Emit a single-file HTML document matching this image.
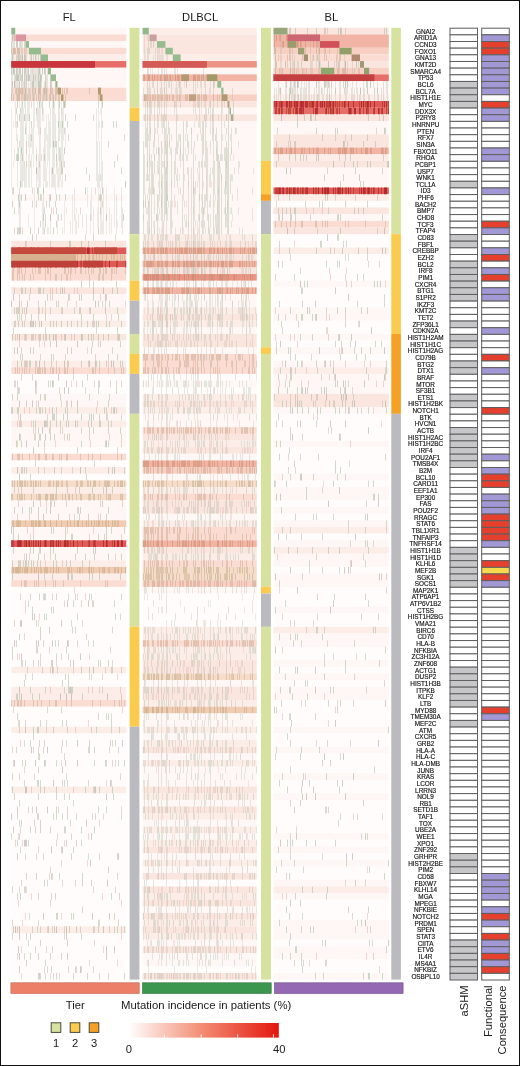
<!DOCTYPE html>
<html><head><meta charset="utf-8"><title>Mutation heatmap</title>
<style>
html,body{margin:0;padding:0;background:#fff;}
body{width:520px;height:1066px;position:relative;overflow:hidden;font-family:"Liberation Sans",sans-serif;}
.frame{position:absolute;left:0;top:0;width:520px;height:1066px;box-sizing:border-box;border:1px solid #111;pointer-events:none;}
</style></head><body>
<svg width="520" height="1066" viewBox="0 0 520 1066" style="position:absolute;left:0;top:0"><defs><linearGradient id="lg" x1="0" x2="1" y1="0" y2="0"><stop offset="0" stop-color="#ffffff"/><stop offset="0.5" stop-color="#f28a70"/><stop offset="1" stop-color="#e3170f"/></linearGradient><filter id="bl" x="0" y="0" width="1" height="1"><feGaussianBlur stdDeviation="0.25"/></filter><filter id="gb" x="0" y="0" width="520" height="1066" filterUnits="userSpaceOnUse"><feGaussianBlur stdDeviation="0.45"/></filter></defs><rect x="0" y="0" width="520" height="1066" fill="#fff"/><g filter="url(#gb)"><g filter="url(#bl)"><rect x="11.3" y="27.8" width="115" height="6.68" fill="#fef7f5"/><rect x="11.3" y="34.46" width="115" height="6.68" fill="#fadcd3"/><rect x="11.3" y="41.11" width="115" height="6.68" fill="#fef7f5"/><rect x="11.3" y="47.77" width="115" height="6.68" fill="#fadcd3"/><rect x="11.3" y="54.42" width="115" height="6.68" fill="#fcede8"/><rect x="11.3" y="61.08" width="115" height="6.68" fill="#e66e68"/><rect x="11.3" y="67.74" width="115" height="19.99" fill="#fef7f5"/><rect x="11.3" y="87.7" width="115" height="13.33" fill="#fadcd3"/><rect x="11.3" y="101.02" width="115" height="93.2" fill="#fffcfb"/><rect x="11.3" y="194.2" width="115" height="6.68" fill="#fef7f5"/><rect x="11.3" y="200.86" width="115" height="39.96" fill="#fffcfb"/><rect x="11.3" y="240.79" width="115" height="6.68" fill="#fbe5df"/><rect x="11.3" y="247.45" width="115" height="6.68" fill="#e05a58"/><rect x="11.3" y="254.1" width="115" height="6.68" fill="#f2cbb3"/><rect x="11.3" y="260.76" width="115" height="6.68" fill="#e05a58"/><rect x="11.3" y="267.42" width="115" height="13.33" fill="#fadcd3"/><rect x="11.3" y="280.73" width="115" height="6.68" fill="#fffcfb"/><rect x="11.3" y="287.38" width="115" height="6.68" fill="#fbe5df"/><rect x="11.3" y="294.04" width="115" height="13.33" fill="#fef7f5"/><rect x="11.3" y="307.35" width="115" height="6.68" fill="#fcede8"/><rect x="11.3" y="314.01" width="115" height="6.68" fill="#fef7f5"/><rect x="11.3" y="320.66" width="115" height="6.68" fill="#fcede8"/><rect x="11.3" y="327.32" width="115" height="6.68" fill="#fffcfb"/><rect x="11.3" y="333.98" width="115" height="6.68" fill="#fbe5df"/><rect x="11.3" y="340.63" width="115" height="19.99" fill="#fef7f5"/><rect x="11.3" y="360.6" width="115" height="6.68" fill="#fcede8"/><rect x="11.3" y="367.26" width="115" height="6.68" fill="#fadcd3"/><rect x="11.3" y="373.91" width="115" height="19.99" fill="#fffcfb"/><rect x="11.3" y="393.88" width="115" height="13.33" fill="#fef7f5"/><rect x="11.3" y="407.19" width="115" height="6.68" fill="#fcede8"/><rect x="11.3" y="413.85" width="115" height="6.68" fill="#fef7f5"/><rect x="11.3" y="420.5" width="115" height="6.68" fill="#fcede8"/><rect x="11.3" y="427.16" width="115" height="19.99" fill="#fef7f5"/><rect x="11.3" y="447.13" width="115" height="6.68" fill="#fffcfb"/><rect x="11.3" y="453.78" width="115" height="6.68" fill="#fadcd3"/><rect x="11.3" y="460.44" width="115" height="6.68" fill="#fffcfb"/><rect x="11.3" y="467.1" width="115" height="6.68" fill="#fcede8"/><rect x="11.3" y="473.75" width="115" height="6.68" fill="#fffcfb"/><rect x="11.3" y="480.41" width="115" height="6.68" fill="#f6dccb"/><rect x="11.3" y="487.06" width="115" height="6.68" fill="#fcede8"/><rect x="11.3" y="493.72" width="115" height="6.68" fill="#f6dccb"/><rect x="11.3" y="500.38" width="115" height="19.99" fill="#fef7f5"/><rect x="11.3" y="520.34" width="115" height="6.68" fill="#f2cbb3"/><rect x="11.3" y="527" width="115" height="13.33" fill="#fef7f5"/><rect x="11.3" y="540.31" width="115" height="6.68" fill="#e05a58"/><rect x="11.3" y="546.97" width="115" height="13.33" fill="#fef7f5"/><rect x="11.3" y="560.28" width="115" height="6.68" fill="#fcede8"/><rect x="11.3" y="566.94" width="115" height="6.68" fill="#f2cbb3"/><rect x="11.3" y="573.59" width="115" height="6.68" fill="#fcede8"/><rect x="11.3" y="580.25" width="115" height="6.68" fill="#fadcd3"/><rect x="11.3" y="586.9" width="115" height="79.89" fill="#fffcfb"/><rect x="11.3" y="666.78" width="115" height="6.68" fill="#fcede8"/><rect x="11.3" y="673.43" width="115" height="13.33" fill="#fffcfb"/><rect x="11.3" y="686.74" width="115" height="13.33" fill="#fcede8"/><rect x="11.3" y="700.06" width="115" height="6.68" fill="#fadcd3"/><rect x="11.3" y="706.71" width="115" height="19.99" fill="#fffcfb"/><rect x="11.3" y="726.68" width="115" height="6.68" fill="#fcede8"/><rect x="11.3" y="733.34" width="115" height="53.27" fill="#fffcfb"/><rect x="11.3" y="786.58" width="115" height="6.68" fill="#fcede8"/><rect x="11.3" y="793.24" width="115" height="133.14" fill="#fffcfb"/><rect x="11.3" y="926.36" width="115" height="6.68" fill="#fcede8"/><rect x="11.3" y="933.02" width="115" height="46.61" fill="#fffcfb"/><path fill="#8fae88" fill-opacity="0.42" d="M11 41.11h1v6.66h-1zM11 407.19h1v6.66h-1zM11 833.18h1v6.66h-1zM12 54.42h1v6.66h-1zM12 81.05h1v6.66h-1zM12 333.98h1v6.66h-1zM12 393.88h1v6.66h-1zM12 407.19h1v6.66h-1zM12 560.28h1v6.66h-1zM12 573.59h1v6.66h-1zM12 646.81h1v13.31h-1zM12 773.27h1v6.66h-1zM12 786.58h1v6.66h-1zM12 886.42h1v6.66h-1zM12 919.7h1v6.66h-1zM13 67.74h1v6.66h-1zM13 187.54h1v6.66h-1zM13 327.32h1v6.66h-1zM13 527h1v13.31h-1zM13 546.97h1v6.66h-1zM13 926.36h1v6.66h-1zM14 67.74h1v6.66h-1zM14 207.51h1v6.66h-1zM14 307.35h1v6.66h-1zM14 320.66h1v6.66h-1zM14 347.29h1v6.66h-1zM14 507.03h1v6.66h-1zM14 620.18h1v6.66h-1zM14 793.24h1v6.66h-1zM15 74.39h1v6.66h-1zM16 54.42h1v6.66h-1zM16 67.74h1v13.31h-1zM16 107.67h1v6.66h-1zM16 154.26h1v6.66h-1zM16 307.35h1v6.66h-1zM16 440.47h1v6.66h-1zM16 640.15h1v6.66h-1zM17 67.74h1v6.66h-1zM17 101.02h1v6.66h-1zM17 154.26h1v6.66h-1zM17 227.48h1v6.66h-1zM17 314.01h1v6.66h-1zM17 360.6h1v6.66h-1zM17 393.88h1v6.66h-1zM17 407.19h1v6.66h-1zM17 693.4h1v6.66h-1zM17 713.37h1v6.66h-1zM17 813.21h1v6.66h-1zM17 839.83h1v6.66h-1zM17 893.08h1v6.66h-1zM18 54.42h1v6.66h-1zM18 74.39h1v6.66h-1zM18 147.61h1v6.66h-1zM18 307.35h1v6.66h-1zM18 320.66h1v6.66h-1zM18 387.22h1v6.66h-1zM18 407.19h1v6.66h-1zM18 533.66h1v6.66h-1zM18 560.28h1v6.66h-1zM19 200.86h1v6.66h-1zM19 307.35h1v6.66h-1zM19 633.5h1v6.66h-1zM19 726.68h1v6.66h-1zM19 773.27h1v6.66h-1zM19 799.9h1v6.66h-1zM19 819.86h1v6.66h-1zM19 833.18h1v6.66h-1zM20 41.11h1v6.66h-1zM20 74.39h1v6.66h-1zM20 107.67h1v6.66h-1zM20 180.89h1v6.66h-1zM20 560.28h1v6.66h-1zM21 74.39h1v6.66h-1zM21 147.61h1v6.66h-1zM21 194.2h1v6.66h-1zM21 287.38h1v6.66h-1zM21 314.01h1v6.66h-1zM21 360.6h1v6.66h-1zM21 373.91h1v6.66h-1zM21 440.47h1v6.66h-1zM21 660.12h1v6.66h-1zM21 819.86h1v6.66h-1zM22 67.74h1v6.66h-1zM22 101.02h1v6.66h-1zM22 307.35h1v6.66h-1zM22 320.66h1v6.66h-1zM22 353.94h1v6.66h-1zM22 507.03h1v6.66h-1zM24 467.1h1v6.66h-1zM24 680.09h1v6.66h-1zM25 287.38h1v6.66h-1zM25 673.43h1v6.66h-1zM25 759.96h1v6.66h-1zM25 886.42h1v6.66h-1zM26 74.39h1v6.66h-1zM26 400.54h1v6.66h-1zM26 873.11h1v6.66h-1zM26 933.02h1v6.66h-1zM26 959.64h1v6.66h-1zM28 67.74h1v6.66h-1zM28 560.28h1v6.66h-1zM29 114.33h1v6.66h-1zM29 360.6h1v6.66h-1zM29 507.03h1v6.66h-1zM30 287.38h1v6.66h-1zM30 347.29h1v6.66h-1zM30 360.6h1v6.66h-1zM30 473.75h1v6.66h-1zM30 546.97h1v6.66h-1zM30 593.56h1v6.66h-1zM30 686.74h1v6.66h-1zM30 739.99h1v6.66h-1zM30 826.52h1v6.66h-1zM30 933.02h1v6.66h-1zM30 952.98h1v6.66h-1zM31 120.98h1v6.66h-1zM31 134.3h1v6.66h-1zM31 314.01h1v6.66h-1zM31 507.03h1v6.66h-1zM31 560.28h1v6.66h-1zM32 81.05h1v6.66h-1zM32 606.87h1v6.66h-1zM32 693.4h1v6.66h-1zM33 54.42h1v6.66h-1zM33 74.39h1v6.66h-1zM33 347.29h1v6.66h-1zM33 420.5h1v6.66h-1zM33 546.97h1v6.66h-1zM33 660.12h1v6.66h-1zM33 726.68h1v13.31h-1zM34 819.86h1v6.66h-1zM35 387.22h1v6.66h-1zM35 420.5h1v6.66h-1zM35 826.52h1v6.66h-1zM36 154.26h1v6.66h-1zM36 200.86h1v6.66h-1zM36 407.19h1v6.66h-1zM36 620.18h1v6.66h-1zM36 873.11h1v6.66h-1zM37 560.28h1v6.66h-1zM37 646.81h1v6.66h-1zM37 726.68h1v6.66h-1zM37 779.93h1v6.66h-1zM37 813.21h1v6.66h-1zM38 54.42h1v6.66h-1zM38 67.74h1v19.97h-1zM38 187.54h1v13.31h-1zM38 227.48h1v6.66h-1zM38 307.35h1v13.31h-1zM38 400.54h1v6.66h-1zM38 427.16h1v6.66h-1zM38 440.47h1v6.66h-1zM38 467.1h1v6.66h-1zM38 507.03h1v13.31h-1zM38 553.62h1v6.66h-1zM38 660.12h1v6.66h-1zM38 726.68h1v6.66h-1zM38 746.65h1v6.66h-1zM38 766.62h1v6.66h-1zM38 779.93h1v6.66h-1zM38 793.24h1v6.66h-1zM38 893.08h1v6.66h-1zM38 952.98h1v6.66h-1zM38 972.95h1v6.66h-1zM39 67.74h1v6.66h-1zM39 81.05h1v6.66h-1zM39 101.02h1v6.66h-1zM39 287.38h1v6.66h-1zM39 320.66h1v6.66h-1zM39 407.19h1v6.66h-1zM39 433.82h1v6.66h-1zM39 593.56h1v6.66h-1zM39 693.4h1v6.66h-1zM39 739.99h1v6.66h-1zM39 753.3h1v6.66h-1zM40 194.2h1v6.66h-1zM40 287.38h1v6.66h-1zM40 333.98h1v6.66h-1zM40 393.88h1v6.66h-1zM40 407.19h1v6.66h-1zM40 433.82h1v6.66h-1zM40 546.97h1v6.66h-1zM40 626.84h1v13.31h-1zM40 720.02h1v6.66h-1zM40 786.58h1v6.66h-1zM40 819.86h1v13.31h-1zM40 939.67h1v6.66h-1zM40 972.95h1v6.66h-1zM42 101.02h1v6.66h-1zM43 187.54h1v6.66h-1zM43 214.17h1v6.66h-1zM43 287.38h1v6.66h-1zM43 640.15h1v6.66h-1zM43 746.65h1v6.66h-1zM43 853.14h1v6.66h-1zM44 154.26h1v6.66h-1zM44 440.47h1v6.66h-1zM44 593.56h1v6.66h-1zM44 613.53h1v6.66h-1zM44 739.99h1v6.66h-1zM44 786.58h1v6.66h-1zM44 879.77h1v6.66h-1zM45 67.74h1v19.97h-1zM45 220.82h1v6.66h-1zM45 300.7h1v6.66h-1zM45 314.01h1v6.66h-1zM45 327.32h1v13.31h-1zM45 393.88h1v6.66h-1zM45 407.19h1v6.66h-1zM45 420.5h1v6.66h-1zM45 593.56h1v6.66h-1zM45 759.96h1v6.66h-1zM45 959.64h1v6.66h-1zM46 613.53h1v6.66h-1zM47 294.04h1v6.66h-1zM48 380.57h1v6.66h-1zM48 926.36h1v6.66h-1zM49 101.02h1v6.66h-1zM49 200.86h1v6.66h-1zM49 333.98h1v6.66h-1zM49 427.16h1v6.66h-1zM49 626.84h1v6.66h-1zM50 74.39h1v13.31h-1zM50 320.66h1v6.66h-1zM50 340.63h1v6.66h-1zM50 420.5h1v6.66h-1zM50 433.82h1v6.66h-1zM50 500.38h1v6.66h-1zM50 546.97h1v6.66h-1zM50 826.52h1v6.66h-1zM50 952.98h1v6.66h-1zM51 81.05h1v6.66h-1zM51 353.94h1v13.31h-1zM51 527h1v6.66h-1zM51 606.87h1v6.66h-1zM51 660.12h1v6.66h-1zM51 873.11h1v6.66h-1zM51 893.08h1v6.66h-1zM51 966.3h1v6.66h-1zM52 413.85h1v6.66h-1zM53 101.02h1v6.66h-1zM53 227.48h1v6.66h-1zM53 320.66h1v6.66h-1zM53 380.57h1v6.66h-1zM53 413.85h1v6.66h-1zM53 546.97h1v6.66h-1zM53 560.28h1v6.66h-1zM53 606.87h1v6.66h-1zM53 726.68h1v6.66h-1zM53 813.21h1v6.66h-1zM54 413.85h1v6.66h-1zM54 433.82h1v6.66h-1zM54 467.1h1v6.66h-1zM54 500.38h1v6.66h-1zM54 926.36h1v6.66h-1zM55 140.95h1v6.66h-1zM55 200.86h1v6.66h-1zM55 333.98h1v6.66h-1zM55 553.62h1v6.66h-1zM55 640.15h1v6.66h-1zM55 893.08h1v6.66h-1zM56 140.95h1v6.66h-1zM56 154.26h1v6.66h-1zM56 194.2h1v6.66h-1zM56 207.51h1v6.66h-1zM56 220.82h1v6.66h-1zM56 300.7h1v6.66h-1zM56 320.66h1v6.66h-1zM56 420.5h1v6.66h-1zM56 487.06h1v6.66h-1zM56 560.28h1v6.66h-1zM56 593.56h1v6.66h-1zM56 653.46h1v6.66h-1zM56 759.96h1v6.66h-1zM56 786.58h1v13.31h-1zM56 806.55h1v13.31h-1zM56 913.05h1v6.66h-1zM56 972.95h1v6.66h-1zM57 913.05h1v6.66h-1zM58 120.98h1v6.66h-1zM58 300.7h1v6.66h-1zM58 513.69h1v6.66h-1zM58 640.15h1v6.66h-1zM59 147.61h1v6.66h-1zM60 393.88h1v6.66h-1zM60 420.5h1v6.66h-1zM61 160.92h1v6.66h-1zM61 320.66h1v6.66h-1zM61 706.71h1v6.66h-1zM61 846.49h1v6.66h-1zM61 952.98h1v6.66h-1zM62 120.98h1v6.66h-1zM62 167.58h1v6.66h-1zM62 680.09h1v6.66h-1zM62 720.02h1v6.66h-1zM62 739.99h1v6.66h-1zM62 779.93h1v6.66h-1zM63 413.85h1v6.66h-1zM64 101.02h1v6.66h-1zM64 333.98h1v6.66h-1zM64 779.93h1v6.66h-1zM64 793.24h1v6.66h-1zM64 826.52h1v6.66h-1zM65 114.33h1v6.66h-1zM65 174.23h1v6.66h-1zM65 194.2h1v6.66h-1zM65 407.19h1v6.66h-1zM65 527h1v13.31h-1zM65 673.43h1v6.66h-1zM65 826.52h1v6.66h-1zM66 420.5h1v6.66h-1zM66 560.28h1v6.66h-1zM66 646.81h1v6.66h-1zM66 720.02h1v6.66h-1zM66 839.83h1v6.66h-1zM67 120.98h1v6.66h-1zM67 320.66h1v6.66h-1zM67 347.29h1v6.66h-1zM67 407.19h1v13.31h-1zM67 433.82h1v6.66h-1zM67 487.06h1v6.66h-1zM67 779.93h1v6.66h-1zM67 806.55h1v13.31h-1zM67 939.67h1v6.66h-1zM68 294.04h1v6.66h-1zM68 360.6h1v6.66h-1zM68 420.5h1v6.66h-1zM68 640.15h1v6.66h-1zM68 653.46h1v6.66h-1zM68 680.09h1v6.66h-1zM69 240.79h1v6.66h-1zM69 433.82h1v6.66h-1zM69 686.74h1v6.66h-1zM69 793.24h1v6.66h-1zM69 926.36h1v6.66h-1zM70 240.79h1v6.66h-1zM70 660.12h1v6.66h-1zM71 320.66h1v6.66h-1zM71 347.29h1v6.66h-1zM71 400.54h1v6.66h-1zM71 533.66h1v6.66h-1zM71 573.59h1v6.66h-1zM71 686.74h1v6.66h-1zM71 833.18h1v6.66h-1zM71 853.14h1v6.66h-1zM72 533.66h1v6.66h-1zM72 626.84h1v6.66h-1zM72 686.74h1v6.66h-1zM73 600.22h1v6.66h-1zM73 913.05h1v6.66h-1zM75 553.62h1v6.66h-1zM75 593.56h1v6.66h-1zM75 626.84h1v6.66h-1zM75 966.3h1v6.66h-1zM76 813.21h1v6.66h-1zM76 839.83h1v6.66h-1zM76 926.36h1v6.66h-1zM77 320.66h1v6.66h-1zM77 407.19h1v6.66h-1zM77 447.13h1v6.66h-1zM77 546.97h1v6.66h-1zM77 613.53h1v6.66h-1zM79 294.04h1v6.66h-1zM79 307.35h1v6.66h-1zM79 487.06h1v6.66h-1zM79 513.69h1v6.66h-1zM80 307.35h1v6.66h-1zM80 507.03h1v6.66h-1zM81 240.79h1v6.66h-1zM81 294.04h1v6.66h-1zM81 314.01h1v13.31h-1zM81 413.85h1v6.66h-1zM81 440.47h1v6.66h-1zM81 600.22h1v6.66h-1zM81 666.78h1v6.66h-1zM81 826.52h1v6.66h-1zM81 839.83h1v6.66h-1zM81 933.02h1v6.66h-1zM82 333.98h1v6.66h-1zM82 380.57h1v6.66h-1zM82 560.28h1v6.66h-1zM82 693.4h1v6.66h-1zM82 873.11h1v13.31h-1zM82 906.39h1v6.66h-1zM85 553.62h1v6.66h-1zM85 786.58h1v6.66h-1zM86 473.75h1v6.66h-1zM86 633.5h1v6.66h-1zM87 320.66h1v6.66h-1zM87 373.91h1v6.66h-1zM87 972.95h1v6.66h-1zM88 333.98h1v6.66h-1zM88 513.69h1v6.66h-1zM89 280.73h1v6.66h-1zM89 413.85h1v6.66h-1zM89 427.16h1v6.66h-1zM89 573.59h1v6.66h-1zM89 593.56h1v6.66h-1zM89 666.78h1v6.66h-1zM89 739.99h1v13.31h-1zM90 307.35h1v6.66h-1zM91 333.98h1v6.66h-1zM91 347.29h1v6.66h-1zM91 420.5h1v6.66h-1zM91 879.77h1v6.66h-1zM92 487.06h1v6.66h-1zM92 573.59h1v6.66h-1zM92 600.22h1v6.66h-1zM93 234.14h1v6.66h-1zM93 280.73h1v6.66h-1zM93 294.04h1v6.66h-1zM93 314.01h1v6.66h-1zM93 413.85h1v6.66h-1zM93 427.16h1v6.66h-1zM93 546.97h1v6.66h-1zM93 640.15h1v6.66h-1zM93 926.36h1v6.66h-1zM94 460.44h1v6.66h-1zM94 553.62h1v6.66h-1zM94 746.65h1v6.66h-1zM94 759.96h1v6.66h-1zM94 786.58h1v6.66h-1zM94 826.52h1v6.66h-1zM95 813.21h1v6.66h-1zM96 320.66h1v6.66h-1zM96 360.6h1v6.66h-1zM96 726.68h1v6.66h-1zM98 101.02h1v6.66h-1zM98 300.7h1v6.66h-1zM98 320.66h1v6.66h-1zM98 333.98h1v6.66h-1zM98 387.22h1v6.66h-1zM98 533.66h1v6.66h-1zM98 660.12h1v6.66h-1zM98 713.37h1v6.66h-1zM98 806.55h1v6.66h-1zM98 919.7h1v13.31h-1zM99 360.6h1v6.66h-1zM99 380.57h1v6.66h-1zM99 413.85h1v13.31h-1zM99 573.59h1v6.66h-1zM99 786.58h1v6.66h-1zM99 853.14h1v6.66h-1zM99 972.95h1v6.66h-1zM100 194.2h1v6.66h-1zM100 340.63h1v6.66h-1zM100 420.5h1v6.66h-1zM100 660.12h1v6.66h-1zM102 101.02h1v6.66h-1zM102 120.98h1v6.66h-1zM102 500.38h1v6.66h-1zM103 333.98h1v6.66h-1zM103 487.06h1v6.66h-1zM104 407.19h1v6.66h-1zM104 533.66h1v6.66h-1zM105 240.79h1v6.66h-1zM105 440.47h1v6.66h-1zM105 759.96h1v6.66h-1zM106 320.66h1v6.66h-1zM106 360.6h1v6.66h-1zM106 407.19h1v13.31h-1zM106 513.69h1v6.66h-1zM106 527h1v13.31h-1zM106 713.37h1v6.66h-1zM106 759.96h1v6.66h-1zM108 140.95h1v6.66h-1zM108 333.98h1v6.66h-1zM108 353.94h1v6.66h-1zM108 400.54h1v6.66h-1zM108 420.5h1v13.31h-1zM108 467.1h1v6.66h-1zM108 507.03h1v6.66h-1zM108 553.62h1v6.66h-1zM108 660.12h1v6.66h-1zM108 713.37h1v6.66h-1zM108 866.46h1v6.66h-1zM108 972.95h1v6.66h-1zM109 300.7h1v6.66h-1zM109 320.66h1v6.66h-1zM110 739.99h1v6.66h-1zM111 527h1v6.66h-1zM111 720.02h1v6.66h-1zM111 893.08h1v6.66h-1zM112 287.38h1v6.66h-1zM112 467.1h1v6.66h-1zM112 487.06h1v6.66h-1zM112 786.58h1v6.66h-1zM113 120.98h1v6.66h-1zM113 407.19h1v6.66h-1zM113 793.24h1v6.66h-1zM114 160.92h1v6.66h-1zM114 600.22h1v6.66h-1zM114 913.05h1v6.66h-1zM114 926.36h1v6.66h-1zM115 613.53h1v6.66h-1zM115 739.99h1v6.66h-1zM116 120.98h1v6.66h-1zM116 280.73h1v6.66h-1zM116 387.22h1v6.66h-1zM117 287.38h1v6.66h-1zM117 307.35h1v6.66h-1zM117 327.32h1v6.66h-1zM117 353.94h1v6.66h-1zM117 853.14h1v6.66h-1zM117 926.36h1v6.66h-1zM118 314.01h1v6.66h-1zM118 333.98h1v6.66h-1zM118 759.96h1v6.66h-1zM118 919.7h1v6.66h-1zM119 333.98h1v6.66h-1zM119 726.68h1v6.66h-1zM119 893.08h1v6.66h-1zM120 340.63h1v6.66h-1zM120 360.6h1v6.66h-1zM120 427.16h1v6.66h-1zM120 573.59h1v6.66h-1zM121 167.58h1v6.66h-1zM121 553.62h1v6.66h-1zM121 593.56h1v6.66h-1zM124 467.1h1v6.66h-1zM124 527h1v6.66h-1zM124 759.96h1v6.66h-1zM124 926.36h1v6.66h-1zM124 972.95h1v6.66h-1z"/><path fill="#a8a080" fill-opacity="0.38" d="M11 47.77h1v6.66h-1zM12 453.78h1v6.66h-1zM14 700.06h1v6.66h-1zM17 274.07h1v6.66h-1zM18 700.06h1v6.66h-1zM19 47.77h1v6.66h-1zM22 87.7h1v6.66h-1zM22 274.07h1v6.66h-1zM27 94.36h1v6.66h-1zM30 94.36h1v6.66h-1zM35 87.7h1v6.66h-1zM35 367.26h1v6.66h-1zM37 700.06h1v6.66h-1zM39 87.7h1v6.66h-1zM39 367.26h1v6.66h-1zM42 367.26h1v6.66h-1zM44 87.7h1v6.66h-1zM44 367.26h1v6.66h-1zM45 580.25h1v6.66h-1zM49 94.36h1v6.66h-1zM52 87.7h1v6.66h-1zM52 367.26h1v6.66h-1zM55 87.7h1v6.66h-1zM55 274.07h1v6.66h-1zM55 580.25h1v6.66h-1zM56 274.07h1v6.66h-1zM56 367.26h1v6.66h-1zM59 94.36h1v6.66h-1zM59 453.78h1v6.66h-1zM61 453.78h1v6.66h-1zM63 580.25h1v6.66h-1zM64 87.7h1v6.66h-1zM71 700.06h1v6.66h-1zM89 87.7h1v6.66h-1zM89 274.07h1v6.66h-1zM91 267.42h1v6.66h-1zM92 367.26h1v6.66h-1zM95 367.26h1v6.66h-1zM98 87.7h1v6.66h-1zM98 274.07h1v6.66h-1zM99 274.07h1v6.66h-1zM100 267.42h1v6.66h-1zM103 267.42h1v6.66h-1zM105 267.42h1v6.66h-1zM105 580.25h1v6.66h-1zM114 367.26h1v6.66h-1zM114 700.06h1v6.66h-1zM121 367.26h1v6.66h-1zM121 453.78h1v6.66h-1zM121 700.06h1v6.66h-1zM123 367.26h1v6.66h-1z"/><path fill="#a4ae9e" fill-opacity="0.42" d="M11 67.74h1v6.66h-1zM12 933.02h1v6.66h-1zM14 287.38h1v6.66h-1zM14 380.57h1v6.66h-1zM14 487.06h1v6.66h-1zM15 320.66h1v6.66h-1zM15 380.57h1v6.66h-1zM16 693.4h1v6.66h-1zM16 746.65h1v6.66h-1zM17 380.57h1v13.31h-1zM17 926.36h1v6.66h-1zM18 194.2h1v6.66h-1zM18 227.48h1v6.66h-1zM18 500.38h1v6.66h-1zM19 81.05h1v6.66h-1zM19 294.04h1v6.66h-1zM19 314.01h1v6.66h-1zM19 420.5h1v6.66h-1zM19 693.4h1v6.66h-1zM19 720.02h1v6.66h-1zM20 54.42h1v6.66h-1zM20 353.94h1v6.66h-1zM20 420.5h1v6.66h-1zM20 433.82h1v6.66h-1zM20 593.56h1v6.66h-1zM20 846.49h1v6.66h-1zM21 81.05h1v6.66h-1zM21 347.29h1v6.66h-1zM21 467.1h1v6.66h-1zM21 487.06h1v6.66h-1zM22 74.39h1v6.66h-1zM22 287.38h1v6.66h-1zM22 467.1h1v6.66h-1zM22 759.96h1v6.66h-1zM23 560.28h1v6.66h-1zM24 41.11h1v6.66h-1zM24 54.42h1v6.66h-1zM24 67.74h1v19.97h-1zM24 320.66h1v6.66h-1zM24 739.99h1v6.66h-1zM24 779.93h1v6.66h-1zM24 886.42h1v6.66h-1zM25 41.11h1v6.66h-1zM25 67.74h1v6.66h-1zM25 127.64h1v6.66h-1zM25 240.79h1v6.66h-1zM25 333.98h1v6.66h-1zM25 660.12h1v6.66h-1zM25 720.02h1v6.66h-1zM25 853.14h1v6.66h-1zM26 160.92h1v6.66h-1zM26 360.6h1v6.66h-1zM26 467.1h1v6.66h-1zM26 560.28h1v6.66h-1zM28 600.22h1v6.66h-1zM28 806.55h1v6.66h-1zM28 839.83h1v6.66h-1zM28 939.67h1v6.66h-1zM29 294.04h1v6.66h-1zM29 553.62h1v6.66h-1zM29 913.05h1v6.66h-1zM30 227.48h1v6.66h-1zM31 54.42h1v6.66h-1zM31 320.66h1v6.66h-1zM31 333.98h1v6.66h-1zM32 200.86h1v6.66h-1zM32 320.66h1v6.66h-1zM32 333.98h1v6.66h-1zM32 373.91h1v6.66h-1zM32 673.43h1v6.66h-1zM32 806.55h1v6.66h-1zM32 926.36h1v6.66h-1zM33 81.05h1v6.66h-1zM33 487.06h1v6.66h-1zM33 533.66h1v6.66h-1zM33 560.28h1v6.66h-1zM33 746.65h1v6.66h-1zM35 320.66h1v6.66h-1zM35 360.6h1v6.66h-1zM35 427.16h1v6.66h-1zM35 460.44h1v6.66h-1zM35 946.33h1v6.66h-1zM36 380.57h1v6.66h-1zM36 853.14h1v6.66h-1zM37 926.36h1v6.66h-1zM38 287.38h1v6.66h-1zM38 300.7h1v6.66h-1zM38 813.21h1v6.66h-1zM38 846.49h1v6.66h-1zM38 919.7h1v6.66h-1zM39 333.98h1v6.66h-1zM39 546.97h1v6.66h-1zM40 54.42h1v6.66h-1zM40 560.28h1v6.66h-1zM40 653.46h1v13.31h-1zM40 779.93h1v6.66h-1zM40 926.36h1v6.66h-1zM42 407.19h1v6.66h-1zM42 666.78h1v6.66h-1zM43 333.98h1v6.66h-1zM43 593.56h1v6.66h-1zM44 207.51h1v6.66h-1zM44 227.48h1v6.66h-1zM44 360.6h1v6.66h-1zM44 573.59h1v6.66h-1zM44 966.3h1v6.66h-1zM45 214.17h1v6.66h-1zM45 686.74h1v6.66h-1zM45 972.95h1v6.66h-1zM46 200.86h1v6.66h-1zM46 333.98h1v6.66h-1zM46 420.5h1v6.66h-1zM46 507.03h1v6.66h-1zM46 720.02h1v6.66h-1zM46 946.33h1v6.66h-1zM47 420.5h1v6.66h-1zM47 706.71h1v6.66h-1zM47 879.77h1v6.66h-1zM47 966.3h1v6.66h-1zM50 240.79h1v6.66h-1zM50 307.35h1v6.66h-1zM50 380.57h1v6.66h-1zM50 899.74h1v6.66h-1zM52 573.59h1v6.66h-1zM52 593.56h1v6.66h-1zM52 946.33h1v6.66h-1zM53 353.94h1v6.66h-1zM53 527h1v6.66h-1zM53 972.95h1v6.66h-1zM56 160.92h1v6.66h-1zM56 407.19h1v6.66h-1zM56 839.83h1v6.66h-1zM57 666.78h1v6.66h-1zM58 214.17h1v6.66h-1zM59 101.02h1v6.66h-1zM59 154.26h1v6.66h-1zM59 194.2h1v6.66h-1zM59 873.11h1v6.66h-1zM60 154.26h1v6.66h-1zM60 287.38h1v6.66h-1zM61 214.17h1v6.66h-1zM61 467.1h1v6.66h-1zM61 653.46h1v6.66h-1zM62 307.35h1v6.66h-1zM62 427.16h1v6.66h-1zM62 813.21h1v6.66h-1zM64 127.64h1v6.66h-1zM64 287.38h1v6.66h-1zM64 686.74h1v6.66h-1zM64 753.3h1v6.66h-1zM66 400.54h1v6.66h-1zM66 500.38h1v6.66h-1zM66 773.27h1v6.66h-1zM67 726.68h1v6.66h-1zM68 134.3h1v6.66h-1zM68 593.56h1v6.66h-1zM68 673.43h1v6.66h-1zM68 686.74h1v6.66h-1zM68 966.3h1v6.66h-1zM69 294.04h1v6.66h-1zM70 560.28h1v6.66h-1zM70 819.86h1v6.66h-1zM71 620.18h1v6.66h-1zM71 913.05h1v6.66h-1zM72 573.59h1v6.66h-1zM73 373.91h1v6.66h-1zM73 799.9h1v6.66h-1zM73 846.49h1v6.66h-1zM73 972.95h1v6.66h-1zM74 307.35h1v6.66h-1zM74 333.98h1v6.66h-1zM75 114.33h1v6.66h-1zM75 487.06h1v6.66h-1zM75 879.77h1v6.66h-1zM76 966.3h1v6.66h-1zM77 420.5h1v6.66h-1zM77 507.03h1v6.66h-1zM77 640.15h1v6.66h-1zM78 507.03h1v6.66h-1zM80 926.36h1v6.66h-1zM81 360.6h1v6.66h-1zM81 427.16h1v6.66h-1zM81 966.3h1v6.66h-1zM85 387.22h1v6.66h-1zM85 467.1h1v6.66h-1zM88 240.79h1v6.66h-1zM88 360.6h1v6.66h-1zM88 420.5h1v6.66h-1zM88 640.15h1v6.66h-1zM88 746.65h1v6.66h-1zM88 779.93h1v6.66h-1zM88 853.14h1v6.66h-1zM89 174.23h1v6.66h-1zM89 307.35h1v6.66h-1zM89 393.88h1v6.66h-1zM89 433.82h1v6.66h-1zM89 673.43h1v6.66h-1zM91 593.56h1v6.66h-1zM91 673.43h1v6.66h-1zM91 726.68h1v6.66h-1zM92 320.66h1v6.66h-1zM92 340.63h1v6.66h-1zM92 813.21h1v6.66h-1zM93 320.66h1v6.66h-1zM93 333.98h1v6.66h-1zM93 600.22h1v6.66h-1zM93 966.3h1v6.66h-1zM95 353.94h1v6.66h-1zM96 327.32h1v6.66h-1zM98 227.48h1v6.66h-1zM98 380.57h1v6.66h-1zM99 194.2h1v6.66h-1zM99 919.7h1v6.66h-1zM100 207.51h1v6.66h-1zM100 513.69h1v6.66h-1zM101 194.2h1v6.66h-1zM102 300.7h1v6.66h-1zM102 686.74h1v6.66h-1zM105 300.7h1v6.66h-1zM106 294.04h1v6.66h-1zM106 806.55h1v6.66h-1zM108 440.47h1v6.66h-1zM109 393.88h1v6.66h-1zM109 746.65h1v6.66h-1zM109 926.36h1v6.66h-1zM110 380.57h1v6.66h-1zM110 646.81h1v6.66h-1zM111 420.5h1v6.66h-1zM111 666.78h1v6.66h-1zM111 713.37h1v6.66h-1zM111 726.68h1v6.66h-1zM111 779.93h1v6.66h-1zM112 347.29h1v6.66h-1zM112 626.84h1v6.66h-1zM112 666.78h1v6.66h-1zM112 739.99h1v6.66h-1zM112 759.96h1v6.66h-1zM115 759.96h1v6.66h-1zM115 886.42h1v6.66h-1zM116 407.19h1v6.66h-1zM117 447.13h1v6.66h-1zM117 873.11h1v6.66h-1zM118 746.65h1v6.66h-1zM120 613.53h1v6.66h-1zM121 320.66h1v6.66h-1zM121 413.85h1v6.66h-1zM121 666.78h1v6.66h-1zM121 693.4h1v6.66h-1zM121 806.55h1v6.66h-1zM121 926.36h1v6.66h-1zM122 360.6h1v6.66h-1z"/><path fill="#c8906e" fill-opacity="0.38" d="M11 94.36h1v6.66h-1zM12 274.07h1v6.66h-1zM13 47.77h1v6.66h-1zM15 47.77h1v6.66h-1zM17 47.77h1v6.66h-1zM17 94.36h1v6.66h-1zM19 267.42h1v6.66h-1zM20 87.7h1v6.66h-1zM21 87.7h1v6.66h-1zM21 267.42h1v6.66h-1zM24 274.07h1v6.66h-1zM24 367.26h1v6.66h-1zM25 87.7h1v6.66h-1zM25 267.42h1v6.66h-1zM29 453.78h1v6.66h-1zM33 700.06h1v6.66h-1zM36 94.36h1v6.66h-1zM37 367.26h1v6.66h-1zM38 87.7h1v6.66h-1zM38 267.42h1v6.66h-1zM38 367.26h1v6.66h-1zM38 453.78h1v6.66h-1zM38 580.25h1v6.66h-1zM39 453.78h1v6.66h-1zM45 267.42h1v6.66h-1zM47 267.42h1v6.66h-1zM48 267.42h1v6.66h-1zM50 87.7h1v6.66h-1zM53 367.26h1v6.66h-1zM55 94.36h1v6.66h-1zM56 700.06h1v6.66h-1zM58 87.7h1v13.31h-1zM59 367.26h1v6.66h-1zM62 87.7h1v6.66h-1zM64 367.26h1v6.66h-1zM66 453.78h1v6.66h-1zM66 700.06h1v6.66h-1zM67 87.7h1v6.66h-1zM67 367.26h1v6.66h-1zM68 267.42h1v6.66h-1zM70 267.42h1v6.66h-1zM73 367.26h1v6.66h-1zM75 267.42h1v6.66h-1zM80 267.42h1v6.66h-1zM80 453.78h1v6.66h-1zM88 267.42h1v6.66h-1zM88 453.78h1v6.66h-1zM98 94.36h1v6.66h-1zM99 87.7h1v13.31h-1zM99 267.42h1v6.66h-1zM106 267.42h1v6.66h-1zM107 580.25h1v6.66h-1zM117 453.78h1v6.66h-1z"/><path fill="#a89a70" fill-opacity="0.42" d="M11 254.1h1v6.66h-1zM11 493.72h1v6.66h-1zM12 480.41h1v6.66h-1zM13 566.94h1v6.66h-1zM14 480.41h1v6.66h-1zM15 566.94h1v6.66h-1zM16 566.94h1v6.66h-1zM17 254.1h1v6.66h-1zM17 480.41h1v6.66h-1zM17 493.72h1v6.66h-1zM17 566.94h1v6.66h-1zM18 520.34h1v6.66h-1zM18 566.94h1v6.66h-1zM19 254.1h1v6.66h-1zM20 480.41h1v6.66h-1zM21 480.41h1v6.66h-1zM22 480.41h1v6.66h-1zM24 254.1h1v6.66h-1zM27 566.94h1v6.66h-1zM31 520.34h1v6.66h-1zM33 480.41h1v6.66h-1zM34 566.94h1v6.66h-1zM35 480.41h1v6.66h-1zM35 520.34h1v6.66h-1zM38 520.34h1v6.66h-1zM39 254.1h1v6.66h-1zM39 493.72h1v6.66h-1zM39 520.34h1v6.66h-1zM40 480.41h1v6.66h-1zM44 520.34h1v6.66h-1zM45 493.72h1v6.66h-1zM45 520.34h1v6.66h-1zM46 493.72h1v6.66h-1zM46 566.94h1v6.66h-1zM47 254.1h1v6.66h-1zM47 493.72h1v6.66h-1zM49 254.1h1v6.66h-1zM50 493.72h1v6.66h-1zM50 520.34h1v6.66h-1zM52 254.1h1v6.66h-1zM52 493.72h1v6.66h-1zM53 480.41h1v6.66h-1zM53 493.72h1v6.66h-1zM53 566.94h1v6.66h-1zM54 254.1h1v6.66h-1zM56 480.41h1v6.66h-1zM56 520.34h1v6.66h-1zM58 566.94h1v6.66h-1zM65 493.72h1v6.66h-1zM67 254.1h1v6.66h-1zM67 520.34h1v6.66h-1zM69 493.72h1v6.66h-1zM77 520.34h1v6.66h-1zM78 520.34h1v6.66h-1zM79 566.94h1v6.66h-1zM81 254.1h1v6.66h-1zM81 493.72h1v6.66h-1zM85 254.1h1v6.66h-1zM86 520.34h1v6.66h-1zM89 254.1h1v6.66h-1zM89 566.94h1v6.66h-1zM90 480.41h1v6.66h-1zM91 520.34h1v6.66h-1zM91 566.94h1v6.66h-1zM93 254.1h1v6.66h-1zM94 480.41h1v6.66h-1zM94 520.34h1v6.66h-1zM95 480.41h1v6.66h-1zM98 520.34h1v6.66h-1zM104 566.94h1v6.66h-1zM105 480.41h1v6.66h-1zM107 480.41h1v6.66h-1zM108 480.41h1v6.66h-1zM110 493.72h1v6.66h-1zM112 520.34h1v6.66h-1zM120 254.1h1v6.66h-1zM120 480.41h1v6.66h-1zM121 480.41h1v6.66h-1zM122 480.41h1v6.66h-1zM122 493.72h1v6.66h-1zM125 566.94h1v6.66h-1z"/><path fill="#8c8c84" fill-opacity="0.42" d="M11 300.7h1v6.66h-1zM11 527h1v6.66h-1zM11 813.21h1v6.66h-1zM13 294.04h1v6.66h-1zM13 826.52h1v6.66h-1zM14 81.05h1v6.66h-1zM14 640.15h1v6.66h-1zM14 759.96h1v6.66h-1zM15 926.36h1v6.66h-1zM16 41.11h1v6.66h-1zM17 74.39h1v6.66h-1zM17 347.29h1v6.66h-1zM17 467.1h1v6.66h-1zM17 806.55h1v6.66h-1zM17 853.14h1v6.66h-1zM18 154.26h1v6.66h-1zM18 946.33h1v6.66h-1zM19 114.33h1v6.66h-1zM19 300.7h1v6.66h-1zM19 333.98h1v6.66h-1zM19 400.54h1v6.66h-1zM19 433.82h1v6.66h-1zM19 473.75h1v6.66h-1zM19 686.74h1v6.66h-1zM19 926.36h1v13.31h-1zM19 952.98h1v6.66h-1zM19 966.3h1v6.66h-1zM20 67.74h1v6.66h-1zM20 413.85h1v6.66h-1zM20 620.18h1v6.66h-1zM20 893.08h1v6.66h-1zM21 620.18h1v6.66h-1zM21 653.46h1v6.66h-1zM21 693.4h1v6.66h-1zM22 54.42h1v6.66h-1zM24 114.33h1v6.66h-1zM24 839.83h1v6.66h-1zM25 194.2h1v6.66h-1zM25 360.6h1v6.66h-1zM25 560.28h1v6.66h-1zM25 726.68h1v6.66h-1zM25 786.58h1v6.66h-1zM25 839.83h1v6.66h-1zM26 307.35h1v6.66h-1zM26 440.47h1v6.66h-1zM26 553.62h1v6.66h-1zM26 786.58h1v6.66h-1zM26 839.83h1v6.66h-1zM27 300.7h1v6.66h-1zM28 74.39h1v6.66h-1zM29 74.39h1v6.66h-1zM30 320.66h1v6.66h-1zM31 746.65h1v6.66h-1zM32 234.14h1v6.66h-1zM32 400.54h1v6.66h-1zM32 613.53h1v6.66h-1zM33 320.66h1v6.66h-1zM33 447.13h1v6.66h-1zM33 500.38h1v6.66h-1zM34 613.53h1v6.66h-1zM35 54.42h1v6.66h-1zM35 380.57h1v6.66h-1zM35 759.96h1v6.66h-1zM36 167.58h1v6.66h-1zM36 640.15h1v6.66h-1zM36 806.55h1v6.66h-1zM37 187.54h1v6.66h-1zM38 573.59h1v6.66h-1zM38 640.15h1v6.66h-1zM39 360.6h1v6.66h-1zM39 972.95h1v6.66h-1zM40 74.39h1v13.31h-1zM41 74.39h1v6.66h-1zM41 320.66h1v6.66h-1zM42 67.74h1v6.66h-1zM42 427.16h1v6.66h-1zM43 513.69h1v6.66h-1zM43 913.05h1v6.66h-1zM44 67.74h1v6.66h-1zM44 420.5h1v6.66h-1zM44 759.96h1v6.66h-1zM45 433.82h1v6.66h-1zM47 746.65h1v6.66h-1zM47 806.55h1v6.66h-1zM50 194.2h1v6.66h-1zM50 214.17h1v6.66h-1zM50 507.03h1v6.66h-1zM51 846.49h1v6.66h-1zM52 167.58h1v6.66h-1zM52 380.57h1v6.66h-1zM52 407.19h1v6.66h-1zM52 640.15h1v6.66h-1zM52 660.12h1v13.31h-1zM53 140.95h1v6.66h-1zM53 333.98h1v6.66h-1zM53 779.93h1v6.66h-1zM56 340.63h1v6.66h-1zM56 926.36h1v6.66h-1zM58 373.91h1v6.66h-1zM60 693.4h1v6.66h-1zM61 620.18h1v6.66h-1zM62 287.38h1v6.66h-1zM62 766.62h1v6.66h-1zM62 846.49h1v6.66h-1zM64 147.61h1v6.66h-1zM64 360.6h1v6.66h-1zM64 387.22h1v6.66h-1zM65 333.98h1v6.66h-1zM65 759.96h1v6.66h-1zM66 380.57h1v6.66h-1zM66 693.4h1v6.66h-1zM66 926.36h1v13.31h-1zM67 600.22h1v6.66h-1zM67 640.15h1v6.66h-1zM67 952.98h1v6.66h-1zM68 387.22h1v6.66h-1zM68 573.59h1v6.66h-1zM70 686.74h1v6.66h-1zM71 693.4h1v6.66h-1zM73 660.12h1v6.66h-1zM75 420.5h1v6.66h-1zM77 340.63h1v6.66h-1zM77 400.54h1v6.66h-1zM77 739.99h1v6.66h-1zM77 759.96h1v6.66h-1zM80 467.1h1v6.66h-1zM80 653.46h1v6.66h-1zM80 966.3h1v6.66h-1zM81 280.73h1v6.66h-1zM81 333.98h1v6.66h-1zM85 187.54h1v6.66h-1zM86 819.86h1v6.66h-1zM88 600.22h1v6.66h-1zM89 360.6h1v6.66h-1zM90 859.8h1v6.66h-1zM91 413.85h1v6.66h-1zM91 833.18h1v6.66h-1zM92 913.05h1v6.66h-1zM93 287.38h1v6.66h-1zM93 666.78h1v6.66h-1zM95 300.7h1v6.66h-1zM95 360.6h1v6.66h-1zM95 546.97h1v6.66h-1zM95 786.58h1v6.66h-1zM102 187.54h1v6.66h-1zM103 287.38h1v6.66h-1zM103 926.36h1v6.66h-1zM105 294.04h1v6.66h-1zM105 307.35h1v6.66h-1zM106 214.17h1v6.66h-1zM106 440.47h1v6.66h-1zM106 487.06h1v6.66h-1zM106 793.24h1v6.66h-1zM106 946.33h1v13.31h-1zM107 693.4h1v6.66h-1zM107 879.77h1v6.66h-1zM109 913.05h1v6.66h-1zM110 779.93h1v6.66h-1zM111 360.6h1v6.66h-1zM113 360.6h1v6.66h-1zM114 407.19h1v6.66h-1zM114 467.1h1v6.66h-1zM114 946.33h1v6.66h-1zM118 853.14h1v6.66h-1zM122 739.99h1v6.66h-1zM123 214.17h1v6.66h-1zM125 180.89h1v6.66h-1z"/><path fill="#c23a3a" fill-opacity="0.85" d="M11 540.31h1v6.66h-1zM12 540.31h1v6.66h-1zM13 540.31h1v6.66h-1zM19 260.76h1v6.66h-1zM20 247.45h1v6.66h-1zM20 260.76h1v6.66h-1zM21 540.31h1v6.66h-1zM25 260.76h1v6.66h-1zM35 260.76h1v6.66h-1zM38 260.76h1v6.66h-1zM44 260.76h1v6.66h-1zM44 540.31h1v6.66h-1zM51 260.76h1v6.66h-1zM52 540.31h1v6.66h-1zM56 260.76h1v6.66h-1zM62 260.76h1v6.66h-1zM68 540.31h1v6.66h-1zM81 260.76h1v6.66h-1zM82 540.31h1v6.66h-1zM89 247.45h1v6.66h-1zM93 540.31h1v6.66h-1zM95 260.76h1v6.66h-1zM95 540.31h1v6.66h-1zM96 247.45h1v6.66h-1zM98 260.76h1v6.66h-1zM105 260.76h1v6.66h-1zM107 540.31h1v6.66h-1zM108 247.45h1v6.66h-1zM125 260.76h1v6.66h-1z"/><path fill="#d0a088" fill-opacity="0.38" d="M11 700.06h1v6.66h-1zM12 267.42h1v6.66h-1zM13 274.07h1v6.66h-1zM14 34.46h1v6.66h-1zM14 47.77h1v6.66h-1zM15 87.7h1v6.66h-1zM16 87.7h1v6.66h-1zM17 267.42h1v6.66h-1zM17 453.78h1v6.66h-1zM18 267.42h1v6.66h-1zM19 87.7h1v6.66h-1zM19 274.07h1v6.66h-1zM19 367.26h1v6.66h-1zM21 94.36h1v6.66h-1zM21 580.25h1v6.66h-1zM21 700.06h1v6.66h-1zM22 367.26h1v6.66h-1zM24 47.77h1v6.66h-1zM26 367.26h1v6.66h-1zM26 580.25h1v6.66h-1zM29 367.26h1v6.66h-1zM32 87.7h1v6.66h-1zM33 274.07h1v6.66h-1zM35 267.42h1v6.66h-1zM35 453.78h1v6.66h-1zM36 580.25h1v6.66h-1zM38 94.36h1v6.66h-1zM40 94.36h1v6.66h-1zM45 87.7h1v6.66h-1zM46 87.7h1v6.66h-1zM50 267.42h1v13.31h-1zM53 453.78h1v6.66h-1zM53 580.25h1v6.66h-1zM66 87.7h1v6.66h-1zM66 274.07h1v6.66h-1zM70 274.07h1v6.66h-1zM71 267.42h1v6.66h-1zM80 580.25h1v6.66h-1zM85 267.42h1v6.66h-1zM100 700.06h1v6.66h-1zM102 274.07h1v6.66h-1zM108 367.26h1v6.66h-1zM112 267.42h1v6.66h-1zM114 267.42h1v6.66h-1zM124 700.06h1v6.66h-1z"/><path fill="#b89a7a" fill-opacity="0.38" d="M12 34.46h1v6.66h-1zM13 94.36h1v6.66h-1zM13 267.42h1v6.66h-1zM15 367.26h1v6.66h-1zM17 367.26h1v6.66h-1zM17 700.06h1v6.66h-1zM18 47.77h1v6.66h-1zM18 87.7h1v13.31h-1zM18 453.78h1v6.66h-1zM19 94.36h1v6.66h-1zM19 453.78h1v6.66h-1zM20 700.06h1v6.66h-1zM22 453.78h1v6.66h-1zM24 94.36h1v6.66h-1zM24 580.25h1v6.66h-1zM24 700.06h1v6.66h-1zM25 94.36h1v6.66h-1zM25 580.25h1v6.66h-1zM30 274.07h1v6.66h-1zM32 267.42h1v6.66h-1zM33 94.36h1v6.66h-1zM34 580.25h1v6.66h-1zM39 267.42h1v6.66h-1zM40 87.7h1v6.66h-1zM40 267.42h1v6.66h-1zM40 367.26h1v6.66h-1zM41 700.06h1v6.66h-1zM43 87.7h1v13.31h-1zM45 274.07h1v6.66h-1zM45 367.26h1v6.66h-1zM45 453.78h1v6.66h-1zM46 94.36h1v6.66h-1zM46 453.78h1v6.66h-1zM49 700.06h1v6.66h-1zM50 94.36h1v6.66h-1zM50 367.26h1v6.66h-1zM51 87.7h1v6.66h-1zM52 453.78h1v6.66h-1zM53 94.36h1v6.66h-1zM55 700.06h1v6.66h-1zM56 87.7h1v6.66h-1zM61 274.07h1v6.66h-1zM64 267.42h1v6.66h-1zM65 94.36h1v6.66h-1zM65 267.42h1v6.66h-1zM65 367.26h1v6.66h-1zM67 274.07h1v6.66h-1zM67 453.78h1v6.66h-1zM81 267.42h1v6.66h-1zM92 453.78h1v6.66h-1zM92 700.06h1v6.66h-1zM93 267.42h1v6.66h-1zM93 367.26h1v6.66h-1zM99 367.26h1v6.66h-1zM100 87.7h1v6.66h-1zM100 453.78h1v6.66h-1zM103 274.07h1v6.66h-1zM111 267.42h1v13.31h-1zM116 267.42h1v6.66h-1zM119 700.06h1v6.66h-1zM125 267.42h1v6.66h-1z"/><path fill="#caa892" fill-opacity="0.42" d="M12 187.54h1v6.66h-1zM12 746.65h1v6.66h-1zM13 706.71h1v6.66h-1zM13 759.96h1v6.66h-1zM14 227.48h1v6.66h-1zM15 333.98h1v6.66h-1zM15 839.83h1v6.66h-1zM17 41.11h1v6.66h-1zM17 333.98h1v6.66h-1zM17 440.47h1v6.66h-1zM17 513.69h1v6.66h-1zM17 653.46h1v6.66h-1zM17 952.98h1v6.66h-1zM18 487.06h1v6.66h-1zM18 720.02h1v6.66h-1zM19 67.74h1v6.66h-1zM19 187.54h1v6.66h-1zM19 227.48h1v6.66h-1zM19 340.63h1v6.66h-1zM19 387.22h1v6.66h-1zM19 560.28h1v6.66h-1zM20 826.52h1v6.66h-1zM21 300.7h1v6.66h-1zM21 879.77h1v6.66h-1zM22 154.26h1v6.66h-1zM22 227.48h1v6.66h-1zM22 660.12h1v6.66h-1zM22 839.83h1v6.66h-1zM24 160.92h1v6.66h-1zM24 307.35h1v6.66h-1zM24 360.6h1v6.66h-1zM24 553.62h1v6.66h-1zM24 633.5h1v6.66h-1zM24 766.62h1v6.66h-1zM24 952.98h1v6.66h-1zM25 54.42h1v6.66h-1zM25 314.01h1v6.66h-1zM25 600.22h1v6.66h-1zM26 147.61h1v6.66h-1zM26 333.98h1v6.66h-1zM27 666.78h1v6.66h-1zM29 407.19h1v6.66h-1zM29 513.69h1v6.66h-1zM30 160.92h1v6.66h-1zM30 533.66h1v6.66h-1zM32 187.54h1v6.66h-1zM33 333.98h1v6.66h-1zM33 427.16h1v6.66h-1zM34 433.82h1v6.66h-1zM34 773.27h1v6.66h-1zM35 333.98h1v6.66h-1zM35 433.82h1v6.66h-1zM36 107.67h1v6.66h-1zM36 234.14h1v6.66h-1zM36 360.6h1v6.66h-1zM36 646.81h1v6.66h-1zM38 620.18h1v6.66h-1zM38 753.3h1v6.66h-1zM39 160.92h1v6.66h-1zM39 340.63h1v6.66h-1zM40 220.82h1v6.66h-1zM40 353.94h1v6.66h-1zM40 500.38h1v6.66h-1zM41 194.2h1v6.66h-1zM42 307.35h1v6.66h-1zM44 340.63h1v6.66h-1zM44 393.88h1v6.66h-1zM44 467.1h1v6.66h-1zM44 553.62h1v6.66h-1zM45 307.35h1v6.66h-1zM46 726.68h1v6.66h-1zM47 413.85h1v6.66h-1zM49 194.2h1v6.66h-1zM50 287.38h1v13.31h-1zM50 427.16h1v6.66h-1zM50 553.62h1v6.66h-1zM50 686.74h1v6.66h-1zM50 866.46h1v6.66h-1zM51 207.51h1v6.66h-1zM51 500.38h1v6.66h-1zM52 287.38h1v6.66h-1zM52 873.11h1v6.66h-1zM52 926.36h1v6.66h-1zM53 666.78h1v6.66h-1zM56 287.38h1v6.66h-1zM56 333.98h1v6.66h-1zM56 360.6h1v6.66h-1zM56 413.85h1v6.66h-1zM56 660.12h1v6.66h-1zM57 833.18h1v6.66h-1zM58 806.55h1v6.66h-1zM59 387.22h1v6.66h-1zM59 972.95h1v6.66h-1zM60 427.16h1v6.66h-1zM61 107.67h1v6.66h-1zM61 167.58h1v6.66h-1zM61 307.35h1v6.66h-1zM61 400.54h1v6.66h-1zM61 746.65h1v6.66h-1zM61 759.96h1v6.66h-1zM61 859.8h1v6.66h-1zM62 560.28h1v6.66h-1zM62 879.77h1v6.66h-1zM64 160.92h1v6.66h-1zM64 433.82h1v6.66h-1zM64 600.22h1v6.66h-1zM64 926.36h1v13.31h-1zM65 101.02h1v6.66h-1zM65 353.94h1v6.66h-1zM66 739.99h1v6.66h-1zM67 300.7h1v6.66h-1zM67 360.6h1v6.66h-1zM67 573.59h1v6.66h-1zM69 513.69h1v6.66h-1zM71 333.98h1v6.66h-1zM73 666.78h1v6.66h-1zM74 513.69h1v6.66h-1zM76 380.57h1v6.66h-1zM77 287.38h1v6.66h-1zM82 620.18h1v6.66h-1zM85 234.14h1v6.66h-1zM86 167.58h1v6.66h-1zM88 833.18h1v6.66h-1zM89 560.28h1v6.66h-1zM89 959.64h1v6.66h-1zM90 440.47h1v6.66h-1zM92 686.74h1v6.66h-1zM93 114.33h1v6.66h-1zM93 527h1v6.66h-1zM93 886.42h1v6.66h-1zM94 320.66h1v6.66h-1zM94 380.57h1v6.66h-1zM94 926.36h1v6.66h-1zM94 939.67h1v6.66h-1zM96 407.19h1v6.66h-1zM98 340.63h1v6.66h-1zM99 686.74h1v6.66h-1zM99 819.86h1v6.66h-1zM100 174.23h1v6.66h-1zM100 294.04h1v6.66h-1zM100 500.38h1v6.66h-1zM102 200.86h1v6.66h-1zM102 673.43h1v6.66h-1zM103 813.21h1v6.66h-1zM105 666.78h1v6.66h-1zM107 413.85h1v6.66h-1zM111 407.19h1v6.66h-1zM112 660.12h1v6.66h-1zM115 234.14h1v6.66h-1zM115 553.62h1v6.66h-1zM116 380.57h1v6.66h-1zM117 154.26h1v6.66h-1zM117 333.98h1v6.66h-1zM117 673.43h1v6.66h-1zM120 686.74h1v6.66h-1zM120 773.27h1v6.66h-1zM121 380.57h1v6.66h-1zM121 433.82h1v6.66h-1zM121 533.66h1v6.66h-1zM121 813.21h1v6.66h-1zM122 500.38h1v6.66h-1zM124 134.3h1v6.66h-1z"/><path fill="#e2a2a0" fill-opacity="0.42" d="M12 200.86h1v6.66h-1zM15 81.05h1v6.66h-1zM17 54.42h1v6.66h-1zM17 120.98h1v6.66h-1zM17 307.35h1v6.66h-1zM17 420.5h1v6.66h-1zM18 413.85h1v6.66h-1zM18 833.18h1v6.66h-1zM18 899.74h1v6.66h-1zM19 54.42h1v6.66h-1zM19 140.95h1v6.66h-1zM19 653.46h1v6.66h-1zM19 886.42h1v6.66h-1zM20 227.48h1v6.66h-1zM20 739.99h1v6.66h-1zM21 420.5h1v6.66h-1zM21 946.33h1v6.66h-1zM21 972.95h1v6.66h-1zM22 919.7h1v6.66h-1zM24 333.98h1v6.66h-1zM24 407.19h1v6.66h-1zM25 606.87h1v6.66h-1zM25 913.05h1v6.66h-1zM26 81.05h1v6.66h-1zM26 140.95h1v6.66h-1zM26 240.79h1v6.66h-1zM26 886.42h1v6.66h-1zM27 360.6h1v6.66h-1zM27 527h1v6.66h-1zM31 101.02h1v6.66h-1zM31 420.5h1v6.66h-1zM31 786.58h1v6.66h-1zM31 893.08h1v6.66h-1zM32 67.74h1v6.66h-1zM33 527h1v6.66h-1zM35 74.39h1v6.66h-1zM36 387.22h1v6.66h-1zM36 400.54h1v6.66h-1zM38 333.98h1v6.66h-1zM39 307.35h1v6.66h-1zM39 613.53h1v6.66h-1zM40 127.64h1v6.66h-1zM41 154.26h1v6.66h-1zM42 107.67h1v6.66h-1zM44 447.13h1v6.66h-1zM45 560.28h1v6.66h-1zM46 500.38h1v6.66h-1zM47 926.36h1v6.66h-1zM49 407.19h1v6.66h-1zM49 646.81h1v6.66h-1zM49 873.11h1v6.66h-1zM50 666.78h1v6.66h-1zM50 972.95h1v6.66h-1zM52 294.04h1v6.66h-1zM53 207.51h1v6.66h-1zM55 81.05h1v6.66h-1zM55 440.47h1v6.66h-1zM61 333.98h1v6.66h-1zM61 913.05h1v6.66h-1zM64 839.83h1v6.66h-1zM67 400.54h1v6.66h-1zM67 527h1v6.66h-1zM71 380.57h1v6.66h-1zM72 467.1h1v6.66h-1zM73 786.58h1v6.66h-1zM74 287.38h1v6.66h-1zM74 586.9h1v6.66h-1zM75 726.68h1v6.66h-1zM76 300.7h1v6.66h-1zM77 593.56h1v6.66h-1zM80 207.51h1v6.66h-1zM85 593.56h1v6.66h-1zM87 347.29h1v6.66h-1zM87 859.8h1v6.66h-1zM88 686.74h1v6.66h-1zM88 720.02h1v6.66h-1zM89 533.66h1v6.66h-1zM89 653.46h1v6.66h-1zM90 214.17h1v6.66h-1zM93 786.58h1v6.66h-1zM95 187.54h1v6.66h-1zM97 400.54h1v6.66h-1zM98 513.69h1v6.66h-1zM102 893.08h1v6.66h-1zM103 946.33h1v6.66h-1zM106 314.01h1v6.66h-1zM106 779.93h1v6.66h-1zM108 360.6h1v6.66h-1zM109 433.82h1v6.66h-1zM111 314.01h1v6.66h-1zM117 959.64h1v6.66h-1zM121 440.47h1v6.66h-1zM121 899.74h1v6.66h-1zM121 933.02h1v6.66h-1zM122 706.71h1v6.66h-1zM125 300.7h1v6.66h-1z"/><path fill="#b42a2e" fill-opacity="0.85" d="M12 260.76h1v6.66h-1zM14 260.76h1v6.66h-1zM17 540.31h1v6.66h-1zM18 247.45h1v6.66h-1zM18 540.31h1v6.66h-1zM24 247.45h1v6.66h-1zM33 247.45h1v6.66h-1zM33 540.31h1v6.66h-1zM38 540.31h1v6.66h-1zM40 260.76h1v6.66h-1zM40 540.31h1v6.66h-1zM47 260.76h1v6.66h-1zM50 540.31h1v6.66h-1zM53 540.31h1v6.66h-1zM56 540.31h1v6.66h-1zM67 260.76h1v6.66h-1zM67 540.31h1v6.66h-1zM74 260.76h1v6.66h-1zM77 260.76h1v6.66h-1zM88 260.76h1v6.66h-1zM89 540.31h1v6.66h-1zM94 260.76h1v6.66h-1zM94 540.31h1v6.66h-1zM103 540.31h1v6.66h-1zM116 247.45h1v6.66h-1zM117 540.31h1v6.66h-1zM118 540.31h1v6.66h-1zM122 540.31h1v6.66h-1z"/><path fill="#b9a276" fill-opacity="0.42" d="M12 493.72h1v6.66h-1zM12 566.94h1v6.66h-1zM13 254.1h1v6.66h-1zM13 520.34h1v6.66h-1zM17 520.34h1v6.66h-1zM19 480.41h1v6.66h-1zM19 493.72h1v6.66h-1zM19 566.94h1v6.66h-1zM21 493.72h1v6.66h-1zM22 566.94h1v6.66h-1zM24 480.41h1v6.66h-1zM24 493.72h1v6.66h-1zM24 566.94h1v6.66h-1zM25 254.1h1v6.66h-1zM25 480.41h1v6.66h-1zM26 566.94h1v6.66h-1zM31 254.1h1v6.66h-1zM31 480.41h1v6.66h-1zM31 493.72h1v6.66h-1zM31 566.94h1v6.66h-1zM33 520.34h1v6.66h-1zM38 493.72h1v6.66h-1zM40 254.1h1v6.66h-1zM40 493.72h1v6.66h-1zM44 566.94h1v6.66h-1zM49 480.41h1v6.66h-1zM50 254.1h1v6.66h-1zM51 254.1h1v6.66h-1zM55 254.1h1v6.66h-1zM56 493.72h1v6.66h-1zM56 566.94h1v6.66h-1zM58 480.41h1v6.66h-1zM61 520.34h1v6.66h-1zM62 493.72h1v6.66h-1zM66 480.41h1v6.66h-1zM69 566.94h1v6.66h-1zM70 520.34h1v6.66h-1zM72 254.1h1v6.66h-1zM72 493.72h1v6.66h-1zM74 520.34h1v6.66h-1zM76 480.41h1v6.66h-1zM77 254.1h1v6.66h-1zM77 480.41h1v6.66h-1zM80 480.41h1v6.66h-1zM80 493.72h1v6.66h-1zM81 480.41h1v6.66h-1zM82 480.41h1v6.66h-1zM87 480.41h1v6.66h-1zM88 254.1h1v6.66h-1zM88 520.34h1v6.66h-1zM89 493.72h1v6.66h-1zM90 493.72h1v6.66h-1zM93 480.41h1v6.66h-1zM93 493.72h1v6.66h-1zM94 493.72h1v6.66h-1zM96 254.1h1v6.66h-1zM98 493.72h1v6.66h-1zM99 254.1h1v6.66h-1zM99 520.34h1v6.66h-1zM99 566.94h1v6.66h-1zM102 254.1h1v6.66h-1zM102 520.34h1v6.66h-1zM105 520.34h1v6.66h-1zM106 254.1h1v6.66h-1zM106 493.72h1v6.66h-1zM106 520.34h1v6.66h-1zM108 493.72h1v6.66h-1zM108 520.34h1v6.66h-1zM111 254.1h1v6.66h-1zM114 480.41h1v6.66h-1zM114 566.94h1v6.66h-1zM115 520.34h1v6.66h-1zM115 566.94h1v6.66h-1zM118 566.94h1v6.66h-1zM120 493.72h1v6.66h-1zM121 566.94h1v6.66h-1zM124 254.1h1v6.66h-1z"/><path fill="#c8a884" fill-opacity="0.42" d="M12 520.34h1v6.66h-1zM16 520.34h1v6.66h-1zM18 254.1h1v6.66h-1zM19 520.34h1v6.66h-1zM20 493.72h1v6.66h-1zM20 520.34h1v6.66h-1zM20 566.94h1v6.66h-1zM21 254.1h1v6.66h-1zM22 493.72h1v6.66h-1zM25 520.34h1v6.66h-1zM25 566.94h1v6.66h-1zM27 480.41h1v6.66h-1zM30 480.41h1v6.66h-1zM32 520.34h1v6.66h-1zM33 254.1h1v6.66h-1zM34 254.1h1v6.66h-1zM36 254.1h1v6.66h-1zM36 480.41h1v6.66h-1zM36 493.72h1v6.66h-1zM36 520.34h1v6.66h-1zM36 566.94h1v6.66h-1zM38 480.41h1v6.66h-1zM38 566.94h1v6.66h-1zM40 520.34h1v6.66h-1zM40 566.94h1v6.66h-1zM41 566.94h1v6.66h-1zM44 254.1h1v6.66h-1zM45 566.94h1v6.66h-1zM47 566.94h1v6.66h-1zM48 480.41h1v6.66h-1zM50 480.41h1v6.66h-1zM50 566.94h1v6.66h-1zM51 493.72h1v6.66h-1zM53 254.1h1v6.66h-1zM55 493.72h1v6.66h-1zM56 254.1h1v6.66h-1zM57 480.41h1v6.66h-1zM61 480.41h1v6.66h-1zM62 254.1h1v6.66h-1zM62 480.41h1v6.66h-1zM64 254.1h1v6.66h-1zM65 254.1h1v6.66h-1zM66 254.1h1v6.66h-1zM67 480.41h1v6.66h-1zM67 566.94h1v6.66h-1zM68 493.72h1v6.66h-1zM68 566.94h1v6.66h-1zM71 566.94h1v6.66h-1zM76 493.72h1v6.66h-1zM77 566.94h1v6.66h-1zM80 566.94h1v6.66h-1zM82 520.34h1v6.66h-1zM82 566.94h1v6.66h-1zM88 480.41h1v6.66h-1zM88 493.72h1v6.66h-1zM88 566.94h1v6.66h-1zM92 254.1h1v6.66h-1zM93 566.94h1v6.66h-1zM96 520.34h1v6.66h-1zM99 480.41h1v6.66h-1zM100 493.72h1v6.66h-1zM102 566.94h1v6.66h-1zM103 566.94h1v6.66h-1zM104 480.41h1v6.66h-1zM106 480.41h1v6.66h-1zM108 566.94h1v6.66h-1zM109 480.41h1v6.66h-1zM109 493.72h1v6.66h-1zM109 566.94h1v6.66h-1zM113 254.1h1v6.66h-1zM114 254.1h1v6.66h-1zM114 520.34h1v6.66h-1zM117 254.1h1v6.66h-1zM117 480.41h1v6.66h-1zM117 520.34h1v6.66h-1zM117 566.94h1v6.66h-1zM118 480.41h1v6.66h-1zM118 520.34h1v6.66h-1zM121 493.72h1v6.66h-1zM122 254.1h1v6.66h-1zM124 480.41h1v6.66h-1z"/><path fill="#b84a30" fill-opacity="0.85" d="M17 260.76h1v6.66h-1zM19 247.45h1v6.66h-1zM24 540.31h1v6.66h-1zM25 540.31h1v6.66h-1zM28 540.31h1v6.66h-1zM30 247.45h1v6.66h-1zM31 540.31h1v6.66h-1zM35 540.31h1v6.66h-1zM36 540.31h1v6.66h-1zM38 247.45h1v6.66h-1zM39 260.76h1v6.66h-1zM46 540.31h1v6.66h-1zM50 260.76h1v6.66h-1zM51 540.31h1v6.66h-1zM55 260.76h1v6.66h-1zM60 540.31h1v6.66h-1zM65 260.76h1v6.66h-1zM66 540.31h1v6.66h-1zM67 247.45h1v6.66h-1zM69 247.45h1v6.66h-1zM70 540.31h1v6.66h-1zM77 540.31h1v6.66h-1zM80 260.76h1v6.66h-1zM81 247.45h1v6.66h-1zM88 540.31h1v6.66h-1zM92 247.45h1v6.66h-1zM112 540.31h1v6.66h-1zM116 260.76h1v6.66h-1zM117 260.76h1v6.66h-1z"/><path fill="#a82228" fill-opacity="0.85" d="M19 540.31h1v6.66h-1zM20 540.31h1v6.66h-1zM23 247.45h1v6.66h-1zM26 540.31h1v6.66h-1zM29 540.31h1v6.66h-1zM31 247.45h1v6.66h-1zM45 540.31h1v6.66h-1zM46 247.45h1v6.66h-1zM50 247.45h1v6.66h-1zM52 247.45h1v6.66h-1zM58 540.31h1v6.66h-1zM64 260.76h1v6.66h-1zM64 540.31h1v6.66h-1zM65 540.31h1v6.66h-1zM66 247.45h1v6.66h-1zM73 540.31h1v6.66h-1zM74 247.45h1v6.66h-1zM85 260.76h1v6.66h-1zM87 247.45h1v6.66h-1zM88 247.45h1v6.66h-1zM89 260.76h1v6.66h-1zM92 260.76h1v6.66h-1zM106 540.31h1v6.66h-1zM109 260.76h1v6.66h-1zM113 247.45h1v6.66h-1zM114 540.31h1v6.66h-1zM121 540.31h1v6.66h-1z"/><path fill="#c0b4a8" fill-opacity="0.26" d="M11 107.67h1v79.87h-1zM17 101.02h1v6.66h-1zM19 101.02h1v6.66h-1zM28 134.3h1v6.66h-1zM29 101.02h1v86.53h-1zM31 127.64h1v19.97h-1zM37 167.58h1v13.31h-1zM38 154.26h1v33.28h-1zM40 101.02h1v86.53h-1zM43 147.61h1v39.94h-1zM45 127.64h1v59.9h-1zM50 107.67h1v19.97h-1zM51 167.58h1v19.97h-1zM56 167.58h1v6.66h-1zM59 160.92h1v26.62h-1zM60 120.98h1v13.31h-1zM62 154.26h1v33.28h-1zM65 127.64h1v19.97h-1zM100 107.67h1v6.66h-1zM20 194.2h1v39.94h-1zM28 214.17h1v13.31h-1zM30 227.48h1v6.66h-1zM34 187.54h1v46.59h-1zM76 220.82h1v13.31h-1zM90 200.86h1v33.28h-1zM97 207.51h1v19.97h-1zM98 187.54h1v46.59h-1zM100 187.54h1v46.59h-1zM101 200.86h1v33.28h-1zM106 187.54h1v46.59h-1zM117 220.82h1v6.66h-1z"/><path fill="#b4b8a4" fill-opacity="0.26" d="M13 120.98h1v6.66h-1zM25 167.58h1v19.97h-1zM26 114.33h1v19.97h-1zM26 134.3h1v53.25h-1zM28 107.67h1v13.31h-1zM32 127.64h1v26.62h-1zM34 101.02h1v26.62h-1zM43 107.67h1v13.31h-1zM46 114.33h1v26.62h-1zM46 167.58h1v19.97h-1zM47 134.3h1v33.28h-1zM48 114.33h1v46.59h-1zM54 160.92h1v6.66h-1zM55 174.23h1v13.31h-1zM57 160.92h1v26.62h-1zM58 167.58h1v6.66h-1zM61 180.89h1v6.66h-1zM63 107.67h1v33.28h-1zM98 107.67h1v33.28h-1zM99 120.98h1v6.66h-1zM102 101.02h1v6.66h-1zM42 200.86h1v33.28h-1zM48 227.48h1v6.66h-1zM57 214.17h1v19.97h-1zM64 200.86h1v33.28h-1zM66 207.51h1v6.66h-1zM70 220.82h1v13.31h-1zM72 194.2h1v39.94h-1zM75 214.17h1v19.97h-1zM76 207.51h1v6.66h-1zM87 187.54h1v19.97h-1zM102 220.82h1v13.31h-1zM103 187.54h1v46.59h-1zM111 214.17h1v19.97h-1zM114 187.54h1v39.94h-1z"/><path fill="#a8b4a0" fill-opacity="0.26" d="M13 160.92h1v6.66h-1zM14 147.61h1v13.31h-1zM16 120.98h1v19.97h-1zM20 114.33h1v73.22h-1zM22 180.89h1v6.66h-1zM23 107.67h1v39.94h-1zM23 147.61h1v33.28h-1zM27 101.02h1v19.97h-1zM28 101.02h1v6.66h-1zM28 154.26h1v33.28h-1zM31 154.26h1v33.28h-1zM33 101.02h1v66.56h-1zM36 107.67h1v13.31h-1zM42 107.67h1v13.31h-1zM47 180.89h1v6.66h-1zM49 120.98h1v33.28h-1zM49 154.26h1v33.28h-1zM52 101.02h1v86.53h-1zM54 101.02h1v59.9h-1zM54 174.23h1v13.31h-1zM61 101.02h1v6.66h-1zM61 114.33h1v59.9h-1zM63 154.26h1v13.31h-1zM96 107.67h1v73.22h-1zM99 140.95h1v46.59h-1zM101 101.02h1v86.53h-1zM18 194.2h1v19.97h-1zM47 227.48h1v6.66h-1zM55 187.54h1v6.66h-1zM91 187.54h1v6.66h-1zM91 194.2h1v26.62h-1zM93 207.51h1v26.62h-1zM109 207.51h1v26.62h-1z"/><path fill="#a0ac98" fill-opacity="0.26" d="M15 101.02h1v26.62h-1zM17 114.33h1v13.31h-1zM17 134.3h1v53.25h-1zM21 101.02h1v86.53h-1zM22 107.67h1v26.62h-1zM22 134.3h1v46.59h-1zM24 101.02h1v6.66h-1zM24 167.58h1v19.97h-1zM25 101.02h1v33.28h-1zM28 140.95h1v6.66h-1zM30 134.3h1v13.31h-1zM36 147.61h1v39.94h-1zM37 101.02h1v26.62h-1zM38 107.67h1v26.62h-1zM39 101.02h1v79.87h-1zM39 180.89h1v6.66h-1zM41 101.02h1v6.66h-1zM44 127.64h1v13.31h-1zM44 140.95h1v39.94h-1zM50 127.64h1v19.97h-1zM53 101.02h1v86.53h-1zM55 114.33h1v26.62h-1zM56 147.61h1v13.31h-1zM58 101.02h1v59.9h-1zM58 174.23h1v13.31h-1zM59 101.02h1v39.94h-1zM60 147.61h1v6.66h-1zM60 160.92h1v19.97h-1zM62 107.67h1v46.59h-1zM97 140.95h1v33.28h-1zM97 174.23h1v13.31h-1zM98 174.23h1v13.31h-1zM102 160.92h1v26.62h-1zM12 200.86h1v6.66h-1zM19 194.2h1v39.94h-1zM43 187.54h1v46.59h-1zM50 214.17h1v19.97h-1zM62 227.48h1v6.66h-1zM74 187.54h1v33.28h-1zM78 214.17h1v13.31h-1zM82 214.17h1v13.31h-1zM86 214.17h1v19.97h-1zM116 194.2h1v39.94h-1zM121 187.54h1v39.94h-1zM122 207.51h1v26.62h-1z"/><path fill="#a8b4a0" fill-opacity="0.3" d="M11 54.42h1v19.97h-1zM11 74.39h1v26.62h-1zM14 67.74h1v19.97h-1zM16 87.7h1v13.31h-1zM17 74.39h1v26.62h-1zM19 41.11h1v59.9h-1zM23 81.05h1v19.97h-1zM25 41.11h1v59.9h-1zM26 47.77h1v53.25h-1zM30 54.42h1v33.28h-1zM38 74.39h1v26.62h-1zM42 94.36h1v6.66h-1zM46 74.39h1v26.62h-1zM53 94.36h1v6.66h-1z"/><path fill="#b4b8a4" fill-opacity="0.3" d="M12 34.46h1v59.9h-1zM13 34.46h1v39.94h-1zM17 41.11h1v6.66h-1zM17 47.77h1v6.66h-1zM22 41.11h1v13.31h-1zM24 61.08h1v39.94h-1zM28 61.08h1v39.94h-1zM31 67.74h1v19.97h-1zM35 67.74h1v26.62h-1zM37 61.08h1v26.62h-1zM40 54.42h1v46.59h-1zM56 87.7h1v13.31h-1z"/><path fill="#a0ac98" fill-opacity="0.3" d="M14 34.46h1v19.97h-1zM21 41.11h1v19.97h-1zM24 54.42h1v6.66h-1zM27 67.74h1v13.31h-1zM29 87.7h1v13.31h-1zM33 61.08h1v39.94h-1zM39 67.74h1v33.28h-1zM41 81.05h1v6.66h-1zM44 81.05h1v19.97h-1zM52 94.36h1v6.66h-1z"/><path fill="#c0b4a8" fill-opacity="0.3" d="M16 67.74h1v19.97h-1zM18 47.77h1v53.25h-1zM22 54.42h1v46.59h-1zM30 87.7h1v6.66h-1zM31 54.42h1v13.31h-1zM32 74.39h1v26.62h-1zM34 61.08h1v39.94h-1zM36 54.42h1v33.28h-1zM45 81.05h1v19.97h-1zM47 67.74h1v33.28h-1zM50 74.39h1v26.62h-1z"/><rect x="11.3" y="27.8" width="3.9" height="6.66" fill="#8fb88c"/><rect x="15.5" y="34.46" width="10.5" height="6.66" fill="#dc95a0"/><rect x="26" y="41.11" width="3" height="6.66" fill="#95bb8e"/><rect x="29" y="47.77" width="12" height="6.66" fill="#95bb8e"/><rect x="41" y="54.42" width="7" height="6.66" fill="#95bb8e"/><rect x="11.3" y="61.08" width="83.7" height="6.66" fill="#c8343c"/><rect x="48" y="67.74" width="3" height="6.66" fill="#95bb8e"/><rect x="51" y="74.39" width="5" height="6.66" fill="#95bb8e"/><rect x="55.5" y="81.05" width="2" height="6.66" fill="#95bb8e"/><rect x="57.5" y="87.7" width="3.5" height="6.66" fill="#b09a70"/><rect x="98" y="87.7" width="3" height="6.66" fill="#b09a70"/><rect x="61" y="94.36" width="2.5" height="6.66" fill="#b09a70"/><rect x="100" y="94.36" width="2.5" height="6.66" fill="#b09a70"/><rect x="63.5" y="101.02" width="1" height="6.66" fill="#a0b090"/><rect x="11.3" y="247.45" width="74.7" height="6.66" fill="#c24a3a"/><rect x="94" y="247.45" width="23" height="6.66" fill="#c24a3a"/><rect x="11.3" y="254.1" width="64.7" height="6.66" fill="#d8b08e"/><rect x="11.3" y="260.76" width="65.7" height="6.66" fill="#be4038"/><rect x="83" y="260.76" width="20" height="6.66" fill="#be4038"/></g><rect x="129.6" y="27.8" width="9.8" height="79.87" fill="#d6e29e"/><rect x="129.6" y="107.67" width="9.8" height="13.31" fill="#fbcb4e"/><rect x="129.6" y="120.98" width="9.8" height="113.15" fill="#bbbbbf"/><rect x="129.6" y="234.14" width="9.8" height="46.59" fill="#d6e29e"/><rect x="129.6" y="280.73" width="9.8" height="19.97" fill="#fbcb4e"/><rect x="129.6" y="300.7" width="9.8" height="33.28" fill="#bbbbbf"/><rect x="129.6" y="333.98" width="9.8" height="19.97" fill="#d6e29e"/><rect x="129.6" y="353.94" width="9.8" height="19.97" fill="#fbcb4e"/><rect x="129.6" y="373.91" width="9.8" height="39.94" fill="#bbbbbf"/><rect x="129.6" y="413.85" width="9.8" height="212.99" fill="#d6e29e"/><rect x="129.6" y="626.84" width="9.8" height="99.84" fill="#fbcb4e"/><rect x="129.6" y="726.68" width="9.8" height="252.93" fill="#bbbbbf"/><g filter="url(#bl)"><rect x="142.6" y="27.8" width="114.2" height="6.68" fill="#fcede8"/><rect x="142.6" y="34.46" width="114.2" height="19.99" fill="#fbe5df"/><rect x="142.6" y="54.42" width="114.2" height="6.68" fill="#fcede8"/><rect x="142.6" y="61.08" width="114.2" height="6.68" fill="#ec9485"/><rect x="142.6" y="67.74" width="114.2" height="6.68" fill="#fef7f5"/><rect x="142.6" y="74.39" width="114.2" height="6.68" fill="#f2b4a4"/><rect x="142.6" y="81.05" width="114.2" height="13.33" fill="#fcede8"/><rect x="142.6" y="94.36" width="114.2" height="6.68" fill="#f8cfc3"/><rect x="142.6" y="101.02" width="114.2" height="6.68" fill="#fbe5df"/><rect x="142.6" y="107.67" width="114.2" height="6.68" fill="#fef7f5"/><rect x="142.6" y="114.33" width="114.2" height="6.68" fill="#fbe5df"/><rect x="142.6" y="120.98" width="114.2" height="113.17" fill="#fef7f5"/><rect x="142.6" y="234.14" width="114.2" height="6.68" fill="#fcede8"/><rect x="142.6" y="240.79" width="114.2" height="6.68" fill="#fbe5df"/><rect x="142.6" y="247.45" width="114.2" height="6.68" fill="#f2b4a4"/><rect x="142.6" y="254.1" width="114.2" height="6.68" fill="#fbe5df"/><rect x="142.6" y="260.76" width="114.2" height="6.68" fill="#f2b4a4"/><rect x="142.6" y="267.42" width="114.2" height="6.68" fill="#fbe5df"/><rect x="142.6" y="274.07" width="114.2" height="6.68" fill="#ec9485"/><rect x="142.6" y="280.73" width="114.2" height="6.68" fill="#fef7f5"/><rect x="142.6" y="287.38" width="114.2" height="6.68" fill="#f2b4a4"/><rect x="142.6" y="294.04" width="114.2" height="13.33" fill="#fef7f5"/><rect x="142.6" y="307.35" width="114.2" height="6.68" fill="#fcede8"/><rect x="142.6" y="314.01" width="114.2" height="6.68" fill="#fbe5df"/><rect x="142.6" y="320.66" width="114.2" height="6.68" fill="#fcede8"/><rect x="142.6" y="327.32" width="114.2" height="6.68" fill="#fef7f5"/><rect x="142.6" y="333.98" width="114.2" height="13.33" fill="#fbe5df"/><rect x="142.6" y="347.29" width="114.2" height="6.68" fill="#fef7f5"/><rect x="142.6" y="353.94" width="114.2" height="19.99" fill="#fadcd3"/><rect x="142.6" y="373.91" width="114.2" height="6.68" fill="#fffcfb"/><rect x="142.6" y="380.57" width="114.2" height="6.68" fill="#fef7f5"/><rect x="142.6" y="387.22" width="114.2" height="6.68" fill="#fffcfb"/><rect x="142.6" y="393.88" width="114.2" height="6.68" fill="#fcede8"/><rect x="142.6" y="400.54" width="114.2" height="6.68" fill="#fbe5df"/><rect x="142.6" y="407.19" width="114.2" height="6.68" fill="#fcede8"/><rect x="142.6" y="413.85" width="114.2" height="13.33" fill="#fef7f5"/><rect x="142.6" y="427.16" width="114.2" height="6.68" fill="#fadcd3"/><rect x="142.6" y="433.82" width="114.2" height="6.68" fill="#fbe5df"/><rect x="142.6" y="440.47" width="114.2" height="6.68" fill="#fcede8"/><rect x="142.6" y="447.13" width="114.2" height="6.68" fill="#fbe5df"/><rect x="142.6" y="453.78" width="114.2" height="6.68" fill="#fef7f5"/><rect x="142.6" y="460.44" width="114.2" height="6.68" fill="#f2b4a4"/><rect x="142.6" y="467.1" width="114.2" height="6.68" fill="#f8cfc3"/><rect x="142.6" y="473.75" width="114.2" height="6.68" fill="#fef7f5"/><rect x="142.6" y="480.41" width="114.2" height="6.68" fill="#f6dccb"/><rect x="142.6" y="487.06" width="114.2" height="6.68" fill="#fcede8"/><rect x="142.6" y="493.72" width="114.2" height="6.68" fill="#fadcd3"/><rect x="142.6" y="500.38" width="114.2" height="13.33" fill="#fbe5df"/><rect x="142.6" y="513.69" width="114.2" height="6.68" fill="#fef7f5"/><rect x="142.6" y="520.34" width="114.2" height="6.68" fill="#fcede8"/><rect x="142.6" y="527" width="114.2" height="13.33" fill="#fadcd3"/><rect x="142.6" y="540.31" width="114.2" height="6.68" fill="#f2b4a4"/><rect x="142.6" y="546.97" width="114.2" height="6.68" fill="#fbe5df"/><rect x="142.6" y="553.62" width="114.2" height="6.68" fill="#fcede8"/><rect x="142.6" y="560.28" width="114.2" height="6.68" fill="#fadcd3"/><rect x="142.6" y="566.94" width="114.2" height="13.33" fill="#f6dccb"/><rect x="142.6" y="580.25" width="114.2" height="6.68" fill="#f8cfc3"/><rect x="142.6" y="586.9" width="114.2" height="6.68" fill="#fef7f5"/><rect x="142.6" y="593.56" width="114.2" height="33.3" fill="#fffcfb"/><rect x="142.6" y="626.84" width="114.2" height="13.33" fill="#fcede8"/><rect x="142.6" y="640.15" width="114.2" height="6.68" fill="#fadcd3"/><rect x="142.6" y="646.81" width="114.2" height="13.33" fill="#fcede8"/><rect x="142.6" y="660.12" width="114.2" height="13.33" fill="#fbe5df"/><rect x="142.6" y="673.43" width="114.2" height="6.68" fill="#f6dccb"/><rect x="142.6" y="680.09" width="114.2" height="6.68" fill="#fef7f5"/><rect x="142.6" y="686.74" width="114.2" height="13.33" fill="#fbe5df"/><rect x="142.6" y="700.06" width="114.2" height="6.68" fill="#fcede8"/><rect x="142.6" y="706.71" width="114.2" height="6.68" fill="#f2cbb3"/><rect x="142.6" y="713.37" width="114.2" height="13.33" fill="#fef7f5"/><rect x="142.6" y="726.68" width="114.2" height="6.68" fill="#fcede8"/><rect x="142.6" y="733.34" width="114.2" height="6.68" fill="#fef7f5"/><rect x="142.6" y="739.99" width="114.2" height="6.68" fill="#fcede8"/><rect x="142.6" y="746.65" width="114.2" height="6.68" fill="#fbe5df"/><rect x="142.6" y="753.3" width="114.2" height="6.68" fill="#fef7f5"/><rect x="142.6" y="759.96" width="114.2" height="6.68" fill="#fcede8"/><rect x="142.6" y="766.62" width="114.2" height="19.99" fill="#fef7f5"/><rect x="142.6" y="786.58" width="114.2" height="6.68" fill="#fbe5df"/><rect x="142.6" y="793.24" width="114.2" height="6.68" fill="#fcede8"/><rect x="142.6" y="799.9" width="114.2" height="6.68" fill="#fef7f5"/><rect x="142.6" y="806.55" width="114.2" height="6.68" fill="#fbe5df"/><rect x="142.6" y="813.21" width="114.2" height="6.68" fill="#fcede8"/><rect x="142.6" y="819.86" width="114.2" height="6.68" fill="#fef7f5"/><rect x="142.6" y="826.52" width="114.2" height="6.68" fill="#fcede8"/><rect x="142.6" y="833.18" width="114.2" height="6.68" fill="#fef7f5"/><rect x="142.6" y="839.83" width="114.2" height="6.68" fill="#fcede8"/><rect x="142.6" y="846.49" width="114.2" height="6.68" fill="#fbe5df"/><rect x="142.6" y="853.14" width="114.2" height="6.68" fill="#fef7f5"/><rect x="142.6" y="859.8" width="114.2" height="6.68" fill="#fcede8"/><rect x="142.6" y="866.46" width="114.2" height="6.68" fill="#fef7f5"/><rect x="142.6" y="873.11" width="114.2" height="6.68" fill="#fbe5df"/><rect x="142.6" y="879.77" width="114.2" height="6.68" fill="#fffcfb"/><rect x="142.6" y="886.42" width="114.2" height="6.68" fill="#fbe5df"/><rect x="142.6" y="893.08" width="114.2" height="6.68" fill="#fcede8"/><rect x="142.6" y="899.74" width="114.2" height="6.68" fill="#fbe5df"/><rect x="142.6" y="906.39" width="114.2" height="6.68" fill="#fef7f5"/><rect x="142.6" y="913.05" width="114.2" height="6.68" fill="#fbe5df"/><rect x="142.6" y="919.7" width="114.2" height="6.68" fill="#fcede8"/><rect x="142.6" y="926.36" width="114.2" height="6.68" fill="#fbe5df"/><rect x="142.6" y="933.02" width="114.2" height="6.68" fill="#fcede8"/><rect x="142.6" y="939.67" width="114.2" height="6.68" fill="#fef7f5"/><rect x="142.6" y="946.33" width="114.2" height="6.68" fill="#fbe5df"/><rect x="142.6" y="952.98" width="114.2" height="13.33" fill="#fef7f5"/><rect x="142.6" y="966.3" width="114.2" height="6.68" fill="#fffcfb"/><rect x="142.6" y="972.95" width="114.2" height="6.68" fill="#fbe5df"/><path fill="#d09070" fill-opacity="0.4" d="M143 74.39h1v6.66h-1zM143 247.45h1v6.66h-1zM144 260.76h1v6.66h-1zM147 247.45h1v6.66h-1zM148 540.31h1v6.66h-1zM152 247.45h1v6.66h-1zM152 260.76h1v6.66h-1zM152 287.38h1v6.66h-1zM152 460.44h1v6.66h-1zM156 540.31h1v6.66h-1zM157 74.39h1v6.66h-1zM158 247.45h1v6.66h-1zM159 260.76h1v6.66h-1zM161 74.39h1v6.66h-1zM161 274.07h1v6.66h-1zM162 247.45h1v6.66h-1zM163 287.38h1v6.66h-1zM166 74.39h1v6.66h-1zM167 247.45h1v6.66h-1zM170 247.45h1v6.66h-1zM172 247.45h1v6.66h-1zM172 287.38h1v6.66h-1zM175 274.07h1v6.66h-1zM177 260.76h1v6.66h-1zM177 274.07h1v6.66h-1zM178 274.07h1v6.66h-1zM179 74.39h1v6.66h-1zM180 247.45h1v6.66h-1zM181 287.38h1v6.66h-1zM184 540.31h1v6.66h-1zM186 74.39h1v6.66h-1zM186 274.07h1v6.66h-1zM187 460.44h1v6.66h-1zM188 260.76h1v6.66h-1zM188 460.44h1v6.66h-1zM191 274.07h1v6.66h-1zM193 260.76h1v6.66h-1zM193 287.38h1v6.66h-1zM193 540.31h1v6.66h-1zM194 274.07h1v6.66h-1zM196 460.44h1v6.66h-1zM197 274.07h1v6.66h-1zM197 287.38h1v6.66h-1zM197 540.31h1v6.66h-1zM198 74.39h1v6.66h-1zM198 274.07h1v6.66h-1zM198 540.31h1v6.66h-1zM200 460.44h1v6.66h-1zM201 74.39h1v6.66h-1zM201 540.31h1v6.66h-1zM203 247.45h1v6.66h-1zM203 274.07h1v6.66h-1zM204 247.45h1v6.66h-1zM204 460.44h1v6.66h-1zM206 74.39h1v6.66h-1zM209 540.31h1v6.66h-1zM210 74.39h1v6.66h-1zM210 247.45h1v6.66h-1zM210 274.07h1v6.66h-1zM210 287.38h1v6.66h-1zM210 460.44h1v6.66h-1zM210 540.31h1v6.66h-1zM213 247.45h1v6.66h-1zM213 274.07h1v6.66h-1zM214 274.07h1v6.66h-1zM215 260.76h1v6.66h-1zM217 260.76h1v6.66h-1zM218 287.38h1v6.66h-1zM220 247.45h1v6.66h-1zM222 460.44h1v6.66h-1zM223 274.07h1v6.66h-1zM224 247.45h1v6.66h-1zM224 274.07h1v6.66h-1zM224 540.31h1v6.66h-1zM225 260.76h1v6.66h-1zM225 274.07h1v6.66h-1zM225 540.31h1v6.66h-1zM226 260.76h1v6.66h-1zM226 274.07h1v6.66h-1zM226 287.38h1v6.66h-1zM229 540.31h1v6.66h-1zM232 287.38h1v6.66h-1zM233 247.45h1v6.66h-1zM233 274.07h1v6.66h-1zM236 274.07h1v6.66h-1zM238 540.31h1v6.66h-1zM240 260.76h1v6.66h-1zM241 287.38h1v6.66h-1zM242 247.45h1v6.66h-1zM242 274.07h1v6.66h-1zM242 540.31h1v6.66h-1zM244 260.76h1v6.66h-1zM244 287.38h1v6.66h-1zM246 260.76h1v6.66h-1zM247 274.07h1v6.66h-1zM248 247.45h1v6.66h-1zM249 260.76h1v6.66h-1zM252 247.45h1v6.66h-1zM252 260.76h1v6.66h-1zM252 460.44h1v6.66h-1z"/><path fill="#a4ae9e" fill-opacity="0.25" d="M143 87.7h1v6.66h-1zM143 214.17h1v6.66h-1zM143 280.73h1v6.66h-1zM143 487.06h1v6.66h-1zM143 720.02h1v6.66h-1zM144 180.89h1v6.66h-1zM144 407.19h1v6.66h-1zM144 507.03h1v6.66h-1zM144 660.12h1v6.66h-1zM144 779.93h1v6.66h-1zM145 200.86h1v6.66h-1zM145 440.47h1v6.66h-1zM145 666.78h1v6.66h-1zM145 680.09h1v13.31h-1zM145 759.96h1v6.66h-1zM145 886.42h1v6.66h-1zM145 926.36h1v6.66h-1zM146 586.9h1v6.66h-1zM146 879.77h1v6.66h-1zM147 280.73h1v6.66h-1zM147 500.38h1v6.66h-1zM147 520.34h1v6.66h-1zM147 593.56h1v6.66h-1zM147 660.12h1v6.66h-1zM147 726.68h1v6.66h-1zM147 906.39h1v6.66h-1zM148 54.42h1v6.66h-1zM148 240.79h1v6.66h-1zM148 447.13h1v6.66h-1zM148 500.38h1v13.31h-1zM148 606.87h1v6.66h-1zM148 773.27h1v6.66h-1zM148 813.21h1v6.66h-1zM148 833.18h1v6.66h-1zM148 873.11h1v6.66h-1zM148 906.39h1v6.66h-1zM148 972.95h1v6.66h-1zM149 101.02h1v6.66h-1zM150 314.01h1v6.66h-1zM150 327.32h1v6.66h-1zM150 626.84h1v6.66h-1zM151 234.14h1v6.66h-1zM151 553.62h1v6.66h-1zM151 633.5h1v6.66h-1zM151 759.96h1v6.66h-1zM152 407.19h1v6.66h-1zM152 507.03h1v6.66h-1zM152 666.78h1v6.66h-1zM152 726.68h1v6.66h-1zM152 946.33h1v6.66h-1zM153 220.82h1v6.66h-1zM153 347.29h1v6.66h-1zM153 373.91h1v13.31h-1zM153 400.54h1v6.66h-1zM153 500.38h1v6.66h-1zM153 553.62h1v6.66h-1zM153 680.09h1v6.66h-1zM153 693.4h1v6.66h-1zM153 786.58h1v6.66h-1zM153 886.42h1v6.66h-1zM153 899.74h1v6.66h-1zM153 913.05h1v13.31h-1zM154 154.26h1v6.66h-1zM154 187.54h1v6.66h-1zM154 546.97h1v13.31h-1zM154 626.84h1v6.66h-1zM154 819.86h1v6.66h-1zM155 513.69h1v6.66h-1zM155 839.83h1v6.66h-1zM155 926.36h1v6.66h-1zM156 214.17h1v6.66h-1zM156 327.32h1v6.66h-1zM157 41.11h1v13.31h-1zM157 101.02h1v6.66h-1zM157 160.92h1v13.31h-1zM157 267.42h1v6.66h-1zM157 333.98h1v6.66h-1zM157 447.13h1v6.66h-1zM157 500.38h1v6.66h-1zM157 720.02h1v6.66h-1zM157 759.96h1v6.66h-1zM157 859.8h1v6.66h-1zM157 926.36h1v6.66h-1zM158 67.74h1v6.66h-1zM158 160.92h1v6.66h-1zM158 194.2h1v6.66h-1zM158 214.17h1v6.66h-1zM158 300.7h1v6.66h-1zM158 333.98h1v6.66h-1zM158 513.69h1v6.66h-1zM158 546.97h1v6.66h-1zM158 606.87h1v6.66h-1zM158 633.5h1v6.66h-1zM158 646.81h1v19.97h-1zM158 759.96h1v19.97h-1zM158 793.24h1v13.31h-1zM158 813.21h1v13.31h-1zM158 833.18h1v6.66h-1zM158 906.39h1v13.31h-1zM158 933.02h1v6.66h-1zM158 972.95h1v6.66h-1zM159 47.77h1v6.66h-1zM159 227.48h1v6.66h-1zM159 320.66h1v6.66h-1zM159 513.69h1v6.66h-1zM159 906.39h1v6.66h-1zM159 952.98h1v6.66h-1zM160 54.42h1v6.66h-1zM160 307.35h1v6.66h-1zM160 433.82h1v6.66h-1zM160 846.49h1v6.66h-1zM161 101.02h1v6.66h-1zM161 120.98h1v6.66h-1zM161 234.14h1v6.66h-1zM161 280.73h1v6.66h-1zM161 300.7h1v6.66h-1zM161 320.66h1v6.66h-1zM161 333.98h1v6.66h-1zM161 347.29h1v6.66h-1zM161 393.88h1v6.66h-1zM161 420.5h1v6.66h-1zM161 520.34h1v6.66h-1zM161 553.62h1v6.66h-1zM161 593.56h1v6.66h-1zM161 680.09h1v6.66h-1zM161 693.4h1v6.66h-1zM161 713.37h1v6.66h-1zM161 779.93h1v6.66h-1zM161 806.55h1v6.66h-1zM161 819.86h1v13.31h-1zM161 906.39h1v6.66h-1zM161 926.36h1v6.66h-1zM162 67.74h1v6.66h-1zM162 340.63h1v6.66h-1zM162 380.57h1v6.66h-1zM162 393.88h1v13.31h-1zM162 447.13h1v6.66h-1zM162 553.62h1v6.66h-1zM162 913.05h1v6.66h-1zM163 160.92h1v6.66h-1zM163 633.5h1v6.66h-1zM163 646.81h1v6.66h-1zM163 919.7h1v6.66h-1zM163 939.67h1v6.66h-1zM164 160.92h1v6.66h-1zM164 307.35h1v6.66h-1zM164 666.78h1v6.66h-1zM165 300.7h1v6.66h-1zM165 759.96h1v6.66h-1zM166 140.95h1v6.66h-1zM166 240.79h1v6.66h-1zM166 254.1h1v6.66h-1zM166 280.73h1v6.66h-1zM166 294.04h1v13.31h-1zM166 373.91h1v6.66h-1zM166 393.88h1v13.31h-1zM166 593.56h1v6.66h-1zM166 666.78h1v6.66h-1zM166 713.37h1v13.31h-1zM166 733.34h1v6.66h-1zM166 746.65h1v6.66h-1zM166 846.49h1v6.66h-1zM166 913.05h1v6.66h-1zM167 54.42h1v6.66h-1zM167 207.51h1v13.31h-1zM167 380.57h1v6.66h-1zM167 447.13h1v6.66h-1zM167 513.69h1v6.66h-1zM167 646.81h1v6.66h-1zM167 666.78h1v6.66h-1zM167 846.49h1v13.31h-1zM168 81.05h1v6.66h-1zM168 340.63h1v6.66h-1zM168 380.57h1v6.66h-1zM168 407.19h1v6.66h-1zM168 726.68h1v6.66h-1zM168 739.99h1v6.66h-1zM169 952.98h1v6.66h-1zM170 413.85h1v6.66h-1zM170 666.78h1v6.66h-1zM170 826.52h1v6.66h-1zM170 893.08h1v6.66h-1zM171 839.83h1v6.66h-1zM172 220.82h1v6.66h-1zM172 267.42h1v6.66h-1zM172 294.04h1v6.66h-1zM172 413.85h1v6.66h-1zM172 473.75h1v6.66h-1zM172 626.84h1v6.66h-1zM172 646.81h1v6.66h-1zM172 680.09h1v6.66h-1zM172 946.33h1v6.66h-1zM173 280.73h1v6.66h-1zM173 646.81h1v6.66h-1zM174 333.98h1v6.66h-1zM174 373.91h1v6.66h-1zM174 633.5h1v6.66h-1zM174 700.06h1v6.66h-1zM174 952.98h1v6.66h-1zM175 67.74h1v6.66h-1zM175 87.7h1v6.66h-1zM175 101.02h1v6.66h-1zM175 227.48h1v6.66h-1zM175 314.01h1v6.66h-1zM175 340.63h1v6.66h-1zM175 400.54h1v6.66h-1zM175 666.78h1v6.66h-1zM175 746.65h1v6.66h-1zM175 806.55h1v6.66h-1zM175 906.39h1v6.66h-1zM175 926.36h1v6.66h-1zM176 314.01h1v6.66h-1zM176 507.03h1v6.66h-1zM176 826.52h1v6.66h-1zM176 933.02h1v6.66h-1zM177 320.66h1v6.66h-1zM177 333.98h1v6.66h-1zM177 487.06h1v6.66h-1zM177 520.34h1v6.66h-1zM177 680.09h1v6.66h-1zM177 733.34h1v6.66h-1zM177 786.58h1v6.66h-1zM178 81.05h1v6.66h-1zM178 134.3h1v6.66h-1zM178 254.1h1v6.66h-1zM178 759.96h1v6.66h-1zM178 959.64h1v6.66h-1zM179 174.23h1v6.66h-1zM179 393.88h1v6.66h-1zM179 799.9h1v6.66h-1zM179 813.21h1v6.66h-1zM179 879.77h1v6.66h-1zM179 946.33h1v6.66h-1zM180 147.61h1v6.66h-1zM180 919.7h1v6.66h-1zM181 87.7h1v6.66h-1zM181 846.49h1v6.66h-1zM181 933.02h1v6.66h-1zM182 294.04h1v6.66h-1zM182 726.68h1v6.66h-1zM182 826.52h1v6.66h-1zM183 314.01h1v6.66h-1zM183 380.57h1v6.66h-1zM183 447.13h1v6.66h-1zM183 746.65h1v6.66h-1zM184 174.23h1v6.66h-1zM184 214.17h1v6.66h-1zM184 320.66h1v13.31h-1zM184 447.13h1v6.66h-1zM184 507.03h1v6.66h-1zM184 606.87h1v6.66h-1zM184 686.74h1v6.66h-1zM185 147.61h1v6.66h-1zM185 833.18h1v6.66h-1zM185 913.05h1v6.66h-1zM185 933.02h1v6.66h-1zM186 267.42h1v6.66h-1zM186 280.73h1v6.66h-1zM186 340.63h1v6.66h-1zM186 373.91h1v6.66h-1zM186 487.06h1v6.66h-1zM186 586.9h1v6.66h-1zM186 773.27h1v6.66h-1zM186 913.05h1v6.66h-1zM186 946.33h1v6.66h-1zM186 959.64h1v6.66h-1zM187 120.98h1v6.66h-1zM187 240.79h1v6.66h-1zM187 320.66h1v6.66h-1zM187 387.22h1v6.66h-1zM187 407.19h1v6.66h-1zM187 473.75h1v6.66h-1zM187 487.06h1v6.66h-1zM187 546.97h1v6.66h-1zM187 680.09h1v6.66h-1zM187 726.68h1v6.66h-1zM187 739.99h1v6.66h-1zM187 759.96h1v6.66h-1zM187 846.49h1v6.66h-1zM187 859.8h1v6.66h-1zM187 926.36h1v6.66h-1zM188 234.14h1v6.66h-1zM188 380.57h1v6.66h-1zM188 413.85h1v6.66h-1zM188 507.03h1v6.66h-1zM188 746.65h1v6.66h-1zM188 819.86h1v6.66h-1zM188 906.39h1v6.66h-1zM189 314.01h1v6.66h-1zM189 693.4h1v6.66h-1zM190 333.98h1v6.66h-1zM190 846.49h1v6.66h-1zM190 933.02h1v6.66h-1zM190 972.95h1v6.66h-1zM191 240.79h1v6.66h-1zM191 420.5h1v6.66h-1zM191 507.03h1v6.66h-1zM191 546.97h1v13.31h-1zM191 686.74h1v6.66h-1zM191 720.02h1v6.66h-1zM191 766.62h1v6.66h-1zM191 946.33h1v6.66h-1zM192 314.01h1v6.66h-1zM193 314.01h1v13.31h-1zM193 387.22h1v6.66h-1zM193 400.54h1v13.31h-1zM193 487.06h1v6.66h-1zM193 666.78h1v6.66h-1zM193 813.21h1v6.66h-1zM193 873.11h1v6.66h-1zM194 120.98h1v6.66h-1zM194 433.82h1v6.66h-1zM194 913.05h1v6.66h-1zM195 267.42h1v6.66h-1zM195 307.35h1v6.66h-1zM195 373.91h1v13.31h-1zM195 440.47h1v6.66h-1zM195 520.34h1v6.66h-1zM195 546.97h1v6.66h-1zM195 646.81h1v6.66h-1zM195 686.74h1v13.31h-1zM195 746.65h1v6.66h-1zM195 833.18h1v6.66h-1zM196 114.33h1v6.66h-1zM196 380.57h1v13.31h-1zM196 873.11h1v6.66h-1zM197 81.05h1v6.66h-1zM197 234.14h1v6.66h-1zM197 254.1h1v6.66h-1zM197 307.35h1v6.66h-1zM197 333.98h1v6.66h-1zM197 347.29h1v6.66h-1zM197 393.88h1v13.31h-1zM197 440.47h1v13.31h-1zM197 473.75h1v6.66h-1zM197 487.06h1v6.66h-1zM197 546.97h1v13.31h-1zM197 680.09h1v13.31h-1zM197 700.06h1v6.66h-1zM197 759.96h1v6.66h-1zM197 773.27h1v13.31h-1zM197 819.86h1v19.97h-1zM197 873.11h1v13.31h-1zM197 893.08h1v6.66h-1zM197 933.02h1v6.66h-1zM197 946.33h1v6.66h-1zM197 959.64h1v6.66h-1zM198 160.92h1v6.66h-1zM198 174.23h1v6.66h-1zM198 240.79h1v6.66h-1zM198 267.42h1v6.66h-1zM198 314.01h1v6.66h-1zM198 327.32h1v6.66h-1zM198 373.91h1v6.66h-1zM198 393.88h1v6.66h-1zM198 433.82h1v6.66h-1zM198 520.34h1v6.66h-1zM198 553.62h1v6.66h-1zM198 646.81h1v6.66h-1zM198 700.06h1v6.66h-1zM198 713.37h1v6.66h-1zM198 766.62h1v13.31h-1zM198 946.33h1v6.66h-1zM198 972.95h1v6.66h-1zM199 234.14h1v6.66h-1zM199 753.3h1v6.66h-1zM200 81.05h1v6.66h-1zM200 307.35h1v6.66h-1zM200 513.69h1v6.66h-1zM200 626.84h1v6.66h-1zM200 700.06h1v6.66h-1zM200 746.65h1v6.66h-1zM200 806.55h1v6.66h-1zM201 320.66h1v6.66h-1zM201 447.13h1v6.66h-1zM201 487.06h1v6.66h-1zM201 546.97h1v6.66h-1zM201 680.09h1v6.66h-1zM201 693.4h1v6.66h-1zM201 726.68h1v6.66h-1zM201 826.52h1v6.66h-1zM201 886.42h1v6.66h-1zM202 686.74h1v6.66h-1zM202 720.02h1v6.66h-1zM202 946.33h1v6.66h-1zM203 180.89h1v6.66h-1zM203 207.51h1v6.66h-1zM203 280.73h1v6.66h-1zM203 660.12h1v13.31h-1zM203 913.05h1v6.66h-1zM203 946.33h1v6.66h-1zM204 720.02h1v6.66h-1zM204 746.65h1v6.66h-1zM204 779.93h1v6.66h-1zM205 513.69h1v13.31h-1zM205 693.4h1v6.66h-1zM205 859.8h1v6.66h-1zM206 120.98h1v6.66h-1zM206 347.29h1v6.66h-1zM206 826.52h1v6.66h-1zM207 393.88h1v6.66h-1zM207 913.05h1v6.66h-1zM208 759.96h1v6.66h-1zM208 873.11h1v6.66h-1zM208 946.33h1v6.66h-1zM209 87.7h1v6.66h-1zM209 174.23h1v6.66h-1zM209 447.13h1v13.31h-1zM209 666.78h1v6.66h-1zM209 733.34h1v6.66h-1zM209 786.58h1v6.66h-1zM209 866.46h1v6.66h-1zM209 933.02h1v6.66h-1zM210 87.7h1v6.66h-1zM210 120.98h1v6.66h-1zM210 167.58h1v6.66h-1zM210 307.35h1v6.66h-1zM210 420.5h1v6.66h-1zM210 520.34h1v6.66h-1zM210 600.22h1v6.66h-1zM210 686.74h1v6.66h-1zM210 720.02h1v6.66h-1zM210 779.93h1v6.66h-1zM210 846.49h1v6.66h-1zM210 859.8h1v6.66h-1zM210 926.36h1v6.66h-1zM210 946.33h1v6.66h-1zM210 959.64h1v6.66h-1zM211 234.14h1v6.66h-1zM211 380.57h1v6.66h-1zM211 933.02h1v6.66h-1zM212 793.24h1v6.66h-1zM213 234.14h1v6.66h-1zM213 520.34h1v6.66h-1zM213 626.84h1v6.66h-1zM213 686.74h1v6.66h-1zM213 859.8h1v6.66h-1zM213 952.98h1v6.66h-1zM214 447.13h1v6.66h-1zM214 487.06h1v6.66h-1zM214 500.38h1v13.31h-1zM214 520.34h1v6.66h-1zM214 753.3h1v6.66h-1zM215 194.2h1v6.66h-1zM215 347.29h1v6.66h-1zM215 433.82h1v6.66h-1zM215 666.78h1v6.66h-1zM216 147.61h1v6.66h-1zM216 227.48h1v6.66h-1zM216 254.1h1v6.66h-1zM216 380.57h1v6.66h-1zM216 420.5h1v6.66h-1zM216 500.38h1v6.66h-1zM216 693.4h1v6.66h-1zM216 873.11h1v6.66h-1zM217 200.86h1v13.31h-1zM217 314.01h1v6.66h-1zM217 380.57h1v6.66h-1zM217 407.19h1v6.66h-1zM217 586.9h1v6.66h-1zM217 666.78h1v6.66h-1zM217 819.86h1v6.66h-1zM217 886.42h1v6.66h-1zM217 906.39h1v6.66h-1zM218 114.33h1v6.66h-1zM218 187.54h1v6.66h-1zM218 314.01h1v6.66h-1zM218 407.19h1v6.66h-1zM218 507.03h1v6.66h-1zM218 886.42h1v6.66h-1zM218 926.36h1v6.66h-1zM219 234.14h1v6.66h-1zM219 314.01h1v6.66h-1zM220 300.7h1v13.31h-1zM220 773.27h1v6.66h-1zM220 846.49h1v6.66h-1zM221 333.98h1v6.66h-1zM221 759.96h1v6.66h-1zM222 101.02h1v13.31h-1zM222 154.26h1v6.66h-1zM222 294.04h1v6.66h-1zM222 347.29h1v6.66h-1zM222 387.22h1v6.66h-1zM222 453.78h1v6.66h-1zM222 473.75h1v6.66h-1zM222 487.06h1v6.66h-1zM222 799.9h1v6.66h-1zM222 826.52h1v6.66h-1zM222 959.64h1v6.66h-1zM224 101.02h1v6.66h-1zM224 207.51h1v6.66h-1zM225 134.3h1v6.66h-1zM225 294.04h1v6.66h-1zM225 393.88h1v6.66h-1zM225 433.82h1v6.66h-1zM225 447.13h1v6.66h-1zM225 513.69h1v6.66h-1zM225 553.62h1v6.66h-1zM225 686.74h1v6.66h-1zM225 826.52h1v13.31h-1zM226 114.33h1v6.66h-1zM226 160.92h1v6.66h-1zM226 234.14h1v13.31h-1zM226 553.62h1v6.66h-1zM226 626.84h1v6.66h-1zM226 686.74h1v6.66h-1zM226 700.06h1v6.66h-1zM226 813.21h1v13.31h-1zM226 866.46h1v6.66h-1zM226 886.42h1v6.66h-1zM227 207.51h1v6.66h-1zM227 320.66h1v6.66h-1zM227 686.74h1v6.66h-1zM227 713.37h1v6.66h-1zM228 101.02h1v6.66h-1zM229 267.42h1v6.66h-1zM229 393.88h1v6.66h-1zM230 207.51h1v6.66h-1zM230 294.04h1v6.66h-1zM230 553.62h1v6.66h-1zM230 779.93h1v6.66h-1zM230 793.24h1v6.66h-1zM230 933.02h1v6.66h-1zM231 147.61h1v6.66h-1zM231 220.82h1v6.66h-1zM231 254.1h1v6.66h-1zM231 407.19h1v6.66h-1zM231 500.38h1v13.31h-1zM231 886.42h1v6.66h-1zM232 114.33h1v6.66h-1zM232 453.78h1v6.66h-1zM232 626.84h1v6.66h-1zM232 759.96h1v6.66h-1zM232 819.86h1v6.66h-1zM232 893.08h1v6.66h-1zM232 906.39h1v6.66h-1zM232 972.95h1v6.66h-1zM233 453.78h1v6.66h-1zM233 553.62h1v6.66h-1zM233 753.3h1v6.66h-1zM233 873.11h1v6.66h-1zM235 700.06h1v6.66h-1zM236 127.64h1v6.66h-1zM236 453.78h1v6.66h-1zM236 793.24h1v6.66h-1zM236 913.05h1v6.66h-1zM236 972.95h1v6.66h-1zM237 194.2h1v6.66h-1zM238 160.92h1v6.66h-1zM238 207.51h1v6.66h-1zM238 307.35h1v6.66h-1zM238 407.19h1v6.66h-1zM238 666.78h1v6.66h-1zM239 307.35h1v6.66h-1zM239 853.14h1v6.66h-1zM240 546.97h1v6.66h-1zM240 919.7h1v6.66h-1zM241 500.38h1v6.66h-1zM241 726.68h1v6.66h-1zM241 773.27h1v6.66h-1zM241 913.05h1v6.66h-1zM241 952.98h1v6.66h-1zM242 234.14h1v6.66h-1zM242 300.7h1v6.66h-1zM242 633.5h1v6.66h-1zM242 713.37h1v6.66h-1zM242 799.9h1v6.66h-1zM242 893.08h1v6.66h-1zM243 806.55h1v6.66h-1zM244 280.73h1v6.66h-1zM244 307.35h1v6.66h-1zM244 400.54h1v6.66h-1zM244 606.87h1v6.66h-1zM244 626.84h1v6.66h-1zM244 773.27h1v6.66h-1zM244 846.49h1v6.66h-1zM245 520.34h1v6.66h-1zM245 766.62h1v6.66h-1zM245 826.52h1v6.66h-1zM246 586.9h1v6.66h-1zM246 906.39h1v6.66h-1zM246 959.64h1v6.66h-1zM247 759.96h1v6.66h-1zM248 806.55h1v6.66h-1zM248 839.83h1v6.66h-1zM249 320.66h1v6.66h-1zM249 440.47h1v6.66h-1zM249 453.78h1v6.66h-1zM249 546.97h1v6.66h-1zM249 813.21h1v6.66h-1zM250 393.88h1v6.66h-1zM250 447.13h1v6.66h-1zM250 826.52h1v6.66h-1zM251 254.1h1v6.66h-1zM252 680.09h1v6.66h-1zM252 972.95h1v6.66h-1zM253 167.58h1v6.66h-1zM253 347.29h1v6.66h-1zM253 433.82h1v6.66h-1zM253 507.03h1v6.66h-1zM253 520.34h1v6.66h-1zM253 553.62h1v6.66h-1zM254 500.38h1v6.66h-1zM254 646.81h1v6.66h-1zM254 899.74h1v6.66h-1zM255 240.79h1v6.66h-1zM255 393.88h1v6.66h-1zM255 473.75h1v6.66h-1zM255 507.03h1v6.66h-1zM255 946.33h1v6.66h-1zM255 966.3h1v13.31h-1zM256 240.79h1v6.66h-1zM256 507.03h1v6.66h-1zM256 726.68h1v6.66h-1zM256 826.52h1v6.66h-1zM256 906.39h1v6.66h-1z"/><path fill="#8c8c84" fill-opacity="0.25" d="M143 200.86h1v6.66h-1zM143 267.42h1v6.66h-1zM143 380.57h1v6.66h-1zM143 507.03h1v6.66h-1zM143 746.65h1v6.66h-1zM143 913.05h1v6.66h-1zM144 347.29h1v6.66h-1zM144 546.97h1v6.66h-1zM144 680.09h1v6.66h-1zM144 700.06h1v6.66h-1zM144 806.55h1v6.66h-1zM144 879.77h1v6.66h-1zM144 893.08h1v6.66h-1zM144 906.39h1v6.66h-1zM145 254.1h1v6.66h-1zM145 294.04h1v6.66h-1zM145 393.88h1v6.66h-1zM145 507.03h1v6.66h-1zM145 859.8h1v6.66h-1zM147 160.92h1v6.66h-1zM147 393.88h1v13.31h-1zM147 646.81h1v13.31h-1zM147 893.08h1v6.66h-1zM148 234.14h1v6.66h-1zM148 380.57h1v6.66h-1zM148 487.06h1v6.66h-1zM148 546.97h1v6.66h-1zM148 633.5h1v6.66h-1zM148 653.46h1v6.66h-1zM148 866.46h1v6.66h-1zM148 886.42h1v6.66h-1zM148 899.74h1v6.66h-1zM148 946.33h1v6.66h-1zM148 959.64h1v6.66h-1zM149 886.42h1v6.66h-1zM150 972.95h1v6.66h-1zM151 107.67h1v6.66h-1zM151 373.91h1v6.66h-1zM151 686.74h1v6.66h-1zM151 733.34h1v6.66h-1zM151 859.8h1v6.66h-1zM151 913.05h1v6.66h-1zM151 972.95h1v6.66h-1zM152 613.53h1v6.66h-1zM152 653.46h1v6.66h-1zM152 759.96h1v6.66h-1zM153 41.11h1v6.66h-1zM153 81.05h1v6.66h-1zM153 140.95h1v6.66h-1zM153 254.1h1v6.66h-1zM153 280.73h1v6.66h-1zM153 307.35h1v6.66h-1zM153 387.22h1v6.66h-1zM153 413.85h1v6.66h-1zM153 473.75h1v6.66h-1zM153 487.06h1v6.66h-1zM153 726.68h1v6.66h-1zM154 254.1h1v6.66h-1zM154 433.82h1v6.66h-1zM154 806.55h1v6.66h-1zM154 919.7h1v6.66h-1zM155 267.42h1v6.66h-1zM155 553.62h1v6.66h-1zM156 147.61h1v6.66h-1zM156 433.82h1v6.66h-1zM156 500.38h1v6.66h-1zM156 553.62h1v6.66h-1zM157 54.42h1v6.66h-1zM157 234.14h1v6.66h-1zM157 307.35h1v6.66h-1zM157 799.9h1v6.66h-1zM157 893.08h1v6.66h-1zM157 939.67h1v6.66h-1zM158 167.58h1v6.66h-1zM158 307.35h1v6.66h-1zM158 393.88h1v6.66h-1zM158 507.03h1v6.66h-1zM158 680.09h1v13.31h-1zM158 786.58h1v6.66h-1zM158 826.52h1v6.66h-1zM158 873.11h1v6.66h-1zM159 187.54h1v6.66h-1zM159 240.79h1v6.66h-1zM159 507.03h1v6.66h-1zM159 546.97h1v6.66h-1zM159 739.99h1v6.66h-1zM159 833.18h1v6.66h-1zM159 926.36h1v6.66h-1zM159 972.95h1v6.66h-1zM160 340.63h1v6.66h-1zM160 893.08h1v6.66h-1zM161 81.05h1v6.66h-1zM161 180.89h1v6.66h-1zM161 240.79h1v6.66h-1zM161 447.13h1v6.66h-1zM161 487.06h1v6.66h-1zM161 507.03h1v6.66h-1zM161 666.78h1v6.66h-1zM161 686.74h1v6.66h-1zM161 753.3h1v6.66h-1zM161 846.49h1v6.66h-1zM161 893.08h1v6.66h-1zM161 972.95h1v6.66h-1zM162 187.54h1v6.66h-1zM162 333.98h1v6.66h-1zM162 746.65h1v6.66h-1zM163 267.42h1v6.66h-1zM163 520.34h1v6.66h-1zM163 546.97h1v6.66h-1zM163 693.4h1v6.66h-1zM163 759.96h1v6.66h-1zM163 873.11h1v6.66h-1zM165 766.62h1v6.66h-1zM166 87.7h1v6.66h-1zM166 234.14h1v6.66h-1zM166 413.85h1v6.66h-1zM166 606.87h1v6.66h-1zM166 633.5h1v6.66h-1zM166 833.18h1v6.66h-1zM166 859.8h1v6.66h-1zM167 320.66h1v6.66h-1zM167 393.88h1v6.66h-1zM167 433.82h1v6.66h-1zM167 653.46h1v6.66h-1zM167 713.37h1v6.66h-1zM167 806.55h1v6.66h-1zM167 893.08h1v13.31h-1zM167 933.02h1v6.66h-1zM168 700.06h1v6.66h-1zM168 933.02h1v6.66h-1zM169 759.96h1v13.31h-1zM169 919.7h1v6.66h-1zM170 327.32h1v6.66h-1zM170 380.57h1v6.66h-1zM171 933.02h1v6.66h-1zM171 972.95h1v6.66h-1zM172 240.79h1v6.66h-1zM172 314.01h1v6.66h-1zM172 333.98h1v6.66h-1zM172 387.22h1v6.66h-1zM172 660.12h1v6.66h-1zM172 686.74h1v6.66h-1zM172 739.99h1v6.66h-1zM172 859.8h1v6.66h-1zM172 952.98h1v6.66h-1zM173 919.7h1v6.66h-1zM173 972.95h1v6.66h-1zM174 101.02h1v6.66h-1zM174 194.2h1v6.66h-1zM175 234.14h1v6.66h-1zM175 294.04h1v6.66h-1zM175 520.34h1v6.66h-1zM175 613.53h1v6.66h-1zM175 726.68h1v6.66h-1zM176 793.24h1v6.66h-1zM176 839.83h1v6.66h-1zM177 147.61h1v6.66h-1zM177 420.5h1v6.66h-1zM177 440.47h1v6.66h-1zM177 653.46h1v6.66h-1zM177 773.27h1v6.66h-1zM177 952.98h1v6.66h-1zM178 234.14h1v6.66h-1zM178 407.19h1v6.66h-1zM178 507.03h1v6.66h-1zM178 746.65h1v6.66h-1zM179 400.54h1v6.66h-1zM179 507.03h1v6.66h-1zM179 733.34h1v6.66h-1zM179 759.96h1v6.66h-1zM179 773.27h1v6.66h-1zM179 819.86h1v6.66h-1zM179 866.46h1v6.66h-1zM179 886.42h1v6.66h-1zM180 187.54h1v6.66h-1zM180 660.12h1v6.66h-1zM180 839.83h1v6.66h-1zM181 307.35h1v13.31h-1zM181 739.99h1v6.66h-1zM182 154.26h1v6.66h-1zM182 553.62h1v6.66h-1zM182 700.06h1v6.66h-1zM183 267.42h1v6.66h-1zM183 407.19h1v6.66h-1zM183 686.74h1v6.66h-1zM183 713.37h1v6.66h-1zM183 759.96h1v6.66h-1zM184 267.42h1v6.66h-1zM184 407.19h1v6.66h-1zM185 380.57h1v6.66h-1zM186 220.82h1v6.66h-1zM186 300.7h1v6.66h-1zM186 473.75h1v6.66h-1zM186 520.34h1v6.66h-1zM186 733.34h1v6.66h-1zM186 813.21h1v13.31h-1zM186 833.18h1v6.66h-1zM186 859.8h1v6.66h-1zM187 267.42h1v6.66h-1zM187 507.03h1v6.66h-1zM187 713.37h1v6.66h-1zM187 819.86h1v6.66h-1zM187 906.39h1v6.66h-1zM187 919.7h1v6.66h-1zM187 972.95h1v6.66h-1zM188 886.42h1v6.66h-1zM188 926.36h1v6.66h-1zM189 500.38h1v6.66h-1zM190 254.1h1v6.66h-1zM190 307.35h1v6.66h-1zM190 327.32h1v6.66h-1zM190 906.39h1v6.66h-1zM191 300.7h1v6.66h-1zM191 320.66h1v6.66h-1zM191 773.27h1v6.66h-1zM192 660.12h1v6.66h-1zM192 726.68h1v6.66h-1zM193 147.61h1v6.66h-1zM193 187.54h1v6.66h-1zM193 267.42h1v6.66h-1zM193 393.88h1v6.66h-1zM193 433.82h1v6.66h-1zM193 507.03h1v6.66h-1zM193 520.34h1v6.66h-1zM193 806.55h1v6.66h-1zM194 140.95h1v6.66h-1zM194 753.3h1v6.66h-1zM194 946.33h1v6.66h-1zM194 972.95h1v6.66h-1zM195 107.67h1v6.66h-1zM195 387.22h1v6.66h-1zM195 773.27h1v6.66h-1zM195 853.14h1v6.66h-1zM195 886.42h1v6.66h-1zM195 906.39h1v6.66h-1zM195 919.7h1v6.66h-1zM196 407.19h1v6.66h-1zM196 620.18h1v6.66h-1zM197 134.3h1v6.66h-1zM197 507.03h1v6.66h-1zM197 606.87h1v13.31h-1zM197 746.65h1v6.66h-1zM197 839.83h1v6.66h-1zM197 859.8h1v6.66h-1zM198 101.02h1v6.66h-1zM198 320.66h1v6.66h-1zM198 333.98h1v6.66h-1zM198 666.78h1v6.66h-1zM198 686.74h1v6.66h-1zM198 879.77h1v6.66h-1zM198 893.08h1v6.66h-1zM199 194.2h1v6.66h-1zM199 700.06h1v6.66h-1zM200 420.5h1v6.66h-1zM200 473.75h1v6.66h-1zM200 952.98h1v6.66h-1zM201 160.92h1v6.66h-1zM201 220.82h1v6.66h-1zM201 267.42h1v6.66h-1zM201 307.35h1v6.66h-1zM201 380.57h1v6.66h-1zM201 500.38h1v6.66h-1zM201 513.69h1v6.66h-1zM201 553.62h1v6.66h-1zM201 746.65h1v6.66h-1zM201 839.83h1v6.66h-1zM201 859.8h1v6.66h-1zM201 899.74h1v6.66h-1zM201 952.98h1v6.66h-1zM203 440.47h1v6.66h-1zM203 453.78h1v6.66h-1zM203 739.99h1v6.66h-1zM203 839.83h1v6.66h-1zM204 114.33h1v6.66h-1zM204 220.82h1v6.66h-1zM204 254.1h1v6.66h-1zM204 393.88h1v6.66h-1zM204 433.82h1v6.66h-1zM204 586.9h1v6.66h-1zM204 893.08h1v6.66h-1zM204 939.67h1v6.66h-1zM205 653.46h1v6.66h-1zM205 959.64h1v6.66h-1zM206 300.7h1v6.66h-1zM206 859.8h1v6.66h-1zM208 254.1h1v6.66h-1zM208 500.38h1v6.66h-1zM208 846.49h1v6.66h-1zM209 227.48h1v6.66h-1zM209 393.88h1v6.66h-1zM209 553.62h1v6.66h-1zM209 833.18h1v13.31h-1zM209 886.42h1v6.66h-1zM209 906.39h1v6.66h-1zM209 939.67h1v6.66h-1zM210 101.02h1v6.66h-1zM210 140.95h1v6.66h-1zM210 373.91h1v6.66h-1zM210 387.22h1v6.66h-1zM210 500.38h1v13.31h-1zM210 666.78h1v6.66h-1zM210 739.99h1v6.66h-1zM210 793.24h1v6.66h-1zM210 839.83h1v6.66h-1zM210 899.74h1v6.66h-1zM210 919.7h1v6.66h-1zM213 280.73h1v6.66h-1zM213 307.35h1v6.66h-1zM213 413.85h1v6.66h-1zM213 666.78h1v6.66h-1zM213 873.11h1v6.66h-1zM213 919.7h1v6.66h-1zM213 972.95h1v6.66h-1zM214 81.05h1v6.66h-1zM214 387.22h1v6.66h-1zM214 633.5h1v6.66h-1zM214 946.33h1v6.66h-1zM215 520.34h1v6.66h-1zM216 700.06h1v6.66h-1zM216 972.95h1v6.66h-1zM217 267.42h1v6.66h-1zM217 294.04h1v6.66h-1zM217 373.91h1v6.66h-1zM217 413.85h1v6.66h-1zM217 440.47h1v6.66h-1zM217 720.02h1v6.66h-1zM217 739.99h1v6.66h-1zM217 786.58h1v6.66h-1zM217 919.7h1v6.66h-1zM217 939.67h1v6.66h-1zM217 952.98h1v6.66h-1zM218 254.1h1v6.66h-1zM218 633.5h1v6.66h-1zM218 826.52h1v13.31h-1zM219 660.12h1v6.66h-1zM221 793.24h1v6.66h-1zM222 300.7h1v13.31h-1zM222 320.66h1v6.66h-1zM222 440.47h1v13.31h-1zM222 513.69h1v6.66h-1zM222 686.74h1v6.66h-1zM222 846.49h1v6.66h-1zM225 926.36h1v6.66h-1zM226 127.64h1v6.66h-1zM226 214.17h1v6.66h-1zM226 307.35h1v6.66h-1zM226 500.38h1v6.66h-1zM226 613.53h1v6.66h-1zM226 646.81h1v6.66h-1zM226 666.78h1v6.66h-1zM226 946.33h1v6.66h-1zM228 606.87h1v6.66h-1zM229 626.84h1v6.66h-1zM229 646.81h1v6.66h-1zM229 859.8h1v6.66h-1zM230 626.84h1v6.66h-1zM230 660.12h1v6.66h-1zM230 680.09h1v6.66h-1zM230 853.14h1v13.31h-1zM230 913.05h1v6.66h-1zM231 700.06h1v6.66h-1zM231 819.86h1v6.66h-1zM232 826.52h1v6.66h-1zM232 839.83h1v6.66h-1zM233 739.99h1v6.66h-1zM233 906.39h1v6.66h-1zM234 959.64h1v6.66h-1zM235 972.95h1v6.66h-1zM236 520.34h1v6.66h-1zM236 786.58h1v6.66h-1zM238 819.86h1v6.66h-1zM239 793.24h1v6.66h-1zM240 753.3h1v6.66h-1zM241 746.65h1v6.66h-1zM241 933.02h1v6.66h-1zM242 393.88h1v6.66h-1zM242 846.49h1v6.66h-1zM242 866.46h1v6.66h-1zM242 933.02h1v6.66h-1zM243 393.88h1v6.66h-1zM244 839.83h1v6.66h-1zM245 240.79h1v6.66h-1zM246 340.63h1v6.66h-1zM246 487.06h1v6.66h-1zM246 500.38h1v6.66h-1zM246 833.18h1v6.66h-1zM246 972.95h1v6.66h-1zM247 866.46h1v6.66h-1zM248 500.38h1v6.66h-1zM249 413.85h1v6.66h-1zM250 267.42h1v6.66h-1zM250 507.03h1v6.66h-1zM250 913.05h1v6.66h-1zM251 507.03h1v6.66h-1zM252 234.14h1v6.66h-1zM252 553.62h1v6.66h-1zM252 833.18h1v6.66h-1zM253 793.24h1v6.66h-1zM253 893.08h1v6.66h-1zM253 913.05h1v6.66h-1zM253 946.33h1v6.66h-1zM254 813.21h1v6.66h-1zM254 873.11h1v6.66h-1zM255 626.84h1v6.66h-1zM255 646.81h1v6.66h-1zM256 314.01h1v6.66h-1zM256 766.62h1v6.66h-1z"/><path fill="#8fae88" fill-opacity="0.25" d="M143 240.79h1v6.66h-1zM143 327.32h1v6.66h-1zM143 653.46h1v6.66h-1zM143 759.96h1v6.66h-1zM143 779.93h1v6.66h-1zM143 806.55h1v6.66h-1zM143 833.18h1v6.66h-1zM144 47.77h1v6.66h-1zM144 114.33h1v6.66h-1zM144 154.26h1v6.66h-1zM144 187.54h1v6.66h-1zM144 234.14h1v6.66h-1zM144 254.1h1v6.66h-1zM144 267.42h1v6.66h-1zM144 294.04h1v6.66h-1zM144 320.66h1v6.66h-1zM144 400.54h1v6.66h-1zM144 440.47h1v13.31h-1zM144 500.38h1v6.66h-1zM144 520.34h1v6.66h-1zM144 586.9h1v6.66h-1zM144 626.84h1v6.66h-1zM144 646.81h1v6.66h-1zM144 666.78h1v6.66h-1zM144 686.74h1v6.66h-1zM144 713.37h1v19.97h-1zM144 739.99h1v13.31h-1zM144 766.62h1v6.66h-1zM144 786.58h1v19.97h-1zM144 826.52h1v6.66h-1zM144 839.83h1v13.31h-1zM144 886.42h1v6.66h-1zM144 899.74h1v6.66h-1zM144 919.7h1v6.66h-1zM144 946.33h1v6.66h-1zM144 972.95h1v6.66h-1zM145 400.54h1v6.66h-1zM145 626.84h1v6.66h-1zM145 813.21h1v6.66h-1zM145 972.95h1v6.66h-1zM146 174.23h1v6.66h-1zM146 380.57h1v6.66h-1zM146 513.69h1v6.66h-1zM146 686.74h1v13.31h-1zM146 713.37h1v6.66h-1zM146 873.11h1v6.66h-1zM146 933.02h1v6.66h-1zM147 47.77h1v13.31h-1zM147 207.51h1v6.66h-1zM147 240.79h1v6.66h-1zM147 267.42h1v6.66h-1zM147 420.5h1v6.66h-1zM147 440.47h1v13.31h-1zM147 546.97h1v6.66h-1zM147 686.74h1v6.66h-1zM147 739.99h1v6.66h-1zM147 779.93h1v6.66h-1zM147 793.24h1v6.66h-1zM147 826.52h1v26.62h-1zM147 859.8h1v6.66h-1zM147 873.11h1v6.66h-1zM147 886.42h1v6.66h-1zM147 959.64h1v6.66h-1zM148 34.46h1v19.97h-1zM148 67.74h1v6.66h-1zM148 87.7h1v6.66h-1zM148 134.3h1v6.66h-1zM148 174.23h1v6.66h-1zM148 200.86h1v6.66h-1zM148 220.82h1v13.31h-1zM148 267.42h1v6.66h-1zM148 280.73h1v6.66h-1zM148 307.35h1v6.66h-1zM148 320.66h1v6.66h-1zM148 333.98h1v19.97h-1zM148 373.91h1v6.66h-1zM148 393.88h1v33.28h-1zM148 433.82h1v6.66h-1zM148 613.53h1v6.66h-1zM148 626.84h1v6.66h-1zM148 646.81h1v6.66h-1zM148 666.78h1v6.66h-1zM148 686.74h1v19.97h-1zM148 713.37h1v6.66h-1zM148 746.65h1v13.31h-1zM148 779.93h1v6.66h-1zM148 793.24h1v6.66h-1zM148 806.55h1v6.66h-1zM148 846.49h1v13.31h-1zM148 893.08h1v6.66h-1zM148 913.05h1v6.66h-1zM148 933.02h1v6.66h-1zM148 966.3h1v6.66h-1zM149 34.46h1v6.66h-1zM149 47.77h1v6.66h-1zM149 154.26h1v6.66h-1zM149 227.48h1v6.66h-1zM149 453.78h1v6.66h-1zM149 513.69h1v6.66h-1zM149 553.62h1v6.66h-1zM149 726.68h1v6.66h-1zM149 826.52h1v6.66h-1zM150 41.11h1v6.66h-1zM150 87.7h1v6.66h-1zM150 127.64h1v6.66h-1zM150 160.92h1v6.66h-1zM150 254.1h1v6.66h-1zM150 340.63h1v6.66h-1zM150 400.54h1v13.31h-1zM150 553.62h1v6.66h-1zM151 41.11h1v6.66h-1zM151 101.02h1v6.66h-1zM151 440.47h1v13.31h-1zM151 546.97h1v6.66h-1zM151 653.46h1v13.31h-1zM151 726.68h1v6.66h-1zM151 739.99h1v6.66h-1zM151 799.9h1v6.66h-1zM151 826.52h1v6.66h-1zM151 853.14h1v6.66h-1zM151 939.67h1v6.66h-1zM152 81.05h1v6.66h-1zM152 333.98h1v6.66h-1zM152 393.88h1v6.66h-1zM152 433.82h1v6.66h-1zM152 447.13h1v6.66h-1zM152 546.97h1v6.66h-1zM152 586.9h1v6.66h-1zM152 633.5h1v6.66h-1zM152 733.34h1v6.66h-1zM152 806.55h1v6.66h-1zM152 913.05h1v6.66h-1zM152 952.98h1v6.66h-1zM153 54.42h1v6.66h-1zM153 147.61h1v6.66h-1zM153 187.54h1v6.66h-1zM153 240.79h1v6.66h-1zM153 300.7h1v6.66h-1zM153 320.66h1v13.31h-1zM153 600.22h1v6.66h-1zM153 653.46h1v6.66h-1zM153 686.74h1v6.66h-1zM153 733.34h1v6.66h-1zM153 793.24h1v6.66h-1zM153 866.46h1v6.66h-1zM153 879.77h1v6.66h-1zM153 926.36h1v6.66h-1zM153 946.33h1v6.66h-1zM154 134.3h1v6.66h-1zM154 200.86h1v6.66h-1zM154 227.48h1v6.66h-1zM154 267.42h1v6.66h-1zM154 320.66h1v6.66h-1zM154 347.29h1v6.66h-1zM154 400.54h1v13.31h-1zM154 507.03h1v6.66h-1zM154 786.58h1v6.66h-1zM154 893.08h1v6.66h-1zM154 913.05h1v6.66h-1zM154 972.95h1v6.66h-1zM155 47.77h1v13.31h-1zM155 127.64h1v6.66h-1zM155 320.66h1v6.66h-1zM155 453.78h1v6.66h-1zM155 646.81h1v6.66h-1zM155 859.8h1v6.66h-1zM155 919.7h1v6.66h-1zM156 280.73h1v6.66h-1zM156 507.03h1v6.66h-1zM156 713.37h1v6.66h-1zM156 793.24h1v6.66h-1zM156 819.86h1v6.66h-1zM157 280.73h1v6.66h-1zM157 314.01h1v6.66h-1zM157 340.63h1v6.66h-1zM157 373.91h1v6.66h-1zM157 507.03h1v6.66h-1zM157 546.97h1v13.31h-1zM157 633.5h1v6.66h-1zM157 653.46h1v19.97h-1zM157 686.74h1v6.66h-1zM157 726.68h1v6.66h-1zM157 739.99h1v6.66h-1zM157 826.52h1v13.31h-1zM157 919.7h1v6.66h-1zM157 972.95h1v6.66h-1zM158 101.02h1v6.66h-1zM158 120.98h1v6.66h-1zM158 154.26h1v6.66h-1zM158 200.86h1v6.66h-1zM158 267.42h1v6.66h-1zM158 320.66h1v6.66h-1zM158 340.63h1v13.31h-1zM158 413.85h1v6.66h-1zM158 433.82h1v6.66h-1zM158 447.13h1v13.31h-1zM158 487.06h1v6.66h-1zM158 520.34h1v6.66h-1zM158 700.06h1v6.66h-1zM158 720.02h1v6.66h-1zM158 739.99h1v6.66h-1zM158 779.93h1v6.66h-1zM158 806.55h1v6.66h-1zM158 839.83h1v13.31h-1zM158 859.8h1v13.31h-1zM158 899.74h1v6.66h-1zM158 926.36h1v6.66h-1zM158 939.67h1v13.31h-1zM159 54.42h1v6.66h-1zM159 194.2h1v6.66h-1zM159 207.51h1v6.66h-1zM159 294.04h1v6.66h-1zM159 314.01h1v6.66h-1zM159 380.57h1v6.66h-1zM159 407.19h1v6.66h-1zM159 447.13h1v6.66h-1zM159 520.34h1v6.66h-1zM159 593.56h1v6.66h-1zM159 700.06h1v6.66h-1zM159 806.55h1v6.66h-1zM159 859.8h1v6.66h-1zM159 939.67h1v6.66h-1zM160 373.91h1v6.66h-1zM160 913.05h1v6.66h-1zM160 972.95h1v6.66h-1zM161 67.74h1v6.66h-1zM161 87.7h1v6.66h-1zM161 114.33h1v6.66h-1zM161 194.2h1v13.31h-1zM161 327.32h1v6.66h-1zM161 340.63h1v6.66h-1zM161 380.57h1v13.31h-1zM161 400.54h1v6.66h-1zM161 453.78h1v6.66h-1zM161 473.75h1v6.66h-1zM161 500.38h1v6.66h-1zM161 586.9h1v6.66h-1zM161 646.81h1v6.66h-1zM161 700.06h1v6.66h-1zM161 733.34h1v13.31h-1zM161 759.96h1v6.66h-1zM161 773.27h1v6.66h-1zM161 799.9h1v6.66h-1zM161 833.18h1v13.31h-1zM161 859.8h1v19.97h-1zM161 899.74h1v6.66h-1zM161 913.05h1v6.66h-1zM161 933.02h1v26.62h-1zM162 54.42h1v6.66h-1zM162 120.98h1v13.31h-1zM162 174.23h1v13.31h-1zM162 234.14h1v13.31h-1zM162 314.01h1v19.97h-1zM162 407.19h1v13.31h-1zM162 440.47h1v6.66h-1zM162 487.06h1v6.66h-1zM162 507.03h1v6.66h-1zM162 520.34h1v6.66h-1zM162 606.87h1v6.66h-1zM162 653.46h1v13.31h-1zM162 700.06h1v6.66h-1zM162 759.96h1v6.66h-1zM162 806.55h1v6.66h-1zM162 826.52h1v13.31h-1zM162 893.08h1v6.66h-1zM162 933.02h1v6.66h-1zM162 952.98h1v6.66h-1zM163 234.14h1v6.66h-1zM163 333.98h1v6.66h-1zM163 586.9h1v6.66h-1zM163 653.46h1v6.66h-1zM163 972.95h1v6.66h-1zM164 347.29h1v6.66h-1zM164 407.19h1v6.66h-1zM164 660.12h1v6.66h-1zM164 686.74h1v6.66h-1zM164 700.06h1v6.66h-1zM164 759.96h1v6.66h-1zM164 893.08h1v6.66h-1zM165 114.33h1v6.66h-1zM165 140.95h1v6.66h-1zM165 234.14h1v6.66h-1zM165 314.01h1v6.66h-1zM165 333.98h1v13.31h-1zM165 733.34h1v6.66h-1zM165 806.55h1v6.66h-1zM165 839.83h1v6.66h-1zM166 67.74h1v6.66h-1zM166 81.05h1v6.66h-1zM166 101.02h1v6.66h-1zM166 114.33h1v19.97h-1zM166 147.61h1v6.66h-1zM166 167.58h1v6.66h-1zM166 180.89h1v53.25h-1zM166 267.42h1v6.66h-1zM166 307.35h1v46.59h-1zM166 380.57h1v13.31h-1zM166 407.19h1v6.66h-1zM166 420.5h1v6.66h-1zM166 433.82h1v19.97h-1zM166 473.75h1v6.66h-1zM166 487.06h1v6.66h-1zM166 500.38h1v13.31h-1zM166 520.34h1v6.66h-1zM166 546.97h1v6.66h-1zM166 586.9h1v6.66h-1zM166 600.22h1v6.66h-1zM166 646.81h1v19.97h-1zM166 680.09h1v26.62h-1zM166 739.99h1v6.66h-1zM166 753.3h1v33.28h-1zM166 793.24h1v19.97h-1zM166 819.86h1v13.31h-1zM166 839.83h1v6.66h-1zM166 853.14h1v6.66h-1zM166 866.46h1v19.97h-1zM166 893.08h1v6.66h-1zM166 906.39h1v6.66h-1zM166 919.7h1v46.59h-1zM167 194.2h1v6.66h-1zM167 254.1h1v6.66h-1zM167 267.42h1v6.66h-1zM167 307.35h1v6.66h-1zM167 333.98h1v6.66h-1zM167 373.91h1v6.66h-1zM167 413.85h1v6.66h-1zM167 453.78h1v6.66h-1zM167 487.06h1v6.66h-1zM167 553.62h1v6.66h-1zM167 660.12h1v6.66h-1zM167 686.74h1v6.66h-1zM167 726.68h1v6.66h-1zM167 753.3h1v6.66h-1zM167 793.24h1v13.31h-1zM167 826.52h1v6.66h-1zM167 859.8h1v6.66h-1zM167 913.05h1v19.97h-1zM168 200.86h1v6.66h-1zM168 447.13h1v6.66h-1zM168 686.74h1v6.66h-1zM168 713.37h1v6.66h-1zM168 779.93h1v13.31h-1zM169 81.05h1v6.66h-1zM169 294.04h1v6.66h-1zM169 373.91h1v6.66h-1zM169 520.34h1v6.66h-1zM169 646.81h1v6.66h-1zM169 739.99h1v6.66h-1zM169 839.83h1v6.66h-1zM169 886.42h1v6.66h-1zM169 972.95h1v6.66h-1zM170 147.61h1v6.66h-1zM170 240.79h1v6.66h-1zM170 280.73h1v6.66h-1zM170 314.01h1v6.66h-1zM170 440.47h1v6.66h-1zM170 487.06h1v6.66h-1zM170 633.5h1v6.66h-1zM170 700.06h1v6.66h-1zM170 806.55h1v13.31h-1zM171 134.3h1v6.66h-1zM171 620.18h1v6.66h-1zM171 826.52h1v6.66h-1zM171 899.74h1v6.66h-1zM172 300.7h1v6.66h-1zM172 447.13h1v6.66h-1zM172 500.38h1v6.66h-1zM172 786.58h1v6.66h-1zM172 813.21h1v6.66h-1zM172 853.14h1v6.66h-1zM172 866.46h1v6.66h-1zM172 959.64h1v6.66h-1zM173 54.42h1v6.66h-1zM173 373.91h1v6.66h-1zM173 553.62h1v6.66h-1zM173 746.65h1v6.66h-1zM173 899.74h1v6.66h-1zM174 67.74h1v6.66h-1zM174 107.67h1v6.66h-1zM174 267.42h1v6.66h-1zM174 307.35h1v6.66h-1zM174 380.57h1v6.66h-1zM174 453.78h1v6.66h-1zM174 487.06h1v6.66h-1zM174 620.18h1v6.66h-1zM174 686.74h1v6.66h-1zM174 720.02h1v13.31h-1zM174 806.55h1v6.66h-1zM174 899.74h1v6.66h-1zM174 966.3h1v6.66h-1zM175 307.35h1v6.66h-1zM175 320.66h1v6.66h-1zM175 440.47h1v19.97h-1zM175 553.62h1v6.66h-1zM175 626.84h1v6.66h-1zM175 646.81h1v6.66h-1zM175 766.62h1v6.66h-1zM175 779.93h1v6.66h-1zM175 819.86h1v6.66h-1zM175 913.05h1v6.66h-1zM175 946.33h1v6.66h-1zM176 174.23h1v6.66h-1zM176 234.14h1v13.31h-1zM176 380.57h1v6.66h-1zM176 553.62h1v6.66h-1zM176 626.84h1v6.66h-1zM176 653.46h1v6.66h-1zM176 726.68h1v6.66h-1zM176 813.21h1v6.66h-1zM176 853.14h1v6.66h-1zM176 946.33h1v6.66h-1zM177 87.7h1v6.66h-1zM177 114.33h1v6.66h-1zM177 200.86h1v13.31h-1zM177 234.14h1v6.66h-1zM177 254.1h1v6.66h-1zM177 267.42h1v6.66h-1zM177 307.35h1v6.66h-1zM177 340.63h1v13.31h-1zM177 380.57h1v6.66h-1zM177 400.54h1v13.31h-1zM177 453.78h1v6.66h-1zM177 507.03h1v13.31h-1zM177 586.9h1v6.66h-1zM177 626.84h1v13.31h-1zM177 660.12h1v6.66h-1zM177 686.74h1v6.66h-1zM177 826.52h1v6.66h-1zM177 866.46h1v6.66h-1zM177 886.42h1v6.66h-1zM177 899.74h1v6.66h-1zM177 913.05h1v6.66h-1zM177 939.67h1v13.31h-1zM177 972.95h1v6.66h-1zM178 387.22h1v6.66h-1zM178 447.13h1v6.66h-1zM178 520.34h1v6.66h-1zM178 733.34h1v6.66h-1zM178 933.02h1v6.66h-1zM179 81.05h1v6.66h-1zM179 134.3h1v6.66h-1zM179 234.14h1v13.31h-1zM179 254.1h1v6.66h-1zM179 267.42h1v6.66h-1zM179 433.82h1v13.31h-1zM179 453.78h1v6.66h-1zM179 487.06h1v6.66h-1zM179 553.62h1v6.66h-1zM179 586.9h1v6.66h-1zM179 633.5h1v6.66h-1zM179 646.81h1v13.31h-1zM179 686.74h1v6.66h-1zM179 700.06h1v6.66h-1zM179 713.37h1v6.66h-1zM179 739.99h1v6.66h-1zM179 793.24h1v6.66h-1zM179 826.52h1v26.62h-1zM179 859.8h1v6.66h-1zM179 899.74h1v6.66h-1zM179 913.05h1v13.31h-1zM179 933.02h1v13.31h-1zM179 959.64h1v6.66h-1zM179 972.95h1v6.66h-1zM180 160.92h1v6.66h-1zM180 307.35h1v6.66h-1zM180 420.5h1v6.66h-1zM180 700.06h1v6.66h-1zM180 766.62h1v6.66h-1zM180 806.55h1v6.66h-1zM181 447.13h1v6.66h-1zM181 500.38h1v6.66h-1zM181 726.68h1v6.66h-1zM181 813.21h1v6.66h-1zM182 546.97h1v6.66h-1zM183 300.7h1v13.31h-1zM183 333.98h1v6.66h-1zM183 347.29h1v6.66h-1zM183 433.82h1v6.66h-1zM183 487.06h1v6.66h-1zM183 507.03h1v6.66h-1zM183 626.84h1v6.66h-1zM183 693.4h1v6.66h-1zM183 766.62h1v6.66h-1zM183 793.24h1v6.66h-1zM183 919.7h1v6.66h-1zM183 946.33h1v6.66h-1zM183 959.64h1v6.66h-1zM183 972.95h1v6.66h-1zM184 200.86h1v6.66h-1zM184 307.35h1v6.66h-1zM184 380.57h1v13.31h-1zM184 433.82h1v13.31h-1zM184 487.06h1v6.66h-1zM184 513.69h1v6.66h-1zM184 646.81h1v6.66h-1zM184 680.09h1v6.66h-1zM184 693.4h1v6.66h-1zM184 713.37h1v6.66h-1zM184 733.34h1v6.66h-1zM184 746.65h1v6.66h-1zM184 806.55h1v6.66h-1zM184 819.86h1v6.66h-1zM184 873.11h1v6.66h-1zM184 933.02h1v6.66h-1zM184 972.95h1v6.66h-1zM185 134.3h1v6.66h-1zM185 220.82h1v6.66h-1zM185 234.14h1v6.66h-1zM185 347.29h1v6.66h-1zM185 393.88h1v6.66h-1zM185 447.13h1v6.66h-1zM185 487.06h1v6.66h-1zM185 553.62h1v6.66h-1zM185 626.84h1v6.66h-1zM185 726.68h1v6.66h-1zM185 793.24h1v6.66h-1zM185 806.55h1v6.66h-1zM185 826.52h1v6.66h-1zM185 839.83h1v13.31h-1zM185 873.11h1v6.66h-1zM185 886.42h1v6.66h-1zM185 946.33h1v6.66h-1zM186 127.64h1v6.66h-1zM186 154.26h1v6.66h-1zM186 214.17h1v6.66h-1zM186 240.79h1v6.66h-1zM186 294.04h1v6.66h-1zM186 307.35h1v6.66h-1zM186 320.66h1v19.97h-1zM186 380.57h1v6.66h-1zM186 420.5h1v6.66h-1zM186 440.47h1v6.66h-1zM186 553.62h1v6.66h-1zM186 633.5h1v6.66h-1zM186 693.4h1v13.31h-1zM186 726.68h1v6.66h-1zM186 753.3h1v13.31h-1zM186 779.93h1v6.66h-1zM186 806.55h1v6.66h-1zM186 839.83h1v19.97h-1zM186 873.11h1v33.28h-1zM186 926.36h1v6.66h-1zM186 952.98h1v6.66h-1zM186 972.95h1v6.66h-1zM187 154.26h1v6.66h-1zM187 294.04h1v6.66h-1zM187 633.5h1v6.66h-1zM187 766.62h1v6.66h-1zM187 833.18h1v6.66h-1zM187 952.98h1v6.66h-1zM188 180.89h1v6.66h-1zM188 220.82h1v6.66h-1zM188 267.42h1v6.66h-1zM188 314.01h1v6.66h-1zM188 333.98h1v6.66h-1zM188 393.88h1v6.66h-1zM188 407.19h1v6.66h-1zM188 440.47h1v6.66h-1zM188 546.97h1v6.66h-1zM188 586.9h1v6.66h-1zM188 626.84h1v6.66h-1zM188 759.96h1v6.66h-1zM188 786.58h1v13.31h-1zM188 826.52h1v13.31h-1zM188 899.74h1v6.66h-1zM188 959.64h1v6.66h-1zM188 972.95h1v6.66h-1zM189 307.35h1v6.66h-1zM189 393.88h1v6.66h-1zM189 407.19h1v6.66h-1zM190 294.04h1v6.66h-1zM190 340.63h1v6.66h-1zM190 400.54h1v13.31h-1zM190 626.84h1v6.66h-1zM190 739.99h1v6.66h-1zM190 753.3h1v6.66h-1zM190 826.52h1v6.66h-1zM190 839.83h1v6.66h-1zM190 899.74h1v6.66h-1zM191 127.64h1v6.66h-1zM191 267.42h1v6.66h-1zM191 400.54h1v6.66h-1zM191 500.38h1v6.66h-1zM191 520.34h1v6.66h-1zM191 613.53h1v6.66h-1zM191 653.46h1v13.31h-1zM191 700.06h1v6.66h-1zM191 753.3h1v6.66h-1zM191 893.08h1v13.31h-1zM191 919.7h1v13.31h-1zM192 267.42h1v6.66h-1zM192 300.7h1v6.66h-1zM192 520.34h1v6.66h-1zM192 633.5h1v6.66h-1zM192 893.08h1v6.66h-1zM192 952.98h1v6.66h-1zM193 81.05h1v13.31h-1zM193 107.67h1v6.66h-1zM193 207.51h1v6.66h-1zM193 234.14h1v13.31h-1zM193 254.1h1v6.66h-1zM193 280.73h1v6.66h-1zM193 307.35h1v6.66h-1zM193 333.98h1v6.66h-1zM193 373.91h1v13.31h-1zM193 500.38h1v6.66h-1zM193 553.62h1v6.66h-1zM193 626.84h1v6.66h-1zM193 653.46h1v6.66h-1zM193 686.74h1v6.66h-1zM193 726.68h1v13.31h-1zM193 753.3h1v6.66h-1zM193 779.93h1v6.66h-1zM193 826.52h1v19.97h-1zM193 879.77h1v13.31h-1zM193 913.05h1v6.66h-1zM193 926.36h1v13.31h-1zM193 946.33h1v6.66h-1zM193 972.95h1v6.66h-1zM194 240.79h1v6.66h-1zM194 267.42h1v6.66h-1zM194 294.04h1v6.66h-1zM194 320.66h1v6.66h-1zM194 340.63h1v6.66h-1zM194 400.54h1v13.31h-1zM194 507.03h1v6.66h-1zM194 653.46h1v13.31h-1zM194 693.4h1v6.66h-1zM194 726.68h1v6.66h-1zM194 759.96h1v6.66h-1zM194 799.9h1v6.66h-1zM194 813.21h1v6.66h-1zM194 826.52h1v13.31h-1zM194 893.08h1v6.66h-1zM194 933.02h1v6.66h-1zM195 87.7h1v6.66h-1zM195 154.26h1v6.66h-1zM195 220.82h1v6.66h-1zM195 234.14h1v13.31h-1zM195 280.73h1v6.66h-1zM195 320.66h1v19.97h-1zM195 420.5h1v6.66h-1zM195 433.82h1v6.66h-1zM195 500.38h1v13.31h-1zM195 553.62h1v6.66h-1zM195 633.5h1v6.66h-1zM195 720.02h1v6.66h-1zM195 753.3h1v6.66h-1zM195 786.58h1v13.31h-1zM195 826.52h1v6.66h-1zM195 839.83h1v13.31h-1zM195 939.67h1v13.31h-1zM195 972.95h1v6.66h-1zM196 333.98h1v6.66h-1zM196 653.46h1v6.66h-1zM196 826.52h1v6.66h-1zM197 101.02h1v6.66h-1zM197 227.48h1v6.66h-1zM197 240.79h1v6.66h-1zM197 300.7h1v6.66h-1zM197 320.66h1v6.66h-1zM197 340.63h1v6.66h-1zM197 373.91h1v6.66h-1zM197 407.19h1v13.31h-1zM197 500.38h1v6.66h-1zM197 513.69h1v13.31h-1zM197 646.81h1v26.62h-1zM197 693.4h1v6.66h-1zM197 713.37h1v6.66h-1zM197 726.68h1v13.31h-1zM197 753.3h1v6.66h-1zM197 786.58h1v6.66h-1zM197 906.39h1v13.31h-1zM198 120.98h1v6.66h-1zM198 214.17h1v6.66h-1zM198 294.04h1v6.66h-1zM198 440.47h1v6.66h-1zM198 513.69h1v6.66h-1zM198 626.84h1v6.66h-1zM198 739.99h1v6.66h-1zM198 759.96h1v6.66h-1zM198 826.52h1v13.31h-1zM198 899.74h1v6.66h-1zM198 913.05h1v6.66h-1zM198 926.36h1v6.66h-1zM199 120.98h1v6.66h-1zM199 214.17h1v6.66h-1zM199 240.79h1v6.66h-1zM199 314.01h1v6.66h-1zM199 400.54h1v13.31h-1zM199 440.47h1v6.66h-1zM199 453.78h1v6.66h-1zM199 473.75h1v6.66h-1zM199 646.81h1v6.66h-1zM199 660.12h1v6.66h-1zM199 826.52h1v13.31h-1zM199 899.74h1v6.66h-1zM199 959.64h1v6.66h-1zM199 972.95h1v6.66h-1zM200 407.19h1v6.66h-1zM200 873.11h1v6.66h-1zM200 899.74h1v6.66h-1zM200 946.33h1v6.66h-1zM200 972.95h1v6.66h-1zM201 81.05h1v6.66h-1zM201 101.02h1v6.66h-1zM201 134.3h1v6.66h-1zM201 194.2h1v6.66h-1zM201 207.51h1v6.66h-1zM201 234.14h1v13.31h-1zM201 254.1h1v6.66h-1zM201 314.01h1v6.66h-1zM201 333.98h1v6.66h-1zM201 347.29h1v6.66h-1zM201 387.22h1v6.66h-1zM201 400.54h1v6.66h-1zM201 433.82h1v13.31h-1zM201 453.78h1v6.66h-1zM201 520.34h1v6.66h-1zM201 586.9h1v6.66h-1zM201 653.46h1v19.97h-1zM201 686.74h1v6.66h-1zM201 739.99h1v6.66h-1zM201 759.96h1v6.66h-1zM201 779.93h1v13.31h-1zM201 799.9h1v6.66h-1zM201 846.49h1v6.66h-1zM201 873.11h1v6.66h-1zM201 893.08h1v6.66h-1zM201 906.39h1v6.66h-1zM201 919.7h1v13.31h-1zM201 972.95h1v6.66h-1zM202 267.42h1v6.66h-1zM202 846.49h1v6.66h-1zM202 959.64h1v6.66h-1zM203 240.79h1v6.66h-1zM203 393.88h1v6.66h-1zM203 553.62h1v6.66h-1zM203 726.68h1v6.66h-1zM203 919.7h1v6.66h-1zM204 160.92h1v6.66h-1zM204 194.2h1v19.97h-1zM204 240.79h1v6.66h-1zM204 267.42h1v6.66h-1zM204 294.04h1v6.66h-1zM204 333.98h1v13.31h-1zM204 380.57h1v6.66h-1zM204 400.54h1v6.66h-1zM204 440.47h1v6.66h-1zM204 487.06h1v6.66h-1zM204 500.38h1v13.31h-1zM204 520.34h1v6.66h-1zM204 553.62h1v6.66h-1zM204 606.87h1v6.66h-1zM204 620.18h1v19.97h-1zM204 646.81h1v13.31h-1zM204 666.78h1v6.66h-1zM204 693.4h1v6.66h-1zM204 726.68h1v13.31h-1zM204 759.96h1v6.66h-1zM204 773.27h1v6.66h-1zM204 793.24h1v13.31h-1zM204 846.49h1v6.66h-1zM204 873.11h1v6.66h-1zM204 899.74h1v6.66h-1zM204 926.36h1v13.31h-1zM204 972.95h1v6.66h-1zM205 227.48h1v6.66h-1zM205 314.01h1v6.66h-1zM205 333.98h1v6.66h-1zM205 380.57h1v6.66h-1zM205 500.38h1v6.66h-1zM205 620.18h1v6.66h-1zM205 680.09h1v6.66h-1zM205 733.34h1v6.66h-1zM205 746.65h1v6.66h-1zM205 799.9h1v6.66h-1zM205 839.83h1v6.66h-1zM205 946.33h1v13.31h-1zM206 307.35h1v6.66h-1zM206 340.63h1v6.66h-1zM206 380.57h1v6.66h-1zM206 793.24h1v6.66h-1zM206 873.11h1v6.66h-1zM206 952.98h1v6.66h-1zM206 966.3h1v6.66h-1zM207 507.03h1v6.66h-1zM208 280.73h1v6.66h-1zM208 314.01h1v13.31h-1zM208 600.22h1v6.66h-1zM208 660.12h1v6.66h-1zM208 700.06h1v6.66h-1zM208 720.02h1v6.66h-1zM208 826.52h1v6.66h-1zM208 959.64h1v6.66h-1zM209 101.02h1v6.66h-1zM209 234.14h1v6.66h-1zM209 300.7h1v26.62h-1zM209 333.98h1v6.66h-1zM209 380.57h1v6.66h-1zM209 407.19h1v6.66h-1zM209 433.82h1v6.66h-1zM209 507.03h1v19.97h-1zM209 653.46h1v6.66h-1zM209 686.74h1v19.97h-1zM209 713.37h1v6.66h-1zM209 739.99h1v13.31h-1zM209 759.96h1v13.31h-1zM209 793.24h1v6.66h-1zM209 826.52h1v6.66h-1zM209 846.49h1v6.66h-1zM209 859.8h1v6.66h-1zM209 873.11h1v6.66h-1zM209 899.74h1v6.66h-1zM209 913.05h1v6.66h-1zM209 926.36h1v6.66h-1zM209 946.33h1v6.66h-1zM209 972.95h1v6.66h-1zM210 81.05h1v6.66h-1zM210 107.67h1v13.31h-1zM210 127.64h1v6.66h-1zM210 174.23h1v6.66h-1zM210 194.2h1v13.31h-1zM210 214.17h1v13.31h-1zM210 234.14h1v13.31h-1zM210 254.1h1v6.66h-1zM210 267.42h1v6.66h-1zM210 280.73h1v6.66h-1zM210 294.04h1v6.66h-1zM210 314.01h1v39.94h-1zM210 380.57h1v6.66h-1zM210 393.88h1v13.31h-1zM210 413.85h1v6.66h-1zM210 453.78h1v6.66h-1zM210 487.06h1v6.66h-1zM210 513.69h1v6.66h-1zM210 546.97h1v13.31h-1zM210 586.9h1v6.66h-1zM210 620.18h1v19.97h-1zM210 653.46h1v13.31h-1zM210 680.09h1v6.66h-1zM210 693.4h1v13.31h-1zM210 713.37h1v6.66h-1zM210 726.68h1v13.31h-1zM210 746.65h1v6.66h-1zM210 759.96h1v19.97h-1zM210 799.9h1v26.62h-1zM210 853.14h1v6.66h-1zM210 866.46h1v13.31h-1zM210 886.42h1v6.66h-1zM210 906.39h1v6.66h-1zM210 933.02h1v6.66h-1zM210 952.98h1v6.66h-1zM210 972.95h1v6.66h-1zM211 340.63h1v6.66h-1zM211 393.88h1v6.66h-1zM211 433.82h1v13.31h-1zM211 507.03h1v6.66h-1zM211 693.4h1v6.66h-1zM211 726.68h1v6.66h-1zM211 759.96h1v6.66h-1zM212 114.33h1v6.66h-1zM212 167.58h1v6.66h-1zM212 240.79h1v6.66h-1zM212 320.66h1v6.66h-1zM212 507.03h1v6.66h-1zM212 739.99h1v6.66h-1zM212 839.83h1v6.66h-1zM212 853.14h1v6.66h-1zM213 81.05h1v6.66h-1zM213 254.1h1v6.66h-1zM213 387.22h1v6.66h-1zM213 447.13h1v6.66h-1zM213 473.75h1v6.66h-1zM213 487.06h1v6.66h-1zM213 507.03h1v6.66h-1zM213 546.97h1v6.66h-1zM213 633.5h1v6.66h-1zM213 653.46h1v6.66h-1zM213 726.68h1v6.66h-1zM213 759.96h1v6.66h-1zM213 806.55h1v6.66h-1zM213 893.08h1v6.66h-1zM214 646.81h1v6.66h-1zM214 700.06h1v6.66h-1zM214 726.68h1v6.66h-1zM214 746.65h1v6.66h-1zM214 799.9h1v6.66h-1zM214 926.36h1v6.66h-1zM215 220.82h1v6.66h-1zM215 333.98h1v6.66h-1zM215 407.19h1v6.66h-1zM215 447.13h1v6.66h-1zM215 779.93h1v13.31h-1zM215 846.49h1v6.66h-1zM215 886.42h1v6.66h-1zM215 899.74h1v6.66h-1zM215 952.98h1v6.66h-1zM216 280.73h1v6.66h-1zM216 440.47h1v6.66h-1zM216 507.03h1v6.66h-1zM216 646.81h1v6.66h-1zM216 739.99h1v6.66h-1zM216 899.74h1v6.66h-1zM217 101.02h1v6.66h-1zM217 154.26h1v6.66h-1zM217 300.7h1v6.66h-1zM217 320.66h1v6.66h-1zM217 340.63h1v6.66h-1zM217 400.54h1v6.66h-1zM217 447.13h1v6.66h-1zM217 487.06h1v6.66h-1zM217 500.38h1v13.31h-1zM217 546.97h1v13.31h-1zM217 620.18h1v6.66h-1zM217 633.5h1v6.66h-1zM217 646.81h1v6.66h-1zM217 686.74h1v19.97h-1zM217 759.96h1v6.66h-1zM217 839.83h1v13.31h-1zM217 873.11h1v6.66h-1zM217 899.74h1v6.66h-1zM217 913.05h1v6.66h-1zM217 926.36h1v13.31h-1zM217 946.33h1v6.66h-1zM218 234.14h1v6.66h-1zM218 380.57h1v6.66h-1zM218 500.38h1v6.66h-1zM218 520.34h1v6.66h-1zM218 546.97h1v6.66h-1zM218 613.53h1v6.66h-1zM218 626.84h1v6.66h-1zM218 653.46h1v6.66h-1zM218 793.24h1v6.66h-1zM218 879.77h1v6.66h-1zM218 939.67h1v6.66h-1zM219 160.92h1v6.66h-1zM219 320.66h1v6.66h-1zM219 407.19h1v6.66h-1zM219 546.97h1v13.31h-1zM219 833.18h1v6.66h-1zM219 913.05h1v6.66h-1zM220 167.58h1v6.66h-1zM220 240.79h1v6.66h-1zM220 254.1h1v6.66h-1zM220 314.01h1v6.66h-1zM220 333.98h1v6.66h-1zM220 373.91h1v13.31h-1zM220 393.88h1v13.31h-1zM220 453.78h1v6.66h-1zM220 513.69h1v6.66h-1zM220 546.97h1v6.66h-1zM220 620.18h1v13.31h-1zM220 646.81h1v6.66h-1zM220 700.06h1v6.66h-1zM220 746.65h1v6.66h-1zM220 786.58h1v6.66h-1zM220 806.55h1v6.66h-1zM220 833.18h1v13.31h-1zM220 853.14h1v13.31h-1zM220 933.02h1v6.66h-1zM220 972.95h1v6.66h-1zM221 786.58h1v6.66h-1zM222 134.3h1v6.66h-1zM222 314.01h1v6.66h-1zM222 380.57h1v6.66h-1zM222 520.34h1v6.66h-1zM222 693.4h1v13.31h-1zM222 713.37h1v6.66h-1zM222 726.68h1v6.66h-1zM222 746.65h1v19.97h-1zM222 773.27h1v6.66h-1zM222 786.58h1v6.66h-1zM222 806.55h1v6.66h-1zM222 873.11h1v6.66h-1zM222 899.74h1v6.66h-1zM222 939.67h1v6.66h-1zM223 886.42h1v6.66h-1zM224 120.98h1v6.66h-1zM224 187.54h1v6.66h-1zM224 267.42h1v6.66h-1zM224 779.93h1v6.66h-1zM224 826.52h1v6.66h-1zM224 873.11h1v6.66h-1zM225 180.89h1v6.66h-1zM225 207.51h1v6.66h-1zM225 240.79h1v6.66h-1zM225 387.22h1v6.66h-1zM225 400.54h1v6.66h-1zM225 500.38h1v13.31h-1zM225 586.9h1v6.66h-1zM225 626.84h1v6.66h-1zM225 693.4h1v6.66h-1zM225 713.37h1v6.66h-1zM225 726.68h1v6.66h-1zM225 739.99h1v13.31h-1zM225 766.62h1v6.66h-1zM225 806.55h1v6.66h-1zM225 886.42h1v13.31h-1zM225 913.05h1v13.31h-1zM226 187.54h1v6.66h-1zM226 220.82h1v6.66h-1zM226 254.1h1v6.66h-1zM226 280.73h1v6.66h-1zM226 333.98h1v13.31h-1zM226 380.57h1v6.66h-1zM226 407.19h1v6.66h-1zM226 447.13h1v6.66h-1zM226 487.06h1v6.66h-1zM226 507.03h1v6.66h-1zM226 520.34h1v6.66h-1zM226 546.97h1v6.66h-1zM226 633.5h1v6.66h-1zM226 660.12h1v6.66h-1zM226 693.4h1v6.66h-1zM226 713.37h1v6.66h-1zM226 739.99h1v13.31h-1zM226 759.96h1v6.66h-1zM226 786.58h1v13.31h-1zM226 826.52h1v19.97h-1zM226 873.11h1v13.31h-1zM226 893.08h1v13.31h-1zM226 913.05h1v13.31h-1zM226 933.02h1v6.66h-1zM226 952.98h1v6.66h-1zM226 972.95h1v6.66h-1zM227 147.61h1v6.66h-1zM227 200.86h1v6.66h-1zM227 267.42h1v6.66h-1zM227 333.98h1v6.66h-1zM227 413.85h1v13.31h-1zM227 553.62h1v6.66h-1zM227 693.4h1v6.66h-1zM227 720.02h1v13.31h-1zM227 759.96h1v6.66h-1zM227 786.58h1v6.66h-1zM227 846.49h1v6.66h-1zM227 906.39h1v6.66h-1zM227 919.7h1v6.66h-1zM227 972.95h1v6.66h-1zM228 433.82h1v6.66h-1zM228 686.74h1v6.66h-1zM228 952.98h1v6.66h-1zM229 340.63h1v6.66h-1zM229 407.19h1v6.66h-1zM229 500.38h1v6.66h-1zM229 520.34h1v6.66h-1zM229 746.65h1v13.31h-1zM229 786.58h1v6.66h-1zM229 866.46h1v6.66h-1zM230 134.3h1v6.66h-1zM230 234.14h1v13.31h-1zM230 254.1h1v6.66h-1zM230 320.66h1v13.31h-1zM230 473.75h1v6.66h-1zM230 500.38h1v13.31h-1zM230 520.34h1v6.66h-1zM230 633.5h1v6.66h-1zM230 653.46h1v6.66h-1zM230 746.65h1v19.97h-1zM230 813.21h1v6.66h-1zM230 833.18h1v6.66h-1zM230 879.77h1v6.66h-1zM230 939.67h1v13.31h-1zM231 174.23h1v6.66h-1zM231 207.51h1v6.66h-1zM231 240.79h1v6.66h-1zM231 320.66h1v6.66h-1zM231 387.22h1v13.31h-1zM231 793.24h1v6.66h-1zM232 174.23h1v6.66h-1zM232 393.88h1v6.66h-1zM232 487.06h1v6.66h-1zM232 500.38h1v6.66h-1zM232 586.9h1v6.66h-1zM232 666.78h1v6.66h-1zM232 720.02h1v6.66h-1zM232 733.34h1v6.66h-1zM232 813.21h1v6.66h-1zM232 833.18h1v6.66h-1zM232 873.11h1v6.66h-1zM232 913.05h1v6.66h-1zM232 933.02h1v6.66h-1zM233 254.1h1v6.66h-1zM233 387.22h1v6.66h-1zM233 826.52h1v6.66h-1zM233 939.67h1v6.66h-1zM234 873.11h1v6.66h-1zM235 373.91h1v6.66h-1zM235 553.62h1v6.66h-1zM235 613.53h1v6.66h-1zM236 340.63h1v13.31h-1zM236 507.03h1v6.66h-1zM236 586.9h1v6.66h-1zM236 726.68h1v6.66h-1zM236 753.3h1v6.66h-1zM236 773.27h1v6.66h-1zM236 846.49h1v6.66h-1zM236 933.02h1v6.66h-1zM236 946.33h1v6.66h-1zM237 187.54h1v6.66h-1zM237 886.42h1v6.66h-1zM238 140.95h1v6.66h-1zM238 167.58h1v6.66h-1zM238 553.62h1v6.66h-1zM238 626.84h1v6.66h-1zM238 799.9h1v6.66h-1zM238 972.95h1v6.66h-1zM239 160.92h1v6.66h-1zM239 227.48h1v6.66h-1zM239 380.57h1v6.66h-1zM239 520.34h1v6.66h-1zM239 786.58h1v6.66h-1zM239 833.18h1v6.66h-1zM239 952.98h1v6.66h-1zM239 972.95h1v6.66h-1zM240 240.79h1v6.66h-1zM240 407.19h1v6.66h-1zM240 453.78h1v6.66h-1zM240 666.78h1v6.66h-1zM240 686.74h1v6.66h-1zM240 713.37h1v6.66h-1zM240 793.24h1v6.66h-1zM240 833.18h1v6.66h-1zM240 899.74h1v6.66h-1zM241 294.04h1v6.66h-1zM241 440.47h1v6.66h-1zM241 626.84h1v13.31h-1zM241 766.62h1v6.66h-1zM241 846.49h1v6.66h-1zM241 859.8h1v6.66h-1zM242 227.48h1v6.66h-1zM242 254.1h1v6.66h-1zM242 307.35h1v6.66h-1zM242 380.57h1v6.66h-1zM242 453.78h1v6.66h-1zM242 507.03h1v6.66h-1zM242 520.34h1v6.66h-1zM242 546.97h1v6.66h-1zM242 620.18h1v6.66h-1zM242 660.12h1v6.66h-1zM242 700.06h1v6.66h-1zM242 726.68h1v6.66h-1zM242 746.65h1v6.66h-1zM242 786.58h1v13.31h-1zM242 873.11h1v6.66h-1zM242 906.39h1v6.66h-1zM242 919.7h1v6.66h-1zM242 946.33h1v6.66h-1zM242 972.95h1v6.66h-1zM243 267.42h1v6.66h-1zM243 387.22h1v6.66h-1zM243 946.33h1v6.66h-1zM244 234.14h1v6.66h-1zM244 314.01h1v6.66h-1zM244 387.22h1v6.66h-1zM244 407.19h1v6.66h-1zM244 440.47h1v13.31h-1zM244 473.75h1v6.66h-1zM244 500.38h1v6.66h-1zM244 513.69h1v13.31h-1zM244 586.9h1v6.66h-1zM244 666.78h1v6.66h-1zM244 686.74h1v6.66h-1zM244 793.24h1v13.31h-1zM244 826.52h1v6.66h-1zM244 853.14h1v6.66h-1zM244 919.7h1v6.66h-1zM245 280.73h1v6.66h-1zM245 300.7h1v6.66h-1zM245 626.84h1v6.66h-1zM245 806.55h1v6.66h-1zM246 267.42h1v6.66h-1zM246 314.01h1v6.66h-1zM246 327.32h1v13.31h-1zM246 380.57h1v26.62h-1zM246 626.84h1v6.66h-1zM246 653.46h1v6.66h-1zM246 693.4h1v6.66h-1zM246 726.68h1v13.31h-1zM246 759.96h1v6.66h-1zM246 813.21h1v6.66h-1zM247 314.01h1v6.66h-1zM247 440.47h1v13.31h-1zM247 473.75h1v6.66h-1zM247 520.34h1v6.66h-1zM247 626.84h1v6.66h-1zM247 686.74h1v6.66h-1zM247 746.65h1v6.66h-1zM247 793.24h1v6.66h-1zM247 806.55h1v6.66h-1zM247 859.8h1v6.66h-1zM247 906.39h1v6.66h-1zM247 972.95h1v6.66h-1zM248 254.1h1v6.66h-1zM248 387.22h1v13.31h-1zM248 473.75h1v6.66h-1zM248 546.97h1v6.66h-1zM248 759.96h1v6.66h-1zM248 959.64h1v6.66h-1zM249 387.22h1v6.66h-1zM249 646.81h1v6.66h-1zM249 739.99h1v6.66h-1zM249 886.42h1v6.66h-1zM250 400.54h1v6.66h-1zM250 633.5h1v6.66h-1zM250 646.81h1v13.31h-1zM250 726.68h1v6.66h-1zM250 799.9h1v6.66h-1zM250 813.21h1v6.66h-1zM250 873.11h1v6.66h-1zM250 919.7h1v6.66h-1zM250 946.33h1v6.66h-1zM251 280.73h1v6.66h-1zM251 966.3h1v6.66h-1zM252 187.54h1v6.66h-1zM252 207.51h1v6.66h-1zM252 254.1h1v6.66h-1zM252 314.01h1v13.31h-1zM252 340.63h1v6.66h-1zM252 407.19h1v6.66h-1zM252 433.82h1v13.31h-1zM252 487.06h1v6.66h-1zM252 507.03h1v6.66h-1zM252 520.34h1v6.66h-1zM252 546.97h1v6.66h-1zM252 600.22h1v13.31h-1zM252 633.5h1v6.66h-1zM252 646.81h1v6.66h-1zM252 660.12h1v13.31h-1zM252 746.65h1v6.66h-1zM252 773.27h1v6.66h-1zM252 806.55h1v6.66h-1zM252 846.49h1v6.66h-1zM252 873.11h1v6.66h-1zM252 886.42h1v6.66h-1zM252 919.7h1v6.66h-1zM252 933.02h1v6.66h-1zM253 420.5h1v6.66h-1zM253 440.47h1v6.66h-1zM253 646.81h1v6.66h-1zM253 680.09h1v19.97h-1zM253 859.8h1v6.66h-1zM254 487.06h1v6.66h-1zM254 553.62h1v6.66h-1zM254 586.9h1v6.66h-1zM254 633.5h1v6.66h-1zM254 759.96h1v6.66h-1zM254 833.18h1v6.66h-1zM255 307.35h1v6.66h-1zM255 440.47h1v6.66h-1zM255 520.34h1v6.66h-1zM255 746.65h1v6.66h-1zM255 859.8h1v6.66h-1zM255 893.08h1v6.66h-1zM256 267.42h1v6.66h-1zM256 320.66h1v6.66h-1zM256 413.85h1v6.66h-1zM256 520.34h1v6.66h-1zM256 839.83h1v6.66h-1zM256 933.02h1v6.66h-1z"/><path fill="#b89a7a" fill-opacity="0.38" d="M143 353.94h1v6.66h-1zM144 353.94h1v6.66h-1zM144 467.1h1v6.66h-1zM144 560.28h1v6.66h-1zM144 580.25h1v6.66h-1zM144 640.15h1v6.66h-1zM145 533.66h1v6.66h-1zM145 580.25h1v6.66h-1zM146 527h1v6.66h-1zM147 367.26h1v6.66h-1zM147 427.16h1v6.66h-1zM148 367.26h1v6.66h-1zM148 467.1h1v6.66h-1zM148 527h1v13.31h-1zM150 427.16h1v6.66h-1zM152 94.36h1v6.66h-1zM152 493.72h1v6.66h-1zM152 560.28h1v6.66h-1zM152 640.15h1v6.66h-1zM153 427.16h1v6.66h-1zM153 533.66h1v6.66h-1zM155 94.36h1v6.66h-1zM156 353.94h1v6.66h-1zM157 94.36h1v6.66h-1zM158 94.36h1v6.66h-1zM158 353.94h1v6.66h-1zM158 427.16h1v6.66h-1zM158 493.72h1v6.66h-1zM158 527h1v13.31h-1zM161 360.6h1v13.31h-1zM161 527h1v6.66h-1zM162 353.94h1v6.66h-1zM162 527h1v6.66h-1zM163 640.15h1v6.66h-1zM165 493.72h1v6.66h-1zM166 527h1v13.31h-1zM166 580.25h1v6.66h-1zM172 94.36h1v6.66h-1zM172 560.28h1v6.66h-1zM172 580.25h1v6.66h-1zM172 640.15h1v6.66h-1zM173 527h1v6.66h-1zM174 427.16h1v6.66h-1zM174 527h1v6.66h-1zM175 353.94h1v6.66h-1zM175 580.25h1v6.66h-1zM177 427.16h1v6.66h-1zM177 533.66h1v6.66h-1zM177 640.15h1v6.66h-1zM179 467.1h1v6.66h-1zM179 533.66h1v6.66h-1zM179 560.28h1v6.66h-1zM180 527h1v6.66h-1zM181 427.16h1v6.66h-1zM182 580.25h1v6.66h-1zM185 427.16h1v6.66h-1zM186 94.36h1v6.66h-1zM186 427.16h1v6.66h-1zM186 560.28h1v6.66h-1zM187 560.28h1v6.66h-1zM188 360.6h1v6.66h-1zM188 533.66h1v6.66h-1zM190 580.25h1v6.66h-1zM191 353.94h1v6.66h-1zM191 427.16h1v6.66h-1zM191 580.25h1v6.66h-1zM191 640.15h1v6.66h-1zM192 353.94h1v6.66h-1zM192 467.1h1v6.66h-1zM193 467.1h1v6.66h-1zM193 527h1v6.66h-1zM193 580.25h1v6.66h-1zM194 353.94h1v6.66h-1zM195 367.26h1v6.66h-1zM195 467.1h1v6.66h-1zM195 527h1v6.66h-1zM195 560.28h1v6.66h-1zM197 94.36h1v6.66h-1zM197 367.26h1v6.66h-1zM198 94.36h1v6.66h-1zM198 353.94h1v6.66h-1zM199 94.36h1v6.66h-1zM199 580.25h1v6.66h-1zM203 467.1h1v6.66h-1zM203 493.72h1v6.66h-1zM203 640.15h1v6.66h-1zM204 580.25h1v6.66h-1zM208 527h1v6.66h-1zM210 527h1v13.31h-1zM213 353.94h1v6.66h-1zM213 367.26h1v6.66h-1zM213 560.28h1v6.66h-1zM217 360.6h1v6.66h-1zM217 580.25h1v6.66h-1zM218 467.1h1v6.66h-1zM219 467.1h1v6.66h-1zM220 353.94h1v6.66h-1zM222 427.16h1v6.66h-1zM226 427.16h1v6.66h-1zM226 467.1h1v6.66h-1zM226 493.72h1v6.66h-1zM226 533.66h1v6.66h-1zM226 640.15h1v6.66h-1zM227 427.16h1v6.66h-1zM227 560.28h1v6.66h-1zM229 493.72h1v6.66h-1zM230 580.25h1v6.66h-1zM231 560.28h1v6.66h-1zM232 360.6h1v6.66h-1zM232 467.1h1v6.66h-1zM236 360.6h1v13.31h-1zM241 467.1h1v6.66h-1zM242 353.94h1v6.66h-1zM244 427.16h1v6.66h-1zM244 580.25h1v6.66h-1zM248 367.26h1v6.66h-1zM252 427.16h1v6.66h-1zM252 560.28h1v6.66h-1zM253 353.94h1v13.31h-1zM253 427.16h1v6.66h-1zM254 367.26h1v6.66h-1z"/><path fill="#c8906e" fill-opacity="0.38" d="M143 367.26h1v6.66h-1zM143 640.15h1v6.66h-1zM144 94.36h1v6.66h-1zM144 527h1v6.66h-1zM145 360.6h1v13.31h-1zM145 527h1v6.66h-1zM145 640.15h1v6.66h-1zM146 94.36h1v6.66h-1zM146 353.94h1v6.66h-1zM147 353.94h1v6.66h-1zM147 467.1h1v6.66h-1zM147 640.15h1v6.66h-1zM148 580.25h1v6.66h-1zM148 640.15h1v6.66h-1zM149 427.16h1v6.66h-1zM150 94.36h1v6.66h-1zM150 467.1h1v6.66h-1zM150 560.28h1v6.66h-1zM151 527h1v13.31h-1zM152 367.26h1v6.66h-1zM152 427.16h1v6.66h-1zM152 580.25h1v6.66h-1zM153 467.1h1v6.66h-1zM155 527h1v6.66h-1zM156 560.28h1v6.66h-1zM157 360.6h1v6.66h-1zM157 427.16h1v6.66h-1zM157 467.1h1v6.66h-1zM157 493.72h1v6.66h-1zM157 560.28h1v6.66h-1zM158 560.28h1v6.66h-1zM158 580.25h1v6.66h-1zM160 640.15h1v6.66h-1zM161 94.36h1v6.66h-1zM161 533.66h1v6.66h-1zM161 640.15h1v6.66h-1zM162 94.36h1v6.66h-1zM162 467.1h1v6.66h-1zM162 533.66h1v6.66h-1zM165 367.26h1v6.66h-1zM166 367.26h1v6.66h-1zM166 560.28h1v6.66h-1zM166 640.15h1v6.66h-1zM167 94.36h1v6.66h-1zM167 360.6h1v6.66h-1zM167 427.16h1v6.66h-1zM167 467.1h1v6.66h-1zM167 493.72h1v6.66h-1zM167 580.25h1v6.66h-1zM167 640.15h1v6.66h-1zM168 353.94h1v6.66h-1zM168 467.1h1v6.66h-1zM169 467.1h1v6.66h-1zM169 527h1v6.66h-1zM170 580.25h1v6.66h-1zM171 427.16h1v6.66h-1zM172 353.94h1v6.66h-1zM172 467.1h1v6.66h-1zM173 94.36h1v6.66h-1zM176 353.94h1v6.66h-1zM178 367.26h1v6.66h-1zM179 94.36h1v6.66h-1zM179 353.94h1v13.31h-1zM179 493.72h1v6.66h-1zM179 527h1v6.66h-1zM180 580.25h1v6.66h-1zM184 360.6h1v6.66h-1zM184 467.1h1v6.66h-1zM184 640.15h1v6.66h-1zM185 94.36h1v6.66h-1zM186 353.94h1v6.66h-1zM186 493.72h1v6.66h-1zM186 580.25h1v6.66h-1zM186 640.15h1v6.66h-1zM187 94.36h1v6.66h-1zM187 353.94h1v6.66h-1zM187 640.15h1v6.66h-1zM188 353.94h1v6.66h-1zM188 427.16h1v6.66h-1zM188 580.25h1v6.66h-1zM188 640.15h1v6.66h-1zM190 427.16h1v6.66h-1zM190 467.1h1v6.66h-1zM192 367.26h1v6.66h-1zM192 533.66h1v6.66h-1zM193 353.94h1v6.66h-1zM193 367.26h1v6.66h-1zM195 353.94h1v6.66h-1zM195 427.16h1v6.66h-1zM195 533.66h1v6.66h-1zM195 640.15h1v6.66h-1zM196 640.15h1v6.66h-1zM197 580.25h1v6.66h-1zM198 640.15h1v6.66h-1zM199 493.72h1v6.66h-1zM200 353.94h1v6.66h-1zM200 493.72h1v6.66h-1zM201 427.16h1v6.66h-1zM204 467.1h1v6.66h-1zM204 493.72h1v6.66h-1zM204 560.28h1v6.66h-1zM205 467.1h1v6.66h-1zM206 94.36h1v6.66h-1zM209 533.66h1v6.66h-1zM211 353.94h1v6.66h-1zM213 94.36h1v6.66h-1zM213 427.16h1v6.66h-1zM213 533.66h1v6.66h-1zM215 367.26h1v6.66h-1zM216 353.94h1v6.66h-1zM217 94.36h1v6.66h-1zM217 367.26h1v6.66h-1zM219 353.94h1v6.66h-1zM220 427.16h1v6.66h-1zM221 467.1h1v6.66h-1zM222 640.15h1v6.66h-1zM225 427.16h1v6.66h-1zM226 360.6h1v6.66h-1zM226 560.28h1v6.66h-1zM227 353.94h1v6.66h-1zM229 427.16h1v6.66h-1zM239 580.25h1v6.66h-1zM240 467.1h1v6.66h-1zM240 560.28h1v6.66h-1zM242 427.16h1v6.66h-1zM242 467.1h1v6.66h-1zM242 533.66h1v6.66h-1zM242 560.28h1v6.66h-1zM243 493.72h1v6.66h-1zM246 467.1h1v6.66h-1zM246 560.28h1v6.66h-1zM246 580.25h1v6.66h-1zM247 427.16h1v6.66h-1zM247 640.15h1v6.66h-1zM250 467.1h1v6.66h-1zM252 353.94h1v6.66h-1zM252 493.72h1v6.66h-1zM253 640.15h1v6.66h-1zM254 527h1v6.66h-1z"/><path fill="#b0886a" fill-opacity="0.4" d="M143 460.44h1v6.66h-1zM144 287.38h1v6.66h-1zM144 460.44h1v6.66h-1zM144 540.31h1v6.66h-1zM145 274.07h1v6.66h-1zM145 287.38h1v6.66h-1zM146 460.44h1v6.66h-1zM147 260.76h1v6.66h-1zM147 540.31h1v6.66h-1zM148 260.76h1v6.66h-1zM150 274.07h1v6.66h-1zM150 540.31h1v6.66h-1zM152 74.39h1v6.66h-1zM152 274.07h1v6.66h-1zM153 247.45h1v6.66h-1zM153 274.07h1v6.66h-1zM153 540.31h1v6.66h-1zM154 247.45h1v6.66h-1zM154 274.07h1v6.66h-1zM157 274.07h1v6.66h-1zM157 460.44h1v6.66h-1zM158 260.76h1v6.66h-1zM158 287.38h1v6.66h-1zM160 74.39h1v6.66h-1zM160 247.45h1v6.66h-1zM161 247.45h1v6.66h-1zM161 540.31h1v6.66h-1zM162 274.07h1v6.66h-1zM162 460.44h1v6.66h-1zM163 274.07h1v6.66h-1zM164 74.39h1v6.66h-1zM164 274.07h1v6.66h-1zM165 74.39h1v6.66h-1zM165 260.76h1v6.66h-1zM166 247.45h1v6.66h-1zM166 274.07h1v6.66h-1zM166 460.44h1v6.66h-1zM167 74.39h1v6.66h-1zM167 260.76h1v6.66h-1zM167 274.07h1v6.66h-1zM168 460.44h1v6.66h-1zM172 540.31h1v6.66h-1zM173 460.44h1v6.66h-1zM177 74.39h1v6.66h-1zM178 260.76h1v6.66h-1zM179 247.45h1v6.66h-1zM179 540.31h1v6.66h-1zM181 74.39h1v6.66h-1zM181 460.44h1v6.66h-1zM182 287.38h1v6.66h-1zM182 540.31h1v6.66h-1zM183 260.76h1v6.66h-1zM184 287.38h1v6.66h-1zM186 287.38h1v6.66h-1zM188 274.07h1v6.66h-1zM191 247.45h1v6.66h-1zM192 260.76h1v6.66h-1zM193 74.39h1v6.66h-1zM193 247.45h1v6.66h-1zM194 260.76h1v6.66h-1zM195 247.45h1v6.66h-1zM197 247.45h1v6.66h-1zM197 260.76h1v6.66h-1zM198 260.76h1v6.66h-1zM198 460.44h1v6.66h-1zM199 74.39h1v6.66h-1zM199 287.38h1v6.66h-1zM200 247.45h1v6.66h-1zM201 260.76h1v6.66h-1zM201 274.07h1v6.66h-1zM201 460.44h1v6.66h-1zM204 260.76h1v6.66h-1zM204 540.31h1v6.66h-1zM205 274.07h1v6.66h-1zM206 260.76h1v6.66h-1zM209 260.76h1v6.66h-1zM209 287.38h1v6.66h-1zM209 460.44h1v6.66h-1zM211 247.45h1v6.66h-1zM211 260.76h1v6.66h-1zM211 274.07h1v6.66h-1zM212 274.07h1v6.66h-1zM213 260.76h1v6.66h-1zM214 460.44h1v6.66h-1zM217 274.07h1v6.66h-1zM217 287.38h1v6.66h-1zM226 460.44h1v6.66h-1zM229 247.45h1v6.66h-1zM230 247.45h1v6.66h-1zM230 540.31h1v6.66h-1zM231 260.76h1v6.66h-1zM232 260.76h1v6.66h-1zM240 247.45h1v6.66h-1zM241 460.44h1v6.66h-1zM242 260.76h1v6.66h-1zM242 460.44h1v6.66h-1zM244 274.07h1v6.66h-1zM246 460.44h1v6.66h-1zM249 460.44h1v6.66h-1zM253 247.45h1v6.66h-1zM253 460.44h1v6.66h-1zM254 247.45h1v6.66h-1z"/><path fill="#a89a70" fill-opacity="0.42" d="M143 480.41h1v6.66h-1zM143 573.59h1v6.66h-1zM146 706.71h1v6.66h-1zM148 573.59h1v6.66h-1zM148 673.43h1v6.66h-1zM151 673.43h1v6.66h-1zM152 706.71h1v6.66h-1zM153 566.94h1v6.66h-1zM153 673.43h1v6.66h-1zM153 706.71h1v6.66h-1zM154 673.43h1v6.66h-1zM156 566.94h1v6.66h-1zM156 706.71h1v6.66h-1zM157 480.41h1v6.66h-1zM157 566.94h1v6.66h-1zM158 673.43h1v6.66h-1zM158 706.71h1v6.66h-1zM159 573.59h1v6.66h-1zM161 480.41h1v6.66h-1zM161 573.59h1v6.66h-1zM161 673.43h1v6.66h-1zM162 573.59h1v6.66h-1zM162 706.71h1v6.66h-1zM166 573.59h1v6.66h-1zM166 673.43h1v6.66h-1zM166 706.71h1v6.66h-1zM167 566.94h1v6.66h-1zM167 673.43h1v6.66h-1zM167 706.71h1v6.66h-1zM168 573.59h1v6.66h-1zM169 673.43h1v6.66h-1zM170 566.94h1v6.66h-1zM172 566.94h1v6.66h-1zM174 673.43h1v6.66h-1zM175 673.43h1v6.66h-1zM177 706.71h1v6.66h-1zM180 673.43h1v6.66h-1zM183 480.41h1v6.66h-1zM183 566.94h1v6.66h-1zM185 566.94h1v6.66h-1zM187 673.43h1v6.66h-1zM193 480.41h1v6.66h-1zM193 706.71h1v6.66h-1zM194 566.94h1v6.66h-1zM194 706.71h1v6.66h-1zM195 480.41h1v6.66h-1zM195 706.71h1v6.66h-1zM196 673.43h1v6.66h-1zM197 480.41h1v6.66h-1zM197 566.94h1v6.66h-1zM198 480.41h1v6.66h-1zM198 566.94h1v6.66h-1zM199 480.41h1v6.66h-1zM199 566.94h1v6.66h-1zM200 480.41h1v6.66h-1zM201 480.41h1v6.66h-1zM201 673.43h1v6.66h-1zM204 566.94h1v6.66h-1zM204 673.43h1v6.66h-1zM206 566.94h1v6.66h-1zM207 573.59h1v6.66h-1zM208 566.94h1v6.66h-1zM208 673.43h1v6.66h-1zM210 480.41h1v6.66h-1zM214 706.71h1v6.66h-1zM215 573.59h1v6.66h-1zM217 573.59h1v6.66h-1zM217 706.71h1v6.66h-1zM218 566.94h1v6.66h-1zM220 573.59h1v6.66h-1zM223 706.71h1v6.66h-1zM225 573.59h1v6.66h-1zM226 480.41h1v6.66h-1zM226 573.59h1v6.66h-1zM227 566.94h1v6.66h-1zM231 573.59h1v6.66h-1zM235 573.59h1v6.66h-1zM239 480.41h1v6.66h-1zM239 566.94h1v6.66h-1zM241 480.41h1v6.66h-1zM242 566.94h1v6.66h-1zM247 573.59h1v6.66h-1zM248 480.41h1v6.66h-1zM249 480.41h1v6.66h-1zM252 480.41h1v6.66h-1zM252 573.59h1v6.66h-1zM252 673.43h1v6.66h-1z"/><path fill="#b87858" fill-opacity="0.4" d="M143 540.31h1v6.66h-1zM144 247.45h1v6.66h-1zM145 460.44h1v6.66h-1zM145 540.31h1v6.66h-1zM146 274.07h1v6.66h-1zM148 74.39h1v6.66h-1zM148 274.07h1v6.66h-1zM148 287.38h1v6.66h-1zM148 460.44h1v6.66h-1zM149 260.76h1v6.66h-1zM150 260.76h1v6.66h-1zM151 247.45h1v6.66h-1zM151 260.76h1v6.66h-1zM153 460.44h1v6.66h-1zM154 287.38h1v6.66h-1zM156 274.07h1v6.66h-1zM157 287.38h1v6.66h-1zM157 540.31h1v6.66h-1zM158 274.07h1v6.66h-1zM158 460.44h1v6.66h-1zM158 540.31h1v6.66h-1zM161 460.44h1v6.66h-1zM162 540.31h1v6.66h-1zM163 247.45h1v6.66h-1zM165 247.45h1v6.66h-1zM165 287.38h1v6.66h-1zM168 274.07h1v6.66h-1zM168 287.38h1v6.66h-1zM172 260.76h1v6.66h-1zM173 260.76h1v6.66h-1zM175 74.39h1v6.66h-1zM175 247.45h1v6.66h-1zM177 540.31h1v6.66h-1zM179 274.07h1v6.66h-1zM181 247.45h1v6.66h-1zM182 247.45h1v6.66h-1zM183 460.44h1v6.66h-1zM183 540.31h1v6.66h-1zM184 260.76h1v6.66h-1zM184 274.07h1v6.66h-1zM184 460.44h1v6.66h-1zM185 74.39h1v6.66h-1zM185 247.45h1v6.66h-1zM185 540.31h1v6.66h-1zM186 247.45h1v6.66h-1zM186 260.76h1v6.66h-1zM187 287.38h1v6.66h-1zM188 287.38h1v6.66h-1zM188 540.31h1v6.66h-1zM189 247.45h1v6.66h-1zM191 260.76h1v6.66h-1zM191 540.31h1v6.66h-1zM192 274.07h1v6.66h-1zM193 274.07h1v6.66h-1zM194 74.39h1v6.66h-1zM195 274.07h1v6.66h-1zM195 540.31h1v6.66h-1zM197 460.44h1v6.66h-1zM198 247.45h1v6.66h-1zM198 287.38h1v6.66h-1zM199 540.31h1v6.66h-1zM201 247.45h1v6.66h-1zM203 74.39h1v6.66h-1zM209 247.45h1v6.66h-1zM209 274.07h1v6.66h-1zM214 247.45h1v6.66h-1zM215 74.39h1v6.66h-1zM217 247.45h1v6.66h-1zM217 460.44h1v6.66h-1zM217 540.31h1v6.66h-1zM218 260.76h1v6.66h-1zM218 540.31h1v6.66h-1zM219 274.07h1v6.66h-1zM219 287.38h1v6.66h-1zM220 274.07h1v6.66h-1zM220 287.38h1v6.66h-1zM221 260.76h1v6.66h-1zM221 274.07h1v6.66h-1zM222 247.45h1v6.66h-1zM222 274.07h1v6.66h-1zM222 540.31h1v6.66h-1zM223 260.76h1v6.66h-1zM227 274.07h1v6.66h-1zM227 287.38h1v6.66h-1zM229 260.76h1v6.66h-1zM230 287.38h1v6.66h-1zM230 460.44h1v6.66h-1zM233 460.44h1v6.66h-1zM234 274.07h1v6.66h-1zM236 287.38h1v6.66h-1zM239 260.76h1v6.66h-1zM239 460.44h1v6.66h-1zM242 287.38h1v6.66h-1zM244 247.45h1v6.66h-1zM247 540.31h1v6.66h-1zM248 287.38h1v6.66h-1zM250 247.45h1v6.66h-1zM250 274.07h1v6.66h-1zM252 540.31h1v6.66h-1z"/><path fill="#c8a884" fill-opacity="0.42" d="M143 673.43h1v6.66h-1zM144 566.94h1v6.66h-1zM144 673.43h1v6.66h-1zM144 706.71h1v6.66h-1zM147 480.41h1v6.66h-1zM147 573.59h1v6.66h-1zM148 706.71h1v6.66h-1zM149 480.41h1v6.66h-1zM149 573.59h1v6.66h-1zM150 566.94h1v6.66h-1zM151 566.94h1v6.66h-1zM152 480.41h1v6.66h-1zM157 573.59h1v6.66h-1zM157 673.43h1v6.66h-1zM158 480.41h1v6.66h-1zM158 566.94h1v13.31h-1zM159 480.41h1v6.66h-1zM159 566.94h1v6.66h-1zM163 480.41h1v6.66h-1zM163 566.94h1v6.66h-1zM165 566.94h1v6.66h-1zM166 566.94h1v6.66h-1zM172 480.41h1v6.66h-1zM172 673.43h1v6.66h-1zM172 706.71h1v6.66h-1zM175 706.71h1v6.66h-1zM176 673.43h1v6.66h-1zM177 480.41h1v6.66h-1zM177 566.94h1v6.66h-1zM177 673.43h1v6.66h-1zM178 673.43h1v6.66h-1zM179 573.59h1v6.66h-1zM179 673.43h1v6.66h-1zM179 706.71h1v6.66h-1zM184 480.41h1v6.66h-1zM184 573.59h1v6.66h-1zM184 673.43h1v6.66h-1zM185 573.59h1v6.66h-1zM186 480.41h1v6.66h-1zM186 573.59h1v6.66h-1zM187 573.59h1v6.66h-1zM187 706.71h1v6.66h-1zM188 573.59h1v6.66h-1zM189 573.59h1v6.66h-1zM191 673.43h1v6.66h-1zM193 573.59h1v6.66h-1zM193 673.43h1v6.66h-1zM195 573.59h1v6.66h-1zM195 673.43h1v6.66h-1zM197 573.59h1v6.66h-1zM197 706.71h1v6.66h-1zM198 673.43h1v6.66h-1zM201 573.59h1v6.66h-1zM203 480.41h1v6.66h-1zM203 706.71h1v6.66h-1zM204 706.71h1v6.66h-1zM209 573.59h1v6.66h-1zM209 673.43h1v6.66h-1zM210 573.59h1v6.66h-1zM210 673.43h1v6.66h-1zM211 566.94h1v6.66h-1zM213 480.41h1v6.66h-1zM213 673.43h1v6.66h-1zM217 673.43h1v6.66h-1zM222 480.41h1v6.66h-1zM226 673.43h1v6.66h-1zM226 706.71h1v6.66h-1zM229 673.43h1v6.66h-1zM231 673.43h1v6.66h-1zM232 673.43h1v6.66h-1zM233 566.94h1v6.66h-1zM237 566.94h1v6.66h-1zM237 673.43h1v6.66h-1zM239 673.43h1v6.66h-1zM240 566.94h1v6.66h-1zM242 480.41h1v6.66h-1zM244 673.43h1v6.66h-1zM250 673.43h1v6.66h-1zM252 706.71h1v6.66h-1z"/><path fill="#caa892" fill-opacity="0.25" d="M143 686.74h1v13.31h-1zM143 926.36h1v13.31h-1zM144 34.46h1v13.31h-1zM144 54.42h1v6.66h-1zM144 327.32h1v13.31h-1zM144 487.06h1v6.66h-1zM144 593.56h1v6.66h-1zM144 759.96h1v6.66h-1zM145 586.9h1v6.66h-1zM145 633.5h1v6.66h-1zM145 653.46h1v6.66h-1zM147 101.02h1v6.66h-1zM147 194.2h1v6.66h-1zM147 333.98h1v6.66h-1zM147 487.06h1v6.66h-1zM147 507.03h1v6.66h-1zM147 666.78h1v6.66h-1zM147 786.58h1v6.66h-1zM147 939.67h1v13.31h-1zM148 187.54h1v6.66h-1zM148 300.7h1v6.66h-1zM148 513.69h1v6.66h-1zM148 726.68h1v6.66h-1zM148 759.96h1v6.66h-1zM148 799.9h1v6.66h-1zM148 859.8h1v6.66h-1zM150 67.74h1v6.66h-1zM150 187.54h1v6.66h-1zM151 400.54h1v6.66h-1zM152 67.74h1v6.66h-1zM152 234.14h1v6.66h-1zM152 314.01h1v19.97h-1zM152 387.22h1v6.66h-1zM152 520.34h1v6.66h-1zM152 626.84h1v6.66h-1zM152 693.4h1v6.66h-1zM152 813.21h1v6.66h-1zM152 859.8h1v6.66h-1zM152 899.74h1v6.66h-1zM153 333.98h1v6.66h-1zM153 420.5h1v6.66h-1zM153 440.47h1v6.66h-1zM153 520.34h1v6.66h-1zM153 646.81h1v6.66h-1zM153 746.65h1v6.66h-1zM153 806.55h1v6.66h-1zM153 839.83h1v6.66h-1zM154 194.2h1v6.66h-1zM154 646.81h1v6.66h-1zM154 926.36h1v6.66h-1zM155 972.95h1v6.66h-1zM156 267.42h1v6.66h-1zM156 666.78h1v6.66h-1zM156 746.65h1v6.66h-1zM156 766.62h1v6.66h-1zM156 906.39h1v6.66h-1zM156 946.33h1v6.66h-1zM157 380.57h1v6.66h-1zM157 853.14h1v6.66h-1zM157 873.11h1v6.66h-1zM158 47.77h1v6.66h-1zM158 114.33h1v6.66h-1zM158 134.3h1v19.97h-1zM158 180.89h1v6.66h-1zM158 234.14h1v6.66h-1zM158 314.01h1v6.66h-1zM158 400.54h1v6.66h-1zM158 500.38h1v6.66h-1zM158 693.4h1v6.66h-1zM158 746.65h1v6.66h-1zM158 886.42h1v13.31h-1zM158 919.7h1v6.66h-1zM159 340.63h1v6.66h-1zM159 393.88h1v6.66h-1zM159 653.46h1v6.66h-1zM159 893.08h1v6.66h-1zM159 913.05h1v6.66h-1zM160 314.01h1v6.66h-1zM160 906.39h1v6.66h-1zM161 54.42h1v6.66h-1zM161 107.67h1v6.66h-1zM161 254.1h1v6.66h-1zM161 267.42h1v6.66h-1zM161 373.91h1v6.66h-1zM161 407.19h1v6.66h-1zM161 433.82h1v6.66h-1zM161 546.97h1v6.66h-1zM161 606.87h1v6.66h-1zM161 626.84h1v13.31h-1zM161 660.12h1v6.66h-1zM161 726.68h1v6.66h-1zM161 746.65h1v6.66h-1zM161 766.62h1v6.66h-1zM161 959.64h1v6.66h-1zM162 87.7h1v6.66h-1zM162 114.33h1v6.66h-1zM162 147.61h1v6.66h-1zM162 267.42h1v6.66h-1zM162 513.69h1v6.66h-1zM162 546.97h1v6.66h-1zM162 666.78h1v6.66h-1zM162 739.99h1v6.66h-1zM162 793.24h1v6.66h-1zM162 813.21h1v6.66h-1zM162 839.83h1v13.31h-1zM162 886.42h1v6.66h-1zM162 946.33h1v6.66h-1zM162 972.95h1v6.66h-1zM163 54.42h1v6.66h-1zM163 826.52h1v6.66h-1zM163 946.33h1v6.66h-1zM164 87.7h1v6.66h-1zM164 333.98h1v6.66h-1zM164 853.14h1v6.66h-1zM165 400.54h1v6.66h-1zM165 553.62h1v6.66h-1zM166 134.3h1v6.66h-1zM166 453.78h1v6.66h-1zM166 553.62h1v6.66h-1zM166 620.18h1v13.31h-1zM166 726.68h1v6.66h-1zM167 140.95h1v6.66h-1zM167 234.14h1v6.66h-1zM167 294.04h1v6.66h-1zM167 407.19h1v6.66h-1zM167 420.5h1v6.66h-1zM167 473.75h1v6.66h-1zM167 500.38h1v13.31h-1zM167 733.34h1v6.66h-1zM168 693.4h1v6.66h-1zM169 140.95h1v6.66h-1zM169 420.5h1v6.66h-1zM170 340.63h1v6.66h-1zM170 653.46h1v6.66h-1zM170 886.42h1v6.66h-1zM171 180.89h1v6.66h-1zM172 200.86h1v6.66h-1zM172 407.19h1v6.66h-1zM172 553.62h1v6.66h-1zM172 693.4h1v6.66h-1zM172 839.83h1v6.66h-1zM172 886.42h1v6.66h-1zM172 913.05h1v6.66h-1zM173 320.66h1v6.66h-1zM174 200.86h1v6.66h-1zM174 586.9h1v6.66h-1zM174 833.18h1v6.66h-1zM175 200.86h1v6.66h-1zM175 267.42h1v6.66h-1zM175 500.38h1v6.66h-1zM175 700.06h1v6.66h-1zM175 739.99h1v6.66h-1zM175 859.8h1v6.66h-1zM175 972.95h1v6.66h-1zM176 340.63h1v6.66h-1zM176 972.95h1v6.66h-1zM177 67.74h1v6.66h-1zM178 140.95h1v6.66h-1zM178 187.54h1v6.66h-1zM178 294.04h1v6.66h-1zM178 500.38h1v6.66h-1zM178 686.74h1v6.66h-1zM179 154.26h1v6.66h-1zM179 626.84h1v6.66h-1zM179 906.39h1v6.66h-1zM180 373.91h1v6.66h-1zM180 746.65h1v6.66h-1zM180 759.96h1v6.66h-1zM180 972.95h1v6.66h-1zM181 340.63h1v6.66h-1zM181 913.05h1v6.66h-1zM182 393.88h1v6.66h-1zM182 513.69h1v6.66h-1zM182 933.02h1v6.66h-1zM183 194.2h1v6.66h-1zM183 254.1h1v6.66h-1zM183 327.32h1v6.66h-1zM183 400.54h1v6.66h-1zM183 726.68h1v13.31h-1zM183 899.74h1v6.66h-1zM183 913.05h1v6.66h-1zM184 280.73h1v6.66h-1zM184 340.63h1v6.66h-1zM184 660.12h1v6.66h-1zM184 846.49h1v6.66h-1zM185 240.79h1v6.66h-1zM185 926.36h1v6.66h-1zM186 81.05h1v6.66h-1zM186 200.86h1v6.66h-1zM186 254.1h1v6.66h-1zM186 433.82h1v6.66h-1zM186 646.81h1v13.31h-1zM186 666.78h1v6.66h-1zM186 746.65h1v6.66h-1zM186 919.7h1v6.66h-1zM187 234.14h1v6.66h-1zM187 307.35h1v6.66h-1zM187 893.08h1v6.66h-1zM188 713.37h1v6.66h-1zM188 806.55h1v6.66h-1zM188 846.49h1v6.66h-1zM188 933.02h1v6.66h-1zM190 666.78h1v6.66h-1zM190 693.4h1v6.66h-1zM191 234.14h1v6.66h-1zM191 340.63h1v6.66h-1zM191 373.91h1v6.66h-1zM191 393.88h1v6.66h-1zM191 886.42h1v6.66h-1zM192 586.9h1v6.66h-1zM192 686.74h1v6.66h-1zM192 919.7h1v6.66h-1zM193 101.02h1v6.66h-1zM193 227.48h1v6.66h-1zM193 660.12h1v6.66h-1zM193 713.37h1v6.66h-1zM193 739.99h1v6.66h-1zM193 866.46h1v6.66h-1zM193 899.74h1v6.66h-1zM194 234.14h1v6.66h-1zM194 413.85h1v6.66h-1zM194 633.5h1v6.66h-1zM194 793.24h1v6.66h-1zM194 899.74h1v6.66h-1zM195 81.05h1v6.66h-1zM195 300.7h1v6.66h-1zM195 393.88h1v6.66h-1zM195 626.84h1v6.66h-1zM195 653.46h1v6.66h-1zM195 726.68h1v6.66h-1zM195 893.08h1v13.31h-1zM195 926.36h1v6.66h-1zM196 254.1h1v6.66h-1zM196 267.42h1v6.66h-1zM197 167.58h1v6.66h-1zM197 180.89h1v6.66h-1zM197 220.82h1v6.66h-1zM197 267.42h1v6.66h-1zM197 314.01h1v6.66h-1zM197 380.57h1v6.66h-1zM197 433.82h1v6.66h-1zM197 620.18h1v19.97h-1zM197 720.02h1v6.66h-1zM197 739.99h1v6.66h-1zM197 806.55h1v6.66h-1zM197 846.49h1v6.66h-1zM197 886.42h1v6.66h-1zM197 926.36h1v6.66h-1zM197 952.98h1v6.66h-1zM197 972.95h1v6.66h-1zM198 380.57h1v6.66h-1zM198 420.5h1v6.66h-1zM198 447.13h1v6.66h-1zM198 500.38h1v13.31h-1zM198 793.24h1v6.66h-1zM198 806.55h1v6.66h-1zM198 839.83h1v6.66h-1zM198 859.8h1v6.66h-1zM198 873.11h1v6.66h-1zM198 933.02h1v6.66h-1zM199 380.57h1v6.66h-1zM199 859.8h1v6.66h-1zM199 946.33h1v6.66h-1zM200 120.98h1v6.66h-1zM200 447.13h1v6.66h-1zM200 713.37h1v6.66h-1zM200 846.49h1v6.66h-1zM201 87.7h1v6.66h-1zM201 646.81h1v6.66h-1zM201 700.06h1v6.66h-1zM201 753.3h1v6.66h-1zM201 939.67h1v6.66h-1zM202 200.86h1v6.66h-1zM202 633.5h1v6.66h-1zM203 546.97h1v6.66h-1zM203 620.18h1v6.66h-1zM203 700.06h1v6.66h-1zM204 81.05h1v6.66h-1zM204 307.35h1v6.66h-1zM204 786.58h1v6.66h-1zM204 806.55h1v6.66h-1zM204 826.52h1v6.66h-1zM205 447.13h1v6.66h-1zM205 713.37h1v6.66h-1zM205 933.02h1v6.66h-1zM207 387.22h1v6.66h-1zM207 786.58h1v6.66h-1zM208 380.57h1v6.66h-1zM208 713.37h1v6.66h-1zM208 746.65h1v6.66h-1zM208 793.24h1v6.66h-1zM208 899.74h1v6.66h-1zM209 180.89h1v6.66h-1zM209 500.38h1v6.66h-1zM209 646.81h1v6.66h-1zM209 806.55h1v6.66h-1zM210 147.61h1v6.66h-1zM210 180.89h1v6.66h-1zM210 407.19h1v6.66h-1zM210 447.13h1v6.66h-1zM210 826.52h1v6.66h-1zM210 913.05h1v6.66h-1zM211 180.89h1v6.66h-1zM211 926.36h1v6.66h-1zM213 400.54h1v6.66h-1zM213 786.58h1v6.66h-1zM214 200.86h1v6.66h-1zM214 240.79h1v6.66h-1zM214 713.37h1v6.66h-1zM214 913.05h1v6.66h-1zM215 680.09h1v6.66h-1zM216 400.54h1v6.66h-1zM216 713.37h1v6.66h-1zM216 726.68h1v6.66h-1zM216 933.02h1v13.31h-1zM217 240.79h1v6.66h-1zM217 433.82h1v6.66h-1zM217 473.75h1v6.66h-1zM217 746.65h1v6.66h-1zM217 806.55h1v6.66h-1zM217 826.52h1v13.31h-1zM217 972.95h1v6.66h-1zM218 373.91h1v6.66h-1zM218 553.62h1v6.66h-1zM218 593.56h1v6.66h-1zM218 839.83h1v6.66h-1zM218 899.74h1v6.66h-1zM218 946.33h1v6.66h-1zM218 972.95h1v6.66h-1zM220 320.66h1v6.66h-1zM220 387.22h1v6.66h-1zM220 440.47h1v6.66h-1zM220 507.03h1v6.66h-1zM220 653.46h1v6.66h-1zM220 826.52h1v6.66h-1zM220 873.11h1v6.66h-1zM220 946.33h1v6.66h-1zM221 174.23h1v6.66h-1zM222 267.42h1v6.66h-1zM222 720.02h1v6.66h-1zM222 739.99h1v6.66h-1zM222 833.18h1v6.66h-1zM223 507.03h1v6.66h-1zM224 340.63h1v6.66h-1zM224 413.85h1v6.66h-1zM225 254.1h1v6.66h-1zM225 280.73h1v6.66h-1zM225 340.63h1v6.66h-1zM225 813.21h1v6.66h-1zM225 846.49h1v6.66h-1zM225 873.11h1v6.66h-1zM226 320.66h1v6.66h-1zM226 440.47h1v6.66h-1zM226 653.46h1v6.66h-1zM227 447.13h1v6.66h-1zM227 507.03h1v6.66h-1zM227 873.11h1v6.66h-1zM229 333.98h1v6.66h-1zM230 114.33h1v6.66h-1zM230 154.26h1v6.66h-1zM230 487.06h1v6.66h-1zM230 899.74h1v6.66h-1zM231 340.63h1v6.66h-1zM231 400.54h1v6.66h-1zM231 686.74h1v6.66h-1zM231 899.74h1v6.66h-1zM232 214.17h1v6.66h-1zM232 300.7h1v6.66h-1zM232 340.63h1v6.66h-1zM233 154.26h1v6.66h-1zM233 746.65h1v6.66h-1zM234 806.55h1v6.66h-1zM235 926.36h1v6.66h-1zM236 487.06h1v6.66h-1zM236 626.84h1v6.66h-1zM236 839.83h1v6.66h-1zM237 660.12h1v6.66h-1zM238 300.7h1v6.66h-1zM238 393.88h1v6.66h-1zM238 793.24h1v6.66h-1zM238 839.83h1v6.66h-1zM239 407.19h1v6.66h-1zM239 420.5h1v6.66h-1zM241 280.73h1v6.66h-1zM241 660.12h1v6.66h-1zM241 680.09h1v6.66h-1zM242 267.42h1v6.66h-1zM242 314.01h1v6.66h-1zM242 447.13h1v6.66h-1zM242 593.56h1v6.66h-1zM242 759.96h1v6.66h-1zM242 833.18h1v6.66h-1zM242 913.05h1v6.66h-1zM244 893.08h1v6.66h-1zM244 972.95h1v6.66h-1zM246 294.04h1v6.66h-1zM246 307.35h1v6.66h-1zM246 893.08h1v6.66h-1zM246 946.33h1v6.66h-1zM248 447.13h1v6.66h-1zM249 254.1h1v6.66h-1zM249 373.91h1v6.66h-1zM249 693.4h1v6.66h-1zM249 873.11h1v6.66h-1zM249 906.39h1v6.66h-1zM250 327.32h1v6.66h-1zM250 340.63h1v6.66h-1zM250 387.22h1v6.66h-1zM252 214.17h1v6.66h-1zM252 240.79h1v6.66h-1zM252 333.98h1v6.66h-1zM252 447.13h1v6.66h-1zM252 720.02h1v6.66h-1zM252 753.3h1v13.31h-1zM252 906.39h1v6.66h-1zM252 959.64h1v6.66h-1zM253 593.56h1v6.66h-1zM255 613.53h1v6.66h-1zM256 373.91h1v6.66h-1zM256 859.8h1v6.66h-1z"/><path fill="#c8805e" fill-opacity="0.4" d="M144 74.39h1v6.66h-1zM144 274.07h1v6.66h-1zM146 260.76h1v6.66h-1zM147 274.07h1v6.66h-1zM147 287.38h1v6.66h-1zM147 460.44h1v6.66h-1zM148 247.45h1v6.66h-1zM149 74.39h1v6.66h-1zM153 260.76h1v6.66h-1zM153 287.38h1v6.66h-1zM154 74.39h1v6.66h-1zM155 460.44h1v6.66h-1zM156 287.38h1v6.66h-1zM157 247.45h1v6.66h-1zM157 260.76h1v6.66h-1zM159 287.38h1v6.66h-1zM161 260.76h1v6.66h-1zM161 287.38h1v6.66h-1zM162 260.76h1v6.66h-1zM162 287.38h1v6.66h-1zM166 260.76h1v6.66h-1zM166 287.38h1v6.66h-1zM167 287.38h1v6.66h-1zM167 460.44h1v6.66h-1zM167 540.31h1v6.66h-1zM169 274.07h1v6.66h-1zM169 287.38h1v6.66h-1zM170 74.39h1v6.66h-1zM172 274.07h1v6.66h-1zM172 460.44h1v6.66h-1zM174 274.07h1v6.66h-1zM174 460.44h1v6.66h-1zM175 260.76h1v6.66h-1zM177 247.45h1v6.66h-1zM177 460.44h1v6.66h-1zM178 74.39h1v6.66h-1zM179 260.76h1v6.66h-1zM179 460.44h1v6.66h-1zM182 460.44h1v6.66h-1zM183 287.38h1v6.66h-1zM184 74.39h1v6.66h-1zM184 247.45h1v6.66h-1zM185 460.44h1v6.66h-1zM186 540.31h1v6.66h-1zM187 247.45h1v6.66h-1zM187 260.76h1v6.66h-1zM189 460.44h1v6.66h-1zM190 260.76h1v6.66h-1zM193 460.44h1v6.66h-1zM194 247.45h1v6.66h-1zM194 460.44h1v6.66h-1zM194 540.31h1v6.66h-1zM195 74.39h1v6.66h-1zM195 287.38h1v6.66h-1zM195 460.44h1v6.66h-1zM197 74.39h1v6.66h-1zM199 247.45h1v6.66h-1zM199 260.76h1v6.66h-1zM199 460.44h1v6.66h-1zM201 287.38h1v6.66h-1zM202 540.31h1v6.66h-1zM203 540.31h1v6.66h-1zM204 274.07h1v6.66h-1zM208 74.39h1v6.66h-1zM208 460.44h1v6.66h-1zM210 260.76h1v6.66h-1zM212 460.44h1v6.66h-1zM218 247.45h1v6.66h-1zM222 260.76h1v6.66h-1zM222 287.38h1v6.66h-1zM226 247.45h1v6.66h-1zM226 540.31h1v6.66h-1zM228 274.07h1v6.66h-1zM230 260.76h1v6.66h-1zM231 247.45h1v6.66h-1zM231 460.44h1v6.66h-1zM232 540.31h1v6.66h-1zM238 287.38h1v6.66h-1zM240 540.31h1v6.66h-1zM246 287.38h1v6.66h-1zM247 287.38h1v6.66h-1zM249 540.31h1v6.66h-1zM252 274.07h1v6.66h-1zM252 287.38h1v6.66h-1zM254 260.76h1v6.66h-1zM255 287.38h1v6.66h-1zM256 247.45h1v6.66h-1z"/><path fill="#e2a2a0" fill-opacity="0.25" d="M144 307.35h1v6.66h-1zM144 393.88h1v6.66h-1zM144 453.78h1v6.66h-1zM145 54.42h1v6.66h-1zM145 413.85h1v6.66h-1zM145 833.18h1v6.66h-1zM146 207.51h1v6.66h-1zM147 34.46h1v6.66h-1zM147 626.84h1v6.66h-1zM148 254.1h1v6.66h-1zM148 520.34h1v6.66h-1zM148 553.62h1v6.66h-1zM148 739.99h1v6.66h-1zM148 919.7h1v6.66h-1zM149 646.81h1v6.66h-1zM150 826.52h1v6.66h-1zM150 939.67h1v6.66h-1zM153 507.03h1v6.66h-1zM153 626.84h1v6.66h-1zM153 759.96h1v6.66h-1zM153 833.18h1v6.66h-1zM153 859.8h1v6.66h-1zM155 340.63h1v6.66h-1zM155 759.96h1v6.66h-1zM156 693.4h1v6.66h-1zM158 54.42h1v6.66h-1zM158 240.79h1v6.66h-1zM158 254.1h1v6.66h-1zM158 440.47h1v6.66h-1zM158 586.9h1v6.66h-1zM158 959.64h1v6.66h-1zM159 487.06h1v6.66h-1zM159 759.96h1v6.66h-1zM159 846.49h1v6.66h-1zM161 47.77h1v6.66h-1zM161 140.95h1v6.66h-1zM161 227.48h1v6.66h-1zM161 294.04h1v6.66h-1zM161 307.35h1v13.31h-1zM161 413.85h1v6.66h-1zM161 513.69h1v6.66h-1zM161 720.02h1v6.66h-1zM161 813.21h1v6.66h-1zM161 853.14h1v6.66h-1zM161 886.42h1v6.66h-1zM161 919.7h1v6.66h-1zM162 47.77h1v6.66h-1zM162 160.92h1v6.66h-1zM162 433.82h1v6.66h-1zM162 899.74h1v6.66h-1zM165 393.88h1v6.66h-1zM165 826.52h1v6.66h-1zM166 54.42h1v6.66h-1zM166 107.67h1v6.66h-1zM166 899.74h1v6.66h-1zM166 972.95h1v6.66h-1zM167 160.92h1v6.66h-1zM167 327.32h1v6.66h-1zM167 633.5h1v6.66h-1zM167 946.33h1v6.66h-1zM167 972.95h1v6.66h-1zM169 726.68h1v6.66h-1zM169 786.58h1v6.66h-1zM172 254.1h1v6.66h-1zM172 440.47h1v6.66h-1zM172 793.24h1v6.66h-1zM172 833.18h1v6.66h-1zM173 926.36h1v6.66h-1zM173 939.67h1v6.66h-1zM174 507.03h1v6.66h-1zM174 939.67h1v6.66h-1zM174 972.95h1v6.66h-1zM175 327.32h1v6.66h-1zM175 487.06h1v6.66h-1zM175 507.03h1v6.66h-1zM175 826.52h1v6.66h-1zM176 320.66h1v6.66h-1zM176 420.5h1v6.66h-1zM176 700.06h1v6.66h-1zM177 746.65h1v6.66h-1zM179 333.98h1v6.66h-1zM179 520.34h1v6.66h-1zM179 666.78h1v6.66h-1zM180 600.22h1v6.66h-1zM180 946.33h1v6.66h-1zM183 227.48h1v6.66h-1zM183 520.34h1v6.66h-1zM183 660.12h1v13.31h-1zM183 813.21h1v6.66h-1zM183 926.36h1v6.66h-1zM184 81.05h1v6.66h-1zM184 300.7h1v6.66h-1zM184 893.08h1v6.66h-1zM185 267.42h1v6.66h-1zM186 507.03h1v6.66h-1zM186 686.74h1v6.66h-1zM186 786.58h1v13.31h-1zM186 826.52h1v6.66h-1zM187 666.78h1v6.66h-1zM187 813.21h1v6.66h-1zM188 666.78h1v6.66h-1zM188 859.8h1v6.66h-1zM188 893.08h1v6.66h-1zM188 946.33h1v6.66h-1zM193 180.89h1v6.66h-1zM193 646.81h1v6.66h-1zM194 101.02h1v6.66h-1zM194 227.48h1v6.66h-1zM194 387.22h1v6.66h-1zM195 101.02h1v6.66h-1zM195 400.54h1v6.66h-1zM195 759.96h1v6.66h-1zM196 307.35h1v6.66h-1zM196 739.99h1v6.66h-1zM197 420.5h1v6.66h-1zM197 919.7h1v6.66h-1zM197 966.3h1v6.66h-1zM198 227.48h1v6.66h-1zM198 407.19h1v6.66h-1zM198 586.9h1v6.66h-1zM198 633.5h1v6.66h-1zM198 660.12h1v6.66h-1zM198 786.58h1v6.66h-1zM198 813.21h1v6.66h-1zM198 886.42h1v6.66h-1zM199 693.4h1v6.66h-1zM201 107.67h1v6.66h-1zM201 327.32h1v6.66h-1zM201 853.14h1v6.66h-1zM204 101.02h1v6.66h-1zM204 546.97h1v6.66h-1zM204 700.06h1v6.66h-1zM204 833.18h1v6.66h-1zM205 400.54h1v6.66h-1zM205 766.62h1v6.66h-1zM207 320.66h1v6.66h-1zM209 400.54h1v6.66h-1zM209 440.47h1v6.66h-1zM209 919.7h1v6.66h-1zM209 959.64h1v6.66h-1zM210 300.7h1v6.66h-1zM210 440.47h1v6.66h-1zM210 473.75h1v6.66h-1zM210 753.3h1v6.66h-1zM210 786.58h1v6.66h-1zM211 267.42h1v6.66h-1zM213 127.64h1v6.66h-1zM213 440.47h1v6.66h-1zM213 733.34h1v6.66h-1zM213 813.21h1v6.66h-1zM213 826.52h1v6.66h-1zM213 839.83h1v6.66h-1zM214 347.29h1v6.66h-1zM214 786.58h1v6.66h-1zM214 919.7h1v6.66h-1zM216 926.36h1v6.66h-1zM217 333.98h1v6.66h-1zM217 387.22h1v6.66h-1zM217 653.46h1v6.66h-1zM217 793.24h1v6.66h-1zM218 693.4h1v6.66h-1zM218 720.02h1v6.66h-1zM218 766.62h1v6.66h-1zM220 267.42h1v6.66h-1zM221 846.49h1v6.66h-1zM222 333.98h1v6.66h-1zM222 507.03h1v6.66h-1zM222 546.97h1v6.66h-1zM222 653.46h1v6.66h-1zM222 893.08h1v6.66h-1zM222 952.98h1v6.66h-1zM223 267.42h1v6.66h-1zM224 926.36h1v6.66h-1zM224 952.98h1v6.66h-1zM226 400.54h1v6.66h-1zM226 433.82h1v6.66h-1zM227 833.18h1v6.66h-1zM229 380.57h1v6.66h-1zM229 793.24h1v6.66h-1zM230 513.69h1v6.66h-1zM230 972.95h1v6.66h-1zM231 513.69h1v6.66h-1zM231 746.65h1v6.66h-1zM232 280.73h1v6.66h-1zM232 633.5h1v6.66h-1zM233 400.54h1v6.66h-1zM233 413.85h1v6.66h-1zM233 846.49h1v6.66h-1zM235 660.12h1v6.66h-1zM237 413.85h1v6.66h-1zM238 473.75h1v6.66h-1zM239 666.78h1v6.66h-1zM241 586.9h1v6.66h-1zM242 473.75h1v6.66h-1zM242 686.74h1v6.66h-1zM242 939.67h1v6.66h-1zM243 646.81h1v6.66h-1zM245 400.54h1v6.66h-1zM245 447.13h1v6.66h-1zM245 726.68h1v6.66h-1zM246 507.03h1v6.66h-1zM246 633.5h1v6.66h-1zM247 833.18h1v6.66h-1zM247 913.05h1v6.66h-1zM248 347.29h1v6.66h-1zM248 779.93h1v6.66h-1zM250 500.38h1v6.66h-1zM252 400.54h1v6.66h-1zM252 913.05h1v6.66h-1z"/><path fill="#d0a088" fill-opacity="0.38" d="M144 367.26h1v6.66h-1zM144 427.16h1v6.66h-1zM144 533.66h1v6.66h-1zM145 353.94h1v6.66h-1zM145 493.72h1v6.66h-1zM146 467.1h1v6.66h-1zM148 94.36h1v6.66h-1zM148 427.16h1v6.66h-1zM148 493.72h1v6.66h-1zM151 353.94h1v6.66h-1zM153 94.36h1v6.66h-1zM153 527h1v6.66h-1zM157 527h1v13.31h-1zM157 640.15h1v6.66h-1zM158 360.6h1v13.31h-1zM158 640.15h1v6.66h-1zM159 353.94h1v13.31h-1zM161 353.94h1v6.66h-1zM161 427.16h1v6.66h-1zM161 560.28h1v6.66h-1zM162 560.28h1v6.66h-1zM162 580.25h1v6.66h-1zM165 353.94h1v6.66h-1zM165 640.15h1v6.66h-1zM166 467.1h1v6.66h-1zM167 353.94h1v6.66h-1zM173 367.26h1v6.66h-1zM175 493.72h1v6.66h-1zM175 640.15h1v6.66h-1zM176 367.26h1v6.66h-1zM177 94.36h1v6.66h-1zM178 533.66h1v6.66h-1zM179 580.25h1v6.66h-1zM183 353.94h1v6.66h-1zM183 560.28h1v6.66h-1zM183 580.25h1v6.66h-1zM184 493.72h1v6.66h-1zM184 560.28h1v6.66h-1zM185 353.94h1v13.31h-1zM185 640.15h1v6.66h-1zM186 367.26h1v6.66h-1zM186 467.1h1v6.66h-1zM186 527h1v6.66h-1zM187 360.6h1v6.66h-1zM187 427.16h1v6.66h-1zM188 467.1h1v6.66h-1zM190 367.26h1v6.66h-1zM191 94.36h1v6.66h-1zM193 360.6h1v6.66h-1zM193 427.16h1v6.66h-1zM193 533.66h1v6.66h-1zM195 94.36h1v6.66h-1zM195 360.6h1v6.66h-1zM195 493.72h1v6.66h-1zM197 353.94h1v6.66h-1zM197 467.1h1v6.66h-1zM197 493.72h1v6.66h-1zM197 640.15h1v6.66h-1zM198 367.26h1v6.66h-1zM198 467.1h1v6.66h-1zM198 527h1v13.31h-1zM198 580.25h1v6.66h-1zM201 94.36h1v6.66h-1zM201 367.26h1v6.66h-1zM201 467.1h1v6.66h-1zM201 560.28h1v6.66h-1zM201 580.25h1v6.66h-1zM201 640.15h1v6.66h-1zM203 360.6h1v6.66h-1zM204 94.36h1v6.66h-1zM204 367.26h1v6.66h-1zM205 94.36h1v6.66h-1zM205 427.16h1v6.66h-1zM205 493.72h1v6.66h-1zM205 533.66h1v6.66h-1zM205 580.25h1v6.66h-1zM206 560.28h1v6.66h-1zM207 640.15h1v6.66h-1zM209 467.1h1v6.66h-1zM209 580.25h1v6.66h-1zM210 367.26h1v6.66h-1zM210 427.16h1v6.66h-1zM210 560.28h1v6.66h-1zM210 640.15h1v6.66h-1zM211 640.15h1v6.66h-1zM212 493.72h1v6.66h-1zM214 580.25h1v6.66h-1zM216 533.66h1v6.66h-1zM216 580.25h1v6.66h-1zM217 353.94h1v6.66h-1zM217 427.16h1v6.66h-1zM217 467.1h1v6.66h-1zM217 640.15h1v6.66h-1zM219 94.36h1v6.66h-1zM219 367.26h1v6.66h-1zM219 640.15h1v6.66h-1zM220 580.25h1v6.66h-1zM224 533.66h1v6.66h-1zM226 94.36h1v6.66h-1zM229 467.1h1v6.66h-1zM231 360.6h1v6.66h-1zM231 527h1v6.66h-1zM231 580.25h1v6.66h-1zM231 640.15h1v6.66h-1zM232 367.26h1v6.66h-1zM232 580.25h1v6.66h-1zM235 353.94h1v6.66h-1zM235 527h1v6.66h-1zM237 467.1h1v6.66h-1zM237 580.25h1v6.66h-1zM239 640.15h1v6.66h-1zM240 353.94h1v6.66h-1zM241 580.25h1v6.66h-1zM242 367.26h1v6.66h-1zM244 360.6h1v6.66h-1zM244 640.15h1v6.66h-1zM245 360.6h1v6.66h-1zM249 353.94h1v6.66h-1zM249 367.26h1v6.66h-1zM250 427.16h1v6.66h-1zM250 533.66h1v6.66h-1zM252 360.6h1v6.66h-1zM252 527h1v6.66h-1zM252 640.15h1v6.66h-1zM256 360.6h1v6.66h-1z"/><path fill="#a8a080" fill-opacity="0.38" d="M144 493.72h1v6.66h-1zM145 94.36h1v6.66h-1zM147 527h1v13.31h-1zM147 580.25h1v6.66h-1zM148 560.28h1v6.66h-1zM150 493.72h1v6.66h-1zM150 527h1v6.66h-1zM152 353.94h1v6.66h-1zM152 527h1v6.66h-1zM153 353.94h1v13.31h-1zM153 580.25h1v6.66h-1zM153 640.15h1v6.66h-1zM154 367.26h1v6.66h-1zM154 560.28h1v6.66h-1zM154 580.25h1v6.66h-1zM155 367.26h1v6.66h-1zM157 353.94h1v6.66h-1zM157 580.25h1v6.66h-1zM158 467.1h1v6.66h-1zM159 580.25h1v6.66h-1zM161 467.1h1v6.66h-1zM161 493.72h1v6.66h-1zM161 580.25h1v6.66h-1zM162 367.26h1v6.66h-1zM162 427.16h1v6.66h-1zM162 493.72h1v6.66h-1zM163 427.16h1v6.66h-1zM163 580.25h1v6.66h-1zM166 94.36h1v6.66h-1zM166 427.16h1v6.66h-1zM166 493.72h1v6.66h-1zM167 527h1v13.31h-1zM168 367.26h1v6.66h-1zM169 94.36h1v6.66h-1zM169 427.16h1v6.66h-1zM169 560.28h1v6.66h-1zM170 467.1h1v6.66h-1zM173 427.16h1v6.66h-1zM173 640.15h1v6.66h-1zM177 353.94h1v6.66h-1zM177 467.1h1v6.66h-1zM177 527h1v6.66h-1zM179 367.26h1v6.66h-1zM179 427.16h1v6.66h-1zM180 360.6h1v6.66h-1zM180 467.1h1v6.66h-1zM183 427.16h1v6.66h-1zM183 493.72h1v6.66h-1zM186 360.6h1v6.66h-1zM186 533.66h1v6.66h-1zM187 580.25h1v6.66h-1zM193 94.36h1v6.66h-1zM193 560.28h1v6.66h-1zM193 640.15h1v6.66h-1zM194 94.36h1v6.66h-1zM194 580.25h1v6.66h-1zM194 640.15h1v6.66h-1zM195 580.25h1v6.66h-1zM197 360.6h1v6.66h-1zM197 527h1v13.31h-1zM198 427.16h1v6.66h-1zM198 493.72h1v6.66h-1zM199 427.16h1v6.66h-1zM201 353.94h1v13.31h-1zM201 493.72h1v6.66h-1zM201 533.66h1v6.66h-1zM203 94.36h1v6.66h-1zM203 353.94h1v6.66h-1zM203 560.28h1v6.66h-1zM204 353.94h1v6.66h-1zM204 527h1v6.66h-1zM204 640.15h1v6.66h-1zM206 353.94h1v6.66h-1zM207 467.1h1v6.66h-1zM208 427.16h1v6.66h-1zM208 560.28h1v6.66h-1zM208 580.25h1v6.66h-1zM209 353.94h1v6.66h-1zM209 427.16h1v6.66h-1zM209 493.72h1v6.66h-1zM209 640.15h1v6.66h-1zM210 360.6h1v6.66h-1zM210 467.1h1v6.66h-1zM210 493.72h1v6.66h-1zM210 580.25h1v6.66h-1zM211 360.6h1v6.66h-1zM212 353.94h1v6.66h-1zM213 640.15h1v6.66h-1zM214 427.16h1v6.66h-1zM215 640.15h1v6.66h-1zM216 427.16h1v6.66h-1zM216 493.72h1v6.66h-1zM218 353.94h1v6.66h-1zM218 580.25h1v6.66h-1zM221 94.36h1v6.66h-1zM222 94.36h1v6.66h-1zM222 560.28h1v6.66h-1zM222 580.25h1v6.66h-1zM225 353.94h1v6.66h-1zM226 353.94h1v6.66h-1zM226 527h1v6.66h-1zM226 580.25h1v6.66h-1zM227 467.1h1v6.66h-1zM227 640.15h1v6.66h-1zM230 527h1v6.66h-1zM230 640.15h1v6.66h-1zM232 640.15h1v6.66h-1zM235 427.16h1v6.66h-1zM236 640.15h1v6.66h-1zM238 353.94h1v6.66h-1zM238 467.1h1v6.66h-1zM239 353.94h1v6.66h-1zM241 427.16h1v6.66h-1zM242 640.15h1v6.66h-1zM243 640.15h1v6.66h-1zM245 427.16h1v6.66h-1zM245 640.15h1v6.66h-1zM246 427.16h1v6.66h-1zM246 533.66h1v6.66h-1zM249 360.6h1v6.66h-1zM249 467.1h1v6.66h-1zM249 640.15h1v6.66h-1zM250 640.15h1v6.66h-1zM251 640.15h1v6.66h-1zM252 367.26h1v6.66h-1zM252 467.1h1v6.66h-1zM252 580.25h1v6.66h-1zM253 580.25h1v6.66h-1zM254 467.1h1v6.66h-1zM254 580.25h1v6.66h-1zM255 580.25h1v6.66h-1zM256 467.1h1v6.66h-1z"/><path fill="#b9a276" fill-opacity="0.42" d="M145 480.41h1v6.66h-1zM145 573.59h1v6.66h-1zM145 706.71h1v6.66h-1zM146 566.94h1v13.31h-1zM147 673.43h1v6.66h-1zM147 706.71h1v6.66h-1zM148 480.41h1v6.66h-1zM148 566.94h1v6.66h-1zM149 673.43h1v6.66h-1zM150 573.59h1v6.66h-1zM151 573.59h1v6.66h-1zM153 573.59h1v6.66h-1zM155 480.41h1v6.66h-1zM156 573.59h1v6.66h-1zM156 673.43h1v6.66h-1zM157 706.71h1v6.66h-1zM160 566.94h1v6.66h-1zM161 566.94h1v6.66h-1zM161 706.71h1v6.66h-1zM162 480.41h1v6.66h-1zM162 566.94h1v6.66h-1zM162 673.43h1v6.66h-1zM166 480.41h1v6.66h-1zM168 673.43h1v6.66h-1zM169 573.59h1v6.66h-1zM172 573.59h1v6.66h-1zM173 573.59h1v6.66h-1zM176 573.59h1v6.66h-1zM184 566.94h1v6.66h-1zM185 706.71h1v6.66h-1zM186 566.94h1v6.66h-1zM186 673.43h1v6.66h-1zM186 706.71h1v6.66h-1zM188 480.41h1v6.66h-1zM188 673.43h1v6.66h-1zM192 480.41h1v6.66h-1zM195 566.94h1v6.66h-1zM197 673.43h1v6.66h-1zM198 573.59h1v6.66h-1zM198 706.71h1v6.66h-1zM199 673.43h1v6.66h-1zM200 673.43h1v6.66h-1zM201 566.94h1v6.66h-1zM201 706.71h1v6.66h-1zM204 573.59h1v6.66h-1zM209 566.94h1v6.66h-1zM209 706.71h1v6.66h-1zM210 566.94h1v6.66h-1zM210 706.71h1v6.66h-1zM211 573.59h1v6.66h-1zM213 566.94h1v6.66h-1zM216 566.94h1v6.66h-1zM217 480.41h1v6.66h-1zM217 566.94h1v6.66h-1zM218 573.59h1v6.66h-1zM218 673.43h1v6.66h-1zM220 480.41h1v6.66h-1zM220 706.71h1v6.66h-1zM222 706.71h1v6.66h-1zM224 573.59h1v6.66h-1zM225 480.41h1v6.66h-1zM225 706.71h1v6.66h-1zM226 566.94h1v6.66h-1zM227 573.59h1v6.66h-1zM229 566.94h1v13.31h-1zM232 573.59h1v6.66h-1zM233 673.43h1v6.66h-1zM235 706.71h1v6.66h-1zM236 480.41h1v6.66h-1zM244 480.41h1v6.66h-1zM244 566.94h1v13.31h-1zM244 706.71h1v6.66h-1zM246 566.94h1v6.66h-1zM246 706.71h1v6.66h-1zM247 566.94h1v6.66h-1zM249 573.59h1v6.66h-1zM250 480.41h1v6.66h-1zM253 566.94h1v6.66h-1zM256 480.41h1v6.66h-1z"/><path fill="#a8b4a0" fill-opacity="0.36" d="M143 140.95h1v93.18h-1zM147 220.82h1v13.31h-1zM151 207.51h1v26.62h-1zM154 154.26h1v19.97h-1zM154 207.51h1v6.66h-1zM159 94.36h1v19.97h-1zM160 87.7h1v13.31h-1zM161 140.95h1v79.87h-1zM163 114.33h1v13.31h-1zM164 67.74h1v113.15h-1zM164 180.89h1v26.62h-1zM164 207.51h1v13.31h-1zM166 147.61h1v66.56h-1zM168 120.98h1v13.31h-1zM171 147.61h1v86.53h-1zM172 74.39h1v6.66h-1zM176 120.98h1v33.28h-1zM177 140.95h1v6.66h-1zM187 167.58h1v6.66h-1zM193 154.26h1v79.87h-1zM201 74.39h1v6.66h-1zM202 120.98h1v113.15h-1zM212 107.67h1v33.28h-1zM215 214.17h1v6.66h-1zM216 127.64h1v33.28h-1zM221 174.23h1v59.9h-1zM225 147.61h1v79.87h-1zM227 154.26h1v79.87h-1z"/><path fill="#a0ac98" fill-opacity="0.36" d="M144 94.36h1v6.66h-1zM145 140.95h1v6.66h-1zM147 67.74h1v113.15h-1zM152 160.92h1v33.28h-1zM156 214.17h1v6.66h-1zM157 81.05h1v13.31h-1zM157 194.2h1v39.94h-1zM158 147.61h1v6.66h-1zM163 220.82h1v13.31h-1zM165 167.58h1v46.59h-1zM167 134.3h1v66.56h-1zM169 74.39h1v6.66h-1zM180 134.3h1v26.62h-1zM182 214.17h1v19.97h-1zM183 120.98h1v73.22h-1zM186 81.05h1v6.66h-1zM186 120.98h1v6.66h-1zM187 134.3h1v13.31h-1zM188 140.95h1v13.31h-1zM202 74.39h1v6.66h-1zM203 120.98h1v33.28h-1zM206 167.58h1v33.28h-1zM208 107.67h1v6.66h-1zM208 214.17h1v19.97h-1zM215 134.3h1v6.66h-1zM218 154.26h1v79.87h-1zM220 154.26h1v6.66h-1zM226 114.33h1v6.66h-1zM226 140.95h1v46.59h-1zM228 107.67h1v126.46h-1zM233 101.02h1v19.97h-1zM235 127.64h1v6.66h-1z"/><path fill="#c0b4a8" fill-opacity="0.36" d="M144 160.92h1v19.97h-1zM150 101.02h1v39.94h-1zM154 220.82h1v13.31h-1zM157 107.67h1v26.62h-1zM162 194.2h1v39.94h-1zM165 94.36h1v6.66h-1zM165 127.64h1v26.62h-1zM170 200.86h1v33.28h-1zM171 81.05h1v13.31h-1zM176 81.05h1v39.94h-1zM179 81.05h1v13.31h-1zM180 81.05h1v26.62h-1zM180 227.48h1v6.66h-1zM188 167.58h1v66.56h-1zM191 167.58h1v66.56h-1zM194 187.54h1v33.28h-1zM199 160.92h1v73.22h-1zM200 127.64h1v6.66h-1zM205 74.39h1v93.18h-1zM205 194.2h1v13.31h-1zM207 147.61h1v73.22h-1zM209 200.86h1v6.66h-1zM216 214.17h1v19.97h-1zM231 127.64h1v26.62h-1zM232 87.7h1v13.31h-1zM232 194.2h1v6.66h-1zM234 167.58h1v6.66h-1z"/><path fill="#b4b8a4" fill-opacity="0.36" d="M145 94.36h1v46.59h-1zM145 194.2h1v13.31h-1zM146 127.64h1v19.97h-1zM148 200.86h1v19.97h-1zM149 74.39h1v159.74h-1zM151 154.26h1v53.25h-1zM153 174.23h1v19.97h-1zM154 87.7h1v59.9h-1zM159 147.61h1v39.94h-1zM169 127.64h1v19.97h-1zM174 160.92h1v26.62h-1zM175 147.61h1v26.62h-1zM177 167.58h1v19.97h-1zM179 94.36h1v6.66h-1zM182 194.2h1v19.97h-1zM191 127.64h1v26.62h-1zM195 180.89h1v13.31h-1zM199 94.36h1v26.62h-1zM203 67.74h1v13.31h-1zM203 207.51h1v26.62h-1zM206 107.67h1v13.31h-1zM206 140.95h1v26.62h-1zM213 81.05h1v153.09h-1zM214 160.92h1v26.62h-1zM214 187.54h1v6.66h-1zM214 227.48h1v6.66h-1zM217 140.95h1v93.18h-1zM219 160.92h1v73.22h-1zM221 94.36h1v66.56h-1zM224 147.61h1v13.31h-1zM230 174.23h1v19.97h-1z"/><path fill="#a8b4a0" fill-opacity="0.25" d="M144 247.45h1v13.31h-1zM152 267.42h1v66.56h-1zM157 240.79h1v13.31h-1zM158 267.42h1v26.62h-1zM172 254.1h1v39.94h-1zM189 260.76h1v66.56h-1zM217 267.42h1v13.31h-1zM221 274.07h1v59.9h-1zM237 274.07h1v19.97h-1zM242 307.35h1v26.62h-1zM246 254.1h1v13.31h-1zM246 294.04h1v39.94h-1zM249 300.7h1v33.28h-1z"/><path fill="#a0ac98" fill-opacity="0.25" d="M145 234.14h1v19.97h-1zM165 280.73h1v26.62h-1zM174 294.04h1v39.94h-1zM175 240.79h1v19.97h-1zM178 294.04h1v13.31h-1zM190 287.38h1v19.97h-1zM193 240.79h1v33.28h-1zM196 280.73h1v53.25h-1zM203 247.45h1v6.66h-1zM204 287.38h1v13.31h-1zM222 254.1h1v46.59h-1zM232 300.7h1v33.28h-1zM240 307.35h1v13.31h-1z"/><path fill="#b4b8a4" fill-opacity="0.25" d="M147 260.76h1v73.22h-1zM160 234.14h1v99.84h-1zM167 267.42h1v59.9h-1zM168 240.79h1v6.66h-1zM173 327.32h1v6.66h-1zM187 240.79h1v93.18h-1zM189 240.79h1v6.66h-1zM201 247.45h1v86.53h-1zM202 267.42h1v6.66h-1zM205 260.76h1v19.97h-1zM209 267.42h1v33.28h-1zM212 287.38h1v46.59h-1zM215 294.04h1v19.97h-1zM217 327.32h1v6.66h-1zM219 314.01h1v6.66h-1zM227 254.1h1v33.28h-1zM229 327.32h1v6.66h-1zM234 247.45h1v6.66h-1zM248 240.79h1v46.59h-1z"/><path fill="#c0b4a8" fill-opacity="0.25" d="M153 320.66h1v13.31h-1zM154 254.1h1v13.31h-1zM161 280.73h1v6.66h-1zM162 260.76h1v73.22h-1zM166 300.7h1v26.62h-1zM170 314.01h1v19.97h-1zM176 274.07h1v19.97h-1zM190 247.45h1v6.66h-1zM195 254.1h1v79.87h-1zM204 274.07h1v6.66h-1zM207 254.1h1v6.66h-1zM209 254.1h1v6.66h-1zM218 287.38h1v33.28h-1zM229 234.14h1v33.28h-1zM230 327.32h1v6.66h-1zM241 267.42h1v53.25h-1zM243 280.73h1v46.59h-1zM245 267.42h1v39.94h-1zM248 294.04h1v6.66h-1z"/><rect x="142.6" y="27.8" width="6.2" height="6.66" fill="#8fb88c"/><rect x="149.7" y="34.46" width="6.9" height="6.66" fill="#c9a0a0"/><rect x="157" y="41.11" width="8.4" height="6.66" fill="#95bb8e"/><rect x="165.4" y="47.77" width="7.4" height="6.66" fill="#95bb8e"/><rect x="172.8" y="54.42" width="7.8" height="6.66" fill="#95bb8e"/><rect x="142.6" y="61.08" width="64.4" height="6.66" fill="#d45a55"/><rect x="181.5" y="74.39" width="7.5" height="6.66" fill="#b09a70"/><rect x="207" y="74.39" width="10.3" height="6.66" fill="#a09a68"/><rect x="217.3" y="81.05" width="3.9" height="6.66" fill="#95bb8e"/><rect x="221.2" y="87.7" width="2.3" height="6.66" fill="#95bb8e"/><rect x="189" y="94.36" width="7" height="6.66" fill="#c0a080"/><rect x="222" y="94.36" width="5.5" height="6.66" fill="#b09a70"/><rect x="227.5" y="101.02" width="2" height="6.66" fill="#b0a080"/><rect x="229.5" y="107.67" width="1.5" height="6.66" fill="#a0b090"/><rect x="231" y="114.33" width="2" height="6.66" fill="#a0b090"/></g><rect x="261" y="27.8" width="9.9" height="133.12" fill="#d6e29e"/><rect x="261" y="160.92" width="9.9" height="33.28" fill="#fbcb4e"/><rect x="261" y="194.2" width="9.9" height="6.66" fill="#f6a126"/><rect x="261" y="200.86" width="9.9" height="33.28" fill="#bbbbbf"/><rect x="261" y="234.14" width="9.9" height="113.15" fill="#d6e29e"/><rect x="261" y="347.29" width="9.9" height="6.66" fill="#fbcb4e"/><rect x="261" y="353.94" width="9.9" height="232.96" fill="#d6e29e"/><rect x="261" y="586.9" width="9.9" height="6.66" fill="#fbcb4e"/><rect x="261" y="593.56" width="9.9" height="33.28" fill="#bbbbbf"/><rect x="261" y="626.84" width="9.9" height="352.77" fill="#d6e29e"/><g filter="url(#bl)"><rect x="273.5" y="27.8" width="115.3" height="6.68" fill="#fbe5df"/><rect x="273.5" y="34.46" width="115.3" height="13.33" fill="#f2b4a4"/><rect x="273.5" y="47.77" width="115.3" height="6.68" fill="#f8cfc3"/><rect x="273.5" y="54.42" width="115.3" height="6.68" fill="#fadcd3"/><rect x="273.5" y="61.08" width="115.3" height="6.68" fill="#fbe5df"/><rect x="273.5" y="67.74" width="115.3" height="6.68" fill="#f8cfc3"/><rect x="273.5" y="74.39" width="115.3" height="6.68" fill="#e66e68"/><rect x="273.5" y="81.05" width="115.3" height="13.33" fill="#fef7f5"/><rect x="273.5" y="94.36" width="115.3" height="6.68" fill="#fcede8"/><rect x="273.5" y="101.02" width="115.3" height="6.68" fill="#e05a58"/><rect x="273.5" y="107.67" width="115.3" height="6.68" fill="#e66e68"/><rect x="273.5" y="114.33" width="115.3" height="6.68" fill="#fbe5df"/><rect x="273.5" y="120.98" width="115.3" height="13.33" fill="#fef7f5"/><rect x="273.5" y="134.3" width="115.3" height="13.33" fill="#fbe5df"/><rect x="273.5" y="147.61" width="115.3" height="6.68" fill="#f2b4a4"/><rect x="273.5" y="154.26" width="115.3" height="6.68" fill="#fcede8"/><rect x="273.5" y="160.92" width="115.3" height="6.68" fill="#fbe5df"/><rect x="273.5" y="167.58" width="115.3" height="19.99" fill="#fef7f5"/><rect x="273.5" y="187.54" width="115.3" height="6.68" fill="#e05a58"/><rect x="273.5" y="194.2" width="115.3" height="6.68" fill="#fcede8"/><rect x="273.5" y="200.86" width="115.3" height="6.68" fill="#fffcfb"/><rect x="273.5" y="207.51" width="115.3" height="6.68" fill="#fbe5df"/><rect x="273.5" y="214.17" width="115.3" height="6.68" fill="#fef7f5"/><rect x="273.5" y="220.82" width="115.3" height="6.68" fill="#fadcd3"/><rect x="273.5" y="227.48" width="115.3" height="6.68" fill="#fbe5df"/><rect x="273.5" y="234.14" width="115.3" height="13.33" fill="#fffcfb"/><rect x="273.5" y="247.45" width="115.3" height="6.68" fill="#fcede8"/><rect x="273.5" y="254.1" width="115.3" height="26.64" fill="#fffcfb"/><rect x="273.5" y="280.73" width="115.3" height="6.68" fill="#fef7f5"/><rect x="273.5" y="287.38" width="115.3" height="19.99" fill="#fffcfb"/><rect x="273.5" y="307.35" width="115.3" height="13.33" fill="#fef7f5"/><rect x="273.5" y="320.66" width="115.3" height="13.33" fill="#fffcfb"/><rect x="273.5" y="333.98" width="115.3" height="6.68" fill="#fef7f5"/><rect x="273.5" y="340.63" width="115.3" height="6.68" fill="#fffcfb"/><rect x="273.5" y="347.29" width="115.3" height="6.68" fill="#fef7f5"/><rect x="273.5" y="353.94" width="115.3" height="6.68" fill="#fffcfb"/><rect x="273.5" y="360.6" width="115.3" height="6.68" fill="#fef7f5"/><rect x="273.5" y="367.26" width="115.3" height="6.68" fill="#fcede8"/><rect x="273.5" y="373.91" width="115.3" height="19.99" fill="#fef7f5"/><rect x="273.5" y="393.88" width="115.3" height="13.33" fill="#fbe5df"/><rect x="273.5" y="407.19" width="115.3" height="6.68" fill="#fef7f5"/><rect x="273.5" y="413.85" width="115.3" height="26.64" fill="#fffcfb"/><rect x="273.5" y="440.47" width="115.3" height="6.68" fill="#fef7f5"/><rect x="273.5" y="447.13" width="115.3" height="26.64" fill="#fffcfb"/><rect x="273.5" y="473.75" width="115.3" height="6.68" fill="#fef7f5"/><rect x="273.5" y="480.41" width="115.3" height="6.68" fill="#fffcfb"/><rect x="273.5" y="487.06" width="115.3" height="13.33" fill="#fef7f5"/><rect x="273.5" y="500.38" width="115.3" height="6.68" fill="#fffcfb"/><rect x="273.5" y="507.03" width="115.3" height="6.68" fill="#fef7f5"/><rect x="273.5" y="513.69" width="115.3" height="6.68" fill="#fffcfb"/><rect x="273.5" y="520.34" width="115.3" height="6.68" fill="#fef7f5"/><rect x="273.5" y="527" width="115.3" height="6.68" fill="#fcede8"/><rect x="273.5" y="533.66" width="115.3" height="6.68" fill="#fffcfb"/><rect x="273.5" y="540.31" width="115.3" height="6.68" fill="#fef7f5"/><rect x="273.5" y="546.97" width="115.3" height="6.68" fill="#fcede8"/><rect x="273.5" y="553.62" width="115.3" height="13.33" fill="#fef7f5"/><rect x="273.5" y="566.94" width="115.3" height="6.68" fill="#fffcfb"/><rect x="273.5" y="573.59" width="115.3" height="13.33" fill="#fef7f5"/><rect x="273.5" y="586.9" width="115.3" height="19.99" fill="#fffcfb"/><rect x="273.5" y="606.87" width="115.3" height="6.68" fill="#fef7f5"/><rect x="273.5" y="613.53" width="115.3" height="13.33" fill="#fffcfb"/><rect x="273.5" y="626.84" width="115.3" height="6.68" fill="#fcede8"/><rect x="273.5" y="633.5" width="115.3" height="13.33" fill="#fef7f5"/><rect x="273.5" y="646.81" width="115.3" height="13.33" fill="#fffcfb"/><rect x="273.5" y="660.12" width="115.3" height="6.68" fill="#fef7f5"/><rect x="273.5" y="666.78" width="115.3" height="6.68" fill="#fffcfb"/><rect x="273.5" y="673.43" width="115.3" height="6.68" fill="#fef7f5"/><rect x="273.5" y="680.09" width="115.3" height="6.68" fill="#fffcfb"/><rect x="273.5" y="686.74" width="115.3" height="13.33" fill="#fef7f5"/><rect x="273.5" y="700.06" width="115.3" height="26.64" fill="#fffcfb"/><rect x="273.5" y="726.68" width="115.3" height="6.68" fill="#fef7f5"/><rect x="273.5" y="733.34" width="115.3" height="13.33" fill="#fffcfb"/><rect x="273.5" y="746.65" width="115.3" height="6.68" fill="#fef7f5"/><rect x="273.5" y="753.3" width="115.3" height="19.99" fill="#fffcfb"/><rect x="273.5" y="773.27" width="115.3" height="6.68" fill="#fef7f5"/><rect x="273.5" y="779.93" width="115.3" height="13.33" fill="#fffcfb"/><rect x="273.5" y="793.24" width="115.3" height="6.68" fill="#fef7f5"/><rect x="273.5" y="799.9" width="115.3" height="33.3" fill="#fffcfb"/><rect x="273.5" y="833.18" width="115.3" height="6.68" fill="#fef7f5"/><rect x="273.5" y="839.83" width="115.3" height="6.68" fill="#fffcfb"/><rect x="273.5" y="846.49" width="115.3" height="6.68" fill="#fef7f5"/><rect x="273.5" y="853.14" width="115.3" height="6.68" fill="#fffcfb"/><rect x="273.5" y="859.8" width="115.3" height="6.68" fill="#fef7f5"/><rect x="273.5" y="866.46" width="115.3" height="13.33" fill="#fffcfb"/><rect x="273.5" y="879.77" width="115.3" height="6.68" fill="#fef7f5"/><rect x="273.5" y="886.42" width="115.3" height="6.68" fill="#fcede8"/><rect x="273.5" y="893.08" width="115.3" height="6.68" fill="#fef7f5"/><rect x="273.5" y="899.74" width="115.3" height="19.99" fill="#fffcfb"/><rect x="273.5" y="919.7" width="115.3" height="19.99" fill="#fef7f5"/><rect x="273.5" y="939.67" width="115.3" height="6.68" fill="#fffcfb"/><rect x="273.5" y="946.33" width="115.3" height="13.33" fill="#fef7f5"/><rect x="273.5" y="959.64" width="115.3" height="13.33" fill="#fffcfb"/><rect x="273.5" y="972.95" width="115.3" height="6.68" fill="#fef7f5"/><path fill="#c8805e" fill-opacity="0.4" d="M274 34.46h1v6.66h-1zM275 147.61h1v6.66h-1zM280 34.46h1v6.66h-1zM281 147.61h1v6.66h-1zM282 147.61h1v6.66h-1zM286 34.46h1v6.66h-1zM289 41.11h1v6.66h-1zM290 147.61h1v6.66h-1zM295 41.11h1v6.66h-1zM301 147.61h1v6.66h-1zM313 41.11h1v6.66h-1zM317 147.61h1v6.66h-1zM324 147.61h1v6.66h-1zM340 147.61h1v6.66h-1zM342 147.61h1v6.66h-1zM346 147.61h1v6.66h-1zM350 147.61h1v6.66h-1zM361 147.61h1v6.66h-1zM365 147.61h1v6.66h-1zM371 147.61h1v6.66h-1zM381 147.61h1v6.66h-1z"/><path fill="#b0886a" fill-opacity="0.4" d="M274 41.11h1v6.66h-1zM278 147.61h1v6.66h-1zM280 147.61h1v6.66h-1zM286 147.61h1v6.66h-1zM287 34.46h1v6.66h-1zM291 147.61h1v6.66h-1zM295 147.61h1v6.66h-1zM305 41.11h1v6.66h-1zM309 147.61h1v6.66h-1zM313 147.61h1v6.66h-1zM330 147.61h1v6.66h-1zM351 147.61h1v6.66h-1zM353 147.61h1v6.66h-1zM367 147.61h1v6.66h-1zM370 147.61h1v6.66h-1zM382 147.61h1v6.66h-1zM385 147.61h1v6.66h-1z"/><path fill="#c8906e" fill-opacity="0.38" d="M274 47.77h1v6.66h-1zM275 54.42h1v6.66h-1zM275 67.74h1v6.66h-1zM287 54.42h1v6.66h-1zM290 67.74h1v6.66h-1zM294 67.74h1v6.66h-1zM301 220.82h1v6.66h-1zM316 47.77h1v6.66h-1zM316 220.82h1v6.66h-1zM319 47.77h1v6.66h-1zM325 220.82h1v6.66h-1zM339 54.42h1v6.66h-1zM343 67.74h1v6.66h-1zM344 67.74h1v6.66h-1zM345 67.74h1v6.66h-1zM365 220.82h1v6.66h-1z"/><path fill="#c23a3a" fill-opacity="0.85" d="M274 101.02h1v6.66h-1zM275 107.67h1v6.66h-1zM276 107.67h1v6.66h-1zM276 187.54h1v6.66h-1zM277 187.54h1v6.66h-1zM278 187.54h1v6.66h-1zM279 101.02h1v6.66h-1zM282 101.02h1v6.66h-1zM282 187.54h1v6.66h-1zM288 107.67h1v6.66h-1zM295 101.02h1v13.31h-1zM295 187.54h1v6.66h-1zM300 187.54h1v6.66h-1zM302 107.67h1v6.66h-1zM305 187.54h1v6.66h-1zM313 107.67h1v6.66h-1zM316 101.02h1v6.66h-1zM326 101.02h1v6.66h-1zM326 187.54h1v6.66h-1zM327 101.02h1v6.66h-1zM335 101.02h1v6.66h-1zM335 187.54h1v6.66h-1zM337 107.67h1v6.66h-1zM337 187.54h1v6.66h-1zM339 107.67h1v6.66h-1zM348 107.67h1v6.66h-1zM350 187.54h1v6.66h-1zM359 101.02h1v6.66h-1zM359 187.54h1v6.66h-1zM360 107.67h1v6.66h-1zM363 107.67h1v6.66h-1zM365 187.54h1v6.66h-1zM367 107.67h1v6.66h-1zM367 187.54h1v6.66h-1zM373 107.67h1v6.66h-1zM379 107.67h1v6.66h-1zM381 107.67h1v6.66h-1zM381 187.54h1v6.66h-1zM382 101.02h1v6.66h-1zM386 107.67h1v6.66h-1z"/><path fill="#d09070" fill-opacity="0.4" d="M274 147.61h1v6.66h-1zM279 34.46h1v6.66h-1zM282 41.11h1v6.66h-1zM289 147.61h1v6.66h-1zM294 147.61h1v6.66h-1zM298 41.11h1v6.66h-1zM301 41.11h1v6.66h-1zM302 147.61h1v6.66h-1zM304 147.61h1v6.66h-1zM316 41.11h1v6.66h-1zM316 147.61h1v6.66h-1zM317 41.11h1v6.66h-1zM318 147.61h1v6.66h-1zM328 147.61h1v6.66h-1zM339 147.61h1v6.66h-1zM343 147.61h1v6.66h-1zM352 147.61h1v6.66h-1zM356 147.61h1v6.66h-1zM383 147.61h1v6.66h-1zM386 147.61h1v6.66h-1z"/><path fill="#a4ae9e" fill-opacity="0.42" d="M274 393.88h1v6.66h-1zM275 753.3h1v6.66h-1zM276 746.65h1v6.66h-1zM277 127.64h1v6.66h-1zM278 27.8h1v6.66h-1zM278 194.2h1v6.66h-1zM278 846.49h1v6.66h-1zM279 247.45h1v6.66h-1zM280 27.8h1v6.66h-1zM280 367.26h1v6.66h-1zM281 859.8h1v6.66h-1zM282 27.8h1v6.66h-1zM282 260.76h1v6.66h-1zM282 327.32h1v6.66h-1zM285 380.57h1v6.66h-1zM285 673.43h1v6.66h-1zM286 207.51h1v6.66h-1zM286 400.54h1v6.66h-1zM286 533.66h1v6.66h-1zM286 873.11h1v6.66h-1zM288 453.78h1v6.66h-1zM288 467.1h1v6.66h-1zM289 134.3h1v6.66h-1zM289 686.74h1v6.66h-1zM289 713.37h1v6.66h-1zM290 473.75h1v6.66h-1zM290 726.68h1v6.66h-1zM290 833.18h1v6.66h-1zM290 853.14h1v6.66h-1zM291 367.26h1v6.66h-1zM294 94.36h1v6.66h-1zM294 227.48h1v6.66h-1zM294 859.8h1v6.66h-1zM294 959.64h1v6.66h-1zM295 214.17h1v6.66h-1zM295 367.26h1v6.66h-1zM295 400.54h1v6.66h-1zM296 826.52h1v6.66h-1zM297 546.97h1v6.66h-1zM300 453.78h1v6.66h-1zM301 640.15h1v6.66h-1zM301 926.36h1v6.66h-1zM302 573.59h1v6.66h-1zM302 913.05h1v6.66h-1zM303 154.26h1v6.66h-1zM303 866.46h1v6.66h-1zM305 200.86h1v6.66h-1zM306 154.26h1v6.66h-1zM307 680.09h1v6.66h-1zM309 566.94h1v6.66h-1zM310 214.17h1v6.66h-1zM313 400.54h1v6.66h-1zM316 626.84h1v6.66h-1zM317 94.36h1v6.66h-1zM317 367.26h1v6.66h-1zM317 393.88h1v6.66h-1zM317 593.56h1v6.66h-1zM317 613.53h1v6.66h-1zM317 626.84h1v6.66h-1zM321 87.7h1v6.66h-1zM322 759.96h1v6.66h-1zM322 853.14h1v6.66h-1zM324 653.46h1v13.31h-1zM326 307.35h1v6.66h-1zM326 806.55h1v6.66h-1zM326 959.64h1v6.66h-1zM327 87.7h1v6.66h-1zM327 167.58h1v6.66h-1zM327 739.99h1v6.66h-1zM328 207.51h1v6.66h-1zM328 806.55h1v6.66h-1zM329 94.36h1v6.66h-1zM330 759.96h1v6.66h-1zM333 653.46h1v6.66h-1zM335 134.3h1v6.66h-1zM335 194.2h1v6.66h-1zM339 566.94h1v6.66h-1zM340 753.3h1v6.66h-1zM343 81.05h1v6.66h-1zM344 160.92h1v6.66h-1zM344 387.22h1v6.66h-1zM345 254.1h1v6.66h-1zM345 274.07h1v6.66h-1zM345 314.01h1v6.66h-1zM345 380.57h1v6.66h-1zM345 393.88h1v6.66h-1zM345 407.19h1v6.66h-1zM345 473.75h1v6.66h-1zM346 280.73h1v6.66h-1zM348 254.1h1v6.66h-1zM348 380.57h1v6.66h-1zM348 520.34h1v6.66h-1zM350 154.26h1v6.66h-1zM350 340.63h1v6.66h-1zM352 913.05h1v6.66h-1zM353 393.88h1v6.66h-1zM354 673.43h1v6.66h-1zM355 194.2h1v6.66h-1zM357 160.92h1v6.66h-1zM357 407.19h1v6.66h-1zM357 919.7h1v6.66h-1zM358 207.51h1v6.66h-1zM361 407.19h1v6.66h-1zM361 833.18h1v6.66h-1zM365 527h1v6.66h-1zM365 879.77h1v6.66h-1zM366 686.74h1v6.66h-1zM367 254.1h1v6.66h-1zM368 114.33h1v6.66h-1zM368 260.76h1v6.66h-1zM368 480.41h1v6.66h-1zM370 926.36h1v6.66h-1zM372 939.67h1v6.66h-1zM373 952.98h1v6.66h-1zM374 766.62h1v6.66h-1zM375 626.84h1v6.66h-1zM382 167.58h1v6.66h-1zM383 154.26h1v6.66h-1zM384 300.7h1v6.66h-1zM384 680.09h1v6.66h-1zM385 367.26h1v13.31h-1zM386 573.59h1v6.66h-1z"/><path fill="#8fae88" fill-opacity="0.42" d="M274 480.41h1v6.66h-1zM274 546.97h1v6.66h-1zM275 606.87h1v6.66h-1zM276 140.95h1v6.66h-1zM276 160.92h1v6.66h-1zM276 347.29h1v6.66h-1zM276 420.5h1v6.66h-1zM276 440.47h1v6.66h-1zM276 706.71h1v6.66h-1zM276 866.46h1v6.66h-1zM278 154.26h1v6.66h-1zM278 207.51h1v6.66h-1zM278 314.01h1v6.66h-1zM278 373.91h1v6.66h-1zM278 413.85h1v6.66h-1zM279 214.17h1v6.66h-1zM279 240.79h1v6.66h-1zM279 300.7h1v6.66h-1zM279 453.78h1v6.66h-1zM279 580.25h1v6.66h-1zM279 633.5h1v6.66h-1zM279 666.78h1v6.66h-1zM279 779.93h1v6.66h-1zM279 919.7h1v6.66h-1zM280 87.7h1v6.66h-1zM280 440.47h1v6.66h-1zM280 686.74h1v6.66h-1zM281 320.66h1v6.66h-1zM281 507.03h1v6.66h-1zM281 700.06h1v6.66h-1zM282 207.51h1v6.66h-1zM282 400.54h1v6.66h-1zM282 420.5h1v6.66h-1zM282 527h1v6.66h-1zM282 773.27h1v6.66h-1zM282 952.98h1v6.66h-1zM285 600.22h1v6.66h-1zM286 480.41h1v6.66h-1zM286 906.39h1v6.66h-1zM286 926.36h1v6.66h-1zM287 387.22h1v6.66h-1zM287 733.34h1v6.66h-1zM287 786.58h1v6.66h-1zM287 839.83h1v6.66h-1zM288 347.29h1v6.66h-1zM288 546.97h1v6.66h-1zM289 27.8h1v6.66h-1zM289 87.7h1v6.66h-1zM289 154.26h1v6.66h-1zM289 194.2h1v6.66h-1zM289 247.45h1v6.66h-1zM289 380.57h1v6.66h-1zM289 447.13h1v6.66h-1zM289 873.11h1v6.66h-1zM289 913.05h1v6.66h-1zM289 939.67h1v6.66h-1zM290 27.8h1v6.66h-1zM290 61.08h1v6.66h-1zM290 81.05h1v13.31h-1zM290 140.95h1v6.66h-1zM290 167.58h1v6.66h-1zM290 207.51h1v13.31h-1zM290 307.35h1v6.66h-1zM290 347.29h1v13.31h-1zM290 373.91h1v6.66h-1zM290 400.54h1v13.31h-1zM290 427.16h1v13.31h-1zM290 527h1v6.66h-1zM290 620.18h1v6.66h-1zM290 633.5h1v6.66h-1zM290 686.74h1v6.66h-1zM290 713.37h1v6.66h-1zM290 739.99h1v6.66h-1zM290 766.62h1v6.66h-1zM290 799.9h1v6.66h-1zM290 839.83h1v6.66h-1zM290 933.02h1v6.66h-1zM290 952.98h1v6.66h-1zM291 214.17h1v6.66h-1zM291 373.91h1v6.66h-1zM291 720.02h1v6.66h-1zM292 693.4h1v6.66h-1zM292 839.83h1v6.66h-1zM293 640.15h1v6.66h-1zM294 61.08h1v6.66h-1zM294 207.51h1v6.66h-1zM294 274.07h1v6.66h-1zM294 460.44h1v6.66h-1zM294 620.18h1v6.66h-1zM294 680.09h1v6.66h-1zM294 806.55h1v6.66h-1zM295 27.8h1v6.66h-1zM295 140.95h1v6.66h-1zM295 154.26h1v6.66h-1zM295 207.51h1v6.66h-1zM295 353.94h1v6.66h-1zM295 393.88h1v6.66h-1zM295 513.69h1v6.66h-1zM295 633.5h1v6.66h-1zM295 666.78h1v6.66h-1zM295 893.08h1v6.66h-1zM295 946.33h1v6.66h-1zM296 946.33h1v6.66h-1zM297 114.33h1v13.31h-1zM297 360.6h1v6.66h-1zM297 387.22h1v6.66h-1zM297 407.19h1v6.66h-1zM297 420.5h1v6.66h-1zM297 633.5h1v6.66h-1zM298 81.05h1v6.66h-1zM298 94.36h1v6.66h-1zM298 320.66h1v6.66h-1zM299 400.54h1v6.66h-1zM300 154.26h1v6.66h-1zM300 333.98h1v6.66h-1zM300 753.3h1v6.66h-1zM300 799.9h1v6.66h-1zM300 899.74h1v6.66h-1zM301 61.08h1v6.66h-1zM301 287.38h1v6.66h-1zM301 314.01h1v6.66h-1zM301 360.6h1v6.66h-1zM301 387.22h1v6.66h-1zM301 400.54h1v6.66h-1zM301 533.66h1v6.66h-1zM301 746.65h1v6.66h-1zM301 786.58h1v6.66h-1zM301 952.98h1v13.31h-1zM302 287.38h1v6.66h-1zM302 300.7h1v6.66h-1zM302 314.01h1v6.66h-1zM302 407.19h1v6.66h-1zM302 433.82h1v6.66h-1zM302 793.24h1v6.66h-1zM302 886.42h1v6.66h-1zM302 966.3h1v6.66h-1zM303 773.27h1v6.66h-1zM303 959.64h1v6.66h-1zM304 114.33h1v6.66h-1zM304 280.73h1v6.66h-1zM305 680.09h1v6.66h-1zM305 700.06h1v6.66h-1zM306 487.06h1v13.31h-1zM306 839.83h1v6.66h-1zM307 280.73h1v6.66h-1zM307 387.22h1v6.66h-1zM307 693.4h1v6.66h-1zM308 407.19h1v6.66h-1zM309 307.35h1v6.66h-1zM309 560.28h1v6.66h-1zM309 779.93h1v6.66h-1zM310 926.36h1v6.66h-1zM311 114.33h1v6.66h-1zM311 393.88h1v6.66h-1zM312 314.01h1v6.66h-1zM312 333.98h1v6.66h-1zM312 546.97h1v6.66h-1zM312 886.42h1v6.66h-1zM313 473.75h1v6.66h-1zM313 513.69h1v6.66h-1zM313 926.36h1v6.66h-1zM315 114.33h1v6.66h-1zM315 314.01h1v6.66h-1zM315 713.37h1v6.66h-1zM315 839.83h1v6.66h-1zM315 972.95h1v6.66h-1zM316 27.8h1v6.66h-1zM316 81.05h1v6.66h-1zM316 127.64h1v6.66h-1zM316 154.26h1v6.66h-1zM316 247.45h1v6.66h-1zM316 360.6h1v6.66h-1zM316 420.5h1v6.66h-1zM316 513.69h1v6.66h-1zM318 453.78h1v6.66h-1zM319 61.08h1v6.66h-1zM319 200.86h1v6.66h-1zM319 746.65h1v6.66h-1zM320 240.79h1v6.66h-1zM320 407.19h1v6.66h-1zM321 240.79h1v6.66h-1zM321 387.22h1v6.66h-1zM322 134.3h1v6.66h-1zM322 200.86h1v6.66h-1zM322 533.66h1v6.66h-1zM322 566.94h1v6.66h-1zM322 633.5h1v6.66h-1zM322 939.67h1v6.66h-1zM323 972.95h1v6.66h-1zM324 27.8h1v6.66h-1zM324 81.05h1v6.66h-1zM324 174.23h1v6.66h-1zM324 626.84h1v6.66h-1zM324 673.43h1v6.66h-1zM325 81.05h1v6.66h-1zM325 194.2h1v6.66h-1zM325 806.55h1v6.66h-1zM325 959.64h1v6.66h-1zM326 260.76h1v6.66h-1zM326 387.22h1v6.66h-1zM326 773.27h1v6.66h-1zM326 893.08h1v6.66h-1zM327 194.2h1v6.66h-1zM327 886.42h1v6.66h-1zM328 546.97h1v6.66h-1zM328 700.06h1v6.66h-1zM329 400.54h1v6.66h-1zM330 247.45h1v6.66h-1zM330 360.6h1v6.66h-1zM330 686.74h1v6.66h-1zM331 81.05h1v6.66h-1zM331 427.16h1v6.66h-1zM333 480.41h1v6.66h-1zM333 513.69h1v6.66h-1zM333 686.74h1v6.66h-1zM334 400.54h1v6.66h-1zM334 593.56h1v6.66h-1zM335 87.7h1v6.66h-1zM335 127.64h1v6.66h-1zM335 340.63h1v6.66h-1zM335 380.57h1v6.66h-1zM335 407.19h1v6.66h-1zM335 460.44h1v13.31h-1zM335 839.83h1v6.66h-1zM337 127.64h1v6.66h-1zM337 214.17h1v6.66h-1zM337 234.14h1v6.66h-1zM337 260.76h1v6.66h-1zM337 307.35h1v6.66h-1zM337 380.57h1v6.66h-1zM337 473.75h1v6.66h-1zM337 706.71h1v6.66h-1zM337 779.93h1v6.66h-1zM338 27.8h1v6.66h-1zM338 61.08h1v6.66h-1zM338 214.17h1v6.66h-1zM338 234.14h1v6.66h-1zM338 333.98h1v6.66h-1zM338 819.86h1v6.66h-1zM339 61.08h1v6.66h-1zM339 260.76h1v6.66h-1zM339 407.19h1v6.66h-1zM339 546.97h1v6.66h-1zM339 786.58h1v6.66h-1zM340 180.89h1v6.66h-1zM340 214.17h1v6.66h-1zM340 227.48h1v6.66h-1zM340 353.94h1v6.66h-1zM340 387.22h1v6.66h-1zM340 433.82h1v6.66h-1zM340 467.1h1v6.66h-1zM340 700.06h1v6.66h-1zM340 813.21h1v6.66h-1zM341 27.8h1v6.66h-1zM341 340.63h1v6.66h-1zM342 247.45h1v6.66h-1zM342 400.54h1v6.66h-1zM343 174.23h1v6.66h-1zM343 240.79h1v6.66h-1zM343 393.88h1v6.66h-1zM344 140.95h1v6.66h-1zM345 154.26h1v6.66h-1zM345 200.86h1v6.66h-1zM345 307.35h1v6.66h-1zM345 320.66h1v6.66h-1zM345 660.12h1v13.31h-1zM346 240.79h1v6.66h-1zM346 859.8h1v6.66h-1zM347 81.05h1v6.66h-1zM348 906.39h1v6.66h-1zM351 134.3h1v6.66h-1zM352 400.54h1v6.66h-1zM353 160.92h1v6.66h-1zM353 700.06h1v6.66h-1zM354 207.51h1v6.66h-1zM354 347.29h1v6.66h-1zM354 640.15h1v6.66h-1zM355 167.58h1v6.66h-1zM355 879.77h1v6.66h-1zM356 61.08h1v6.66h-1zM356 353.94h1v6.66h-1zM357 274.07h1v6.66h-1zM357 300.7h1v6.66h-1zM357 813.21h1v6.66h-1zM358 247.45h1v6.66h-1zM359 320.66h1v6.66h-1zM360 180.89h1v6.66h-1zM361 307.35h1v6.66h-1zM361 347.29h1v6.66h-1zM361 613.53h1v6.66h-1zM361 919.7h1v6.66h-1zM363 140.95h1v6.66h-1zM363 180.89h1v6.66h-1zM363 207.51h1v6.66h-1zM363 274.07h1v6.66h-1zM363 799.9h1v6.66h-1zM363 972.95h1v6.66h-1zM365 353.94h1v6.66h-1zM365 513.69h1v6.66h-1zM365 540.31h1v6.66h-1zM365 560.28h1v6.66h-1zM365 593.56h1v6.66h-1zM365 653.46h1v6.66h-1zM366 81.05h1v6.66h-1zM366 367.26h1v6.66h-1zM366 500.38h1v6.66h-1zM367 81.05h1v6.66h-1zM367 134.3h1v6.66h-1zM367 160.92h1v6.66h-1zM367 200.86h1v6.66h-1zM367 247.45h1v6.66h-1zM367 307.35h1v6.66h-1zM367 540.31h1v6.66h-1zM367 833.18h1v6.66h-1zM368 407.19h1v6.66h-1zM368 546.97h1v6.66h-1zM368 600.22h1v6.66h-1zM368 906.39h1v6.66h-1zM368 972.95h1v6.66h-1zM369 866.46h1v6.66h-1zM369 939.67h1v6.66h-1zM369 972.95h1v6.66h-1zM370 81.05h1v6.66h-1zM370 160.92h1v6.66h-1zM370 347.29h1v6.66h-1zM373 480.41h1v6.66h-1zM373 493.72h1v6.66h-1zM373 626.84h1v6.66h-1zM374 87.7h1v6.66h-1zM374 280.73h1v6.66h-1zM374 493.72h1v6.66h-1zM375 140.95h1v6.66h-1zM375 340.63h1v6.66h-1zM377 87.7h1v6.66h-1zM377 280.73h1v6.66h-1zM378 493.72h1v6.66h-1zM378 613.53h1v6.66h-1zM379 660.12h1v6.66h-1zM381 340.63h1v6.66h-1zM381 573.59h1v6.66h-1zM382 214.17h1v6.66h-1zM382 972.95h1v6.66h-1zM383 114.33h1v6.66h-1zM384 27.8h1v6.66h-1zM384 294.04h1v6.66h-1zM384 873.11h1v6.66h-1zM385 127.64h1v6.66h-1zM385 247.45h1v6.66h-1zM385 453.78h1v6.66h-1zM385 646.81h1v6.66h-1zM386 27.8h1v6.66h-1zM386 360.6h1v13.31h-1zM386 407.19h1v6.66h-1zM386 520.34h1v6.66h-1zM386 946.33h1v6.66h-1zM387 160.92h1v6.66h-1zM388 726.68h1v6.66h-1zM388 859.8h1v6.66h-1z"/><path fill="#8c8c84" fill-opacity="0.42" d="M274 706.71h1v6.66h-1zM275 573.59h1v6.66h-1zM275 646.81h1v6.66h-1zM276 493.72h1v6.66h-1zM278 260.76h1v6.66h-1zM278 387.22h1v6.66h-1zM278 533.66h1v6.66h-1zM280 340.63h1v6.66h-1zM280 493.72h1v6.66h-1zM280 839.83h1v6.66h-1zM281 114.33h1v6.66h-1zM282 214.17h1v6.66h-1zM285 61.08h1v6.66h-1zM285 360.6h1v6.66h-1zM286 81.05h1v6.66h-1zM286 167.58h1v6.66h-1zM287 227.48h1v6.66h-1zM289 94.36h1v6.66h-1zM290 367.26h1v6.66h-1zM290 566.94h1v6.66h-1zM290 899.74h1v6.66h-1zM292 407.19h1v6.66h-1zM292 433.82h1v6.66h-1zM294 81.05h1v6.66h-1zM296 833.18h1v6.66h-1zM297 81.05h1v6.66h-1zM297 400.54h1v6.66h-1zM297 586.9h1v6.66h-1zM297 666.78h1v6.66h-1zM300 280.73h1v6.66h-1zM300 420.5h1v6.66h-1zM300 473.75h1v6.66h-1zM301 473.75h1v6.66h-1zM302 387.22h1v6.66h-1zM302 779.93h1v6.66h-1zM305 387.22h1v6.66h-1zM306 793.24h1v6.66h-1zM307 307.35h1v6.66h-1zM310 114.33h1v6.66h-1zM313 786.58h1v6.66h-1zM315 300.7h1v6.66h-1zM315 666.78h1v6.66h-1zM315 686.74h1v6.66h-1zM315 793.24h1v6.66h-1zM316 314.01h1v6.66h-1zM317 407.19h1v6.66h-1zM318 154.26h1v6.66h-1zM319 347.29h1v6.66h-1zM324 387.22h1v6.66h-1zM324 753.3h1v6.66h-1zM325 360.6h1v6.66h-1zM325 939.67h1v6.66h-1zM326 393.88h1v6.66h-1zM327 234.14h1v6.66h-1zM328 61.08h1v6.66h-1zM328 500.38h1v6.66h-1zM330 420.5h1v6.66h-1zM330 606.87h1v6.66h-1zM333 160.92h1v6.66h-1zM333 367.26h1v6.66h-1zM333 600.22h1v6.66h-1zM335 287.38h1v6.66h-1zM335 373.91h1v6.66h-1zM335 720.02h1v6.66h-1zM339 333.98h1v6.66h-1zM339 433.82h1v6.66h-1zM339 487.06h1v6.66h-1zM340 27.8h1v6.66h-1zM341 393.88h1v6.66h-1zM342 347.29h1v6.66h-1zM342 779.93h1v6.66h-1zM343 140.95h1v6.66h-1zM343 380.57h1v6.66h-1zM343 753.3h1v6.66h-1zM344 566.94h1v6.66h-1zM345 61.08h1v6.66h-1zM345 81.05h1v6.66h-1zM345 387.22h1v6.66h-1zM345 420.5h1v6.66h-1zM345 793.24h1v6.66h-1zM346 393.88h1v6.66h-1zM346 853.14h1v6.66h-1zM348 294.04h1v6.66h-1zM348 407.19h1v6.66h-1zM348 566.94h1v6.66h-1zM351 333.98h1v6.66h-1zM351 560.28h1v6.66h-1zM352 853.14h1v6.66h-1zM353 773.27h1v6.66h-1zM354 400.54h1v6.66h-1zM355 340.63h1v6.66h-1zM355 533.66h1v6.66h-1zM359 174.23h1v6.66h-1zM360 87.7h1v6.66h-1zM364 380.57h1v6.66h-1zM365 833.18h1v6.66h-1zM365 919.7h1v6.66h-1zM367 87.7h1v6.66h-1zM367 513.69h1v6.66h-1zM368 427.16h1v6.66h-1zM371 327.32h1v6.66h-1zM378 500.38h1v6.66h-1zM378 739.99h1v6.66h-1zM379 573.59h1v6.66h-1zM380 280.73h1v6.66h-1zM382 247.45h1v6.66h-1zM384 127.64h1v6.66h-1zM384 227.48h1v6.66h-1zM384 347.29h1v6.66h-1zM384 373.91h1v6.66h-1zM385 400.54h1v6.66h-1zM385 700.06h1v6.66h-1zM388 160.92h1v6.66h-1zM388 939.67h1v6.66h-1z"/><path fill="#a8a080" fill-opacity="0.38" d="M275 47.77h1v6.66h-1zM275 220.82h1v6.66h-1zM289 47.77h1v13.31h-1zM295 220.82h1v6.66h-1zM302 67.74h1v6.66h-1zM302 220.82h1v6.66h-1zM305 47.77h1v6.66h-1zM315 220.82h1v6.66h-1zM325 47.77h1v6.66h-1zM340 54.42h1v6.66h-1zM342 67.74h1v6.66h-1z"/><path fill="#caa892" fill-opacity="0.42" d="M275 61.08h1v6.66h-1zM275 274.07h1v6.66h-1zM275 480.41h1v6.66h-1zM276 61.08h1v6.66h-1zM276 200.86h1v6.66h-1zM276 340.63h1v6.66h-1zM277 553.62h1v6.66h-1zM282 473.75h1v6.66h-1zM282 646.81h1v6.66h-1zM282 893.08h1v6.66h-1zM285 314.01h1v6.66h-1zM286 893.08h1v6.66h-1zM287 61.08h1v6.66h-1zM288 140.95h1v6.66h-1zM290 254.1h1v6.66h-1zM290 333.98h1v6.66h-1zM290 846.49h1v6.66h-1zM292 87.7h1v6.66h-1zM294 140.95h1v6.66h-1zM295 467.1h1v6.66h-1zM296 314.01h1v6.66h-1zM297 340.63h1v6.66h-1zM297 393.88h1v6.66h-1zM300 267.42h1v6.66h-1zM301 380.57h1v6.66h-1zM306 626.84h1v6.66h-1zM307 27.8h1v6.66h-1zM308 380.57h1v6.66h-1zM311 353.94h1v6.66h-1zM315 400.54h1v6.66h-1zM316 393.88h1v6.66h-1zM316 553.62h1v6.66h-1zM316 952.98h1v6.66h-1zM317 227.48h1v6.66h-1zM317 413.85h1v6.66h-1zM321 373.91h1v6.66h-1zM324 360.6h1v6.66h-1zM325 27.8h1v6.66h-1zM325 400.54h1v6.66h-1zM326 314.01h1v6.66h-1zM326 327.32h1v6.66h-1zM327 327.32h1v6.66h-1zM327 640.15h1v6.66h-1zM328 333.98h1v6.66h-1zM328 427.16h1v6.66h-1zM329 373.91h1v6.66h-1zM333 360.6h1v6.66h-1zM333 400.54h1v6.66h-1zM334 247.45h1v6.66h-1zM334 373.91h1v6.66h-1zM335 706.71h1v6.66h-1zM337 700.06h1v6.66h-1zM339 154.26h1v6.66h-1zM341 347.29h1v6.66h-1zM344 87.7h1v6.66h-1zM345 27.8h1v6.66h-1zM345 134.3h1v6.66h-1zM345 360.6h1v6.66h-1zM345 400.54h1v6.66h-1zM345 879.77h1v6.66h-1zM347 140.95h1v6.66h-1zM348 527h1v6.66h-1zM349 407.19h1v6.66h-1zM349 460.44h1v6.66h-1zM350 540.31h1v6.66h-1zM350 566.94h1v6.66h-1zM350 739.99h1v6.66h-1zM351 280.73h1v6.66h-1zM352 387.22h1v6.66h-1zM353 813.21h1v6.66h-1zM356 653.46h1v6.66h-1zM363 553.62h1v6.66h-1zM364 360.6h1v6.66h-1zM367 926.36h1v6.66h-1zM368 373.91h1v6.66h-1zM373 407.19h1v6.66h-1zM373 540.31h1v6.66h-1zM376 127.64h1v6.66h-1zM377 194.2h1v6.66h-1zM377 227.48h1v6.66h-1zM379 260.76h1v6.66h-1zM379 966.3h1v6.66h-1zM382 400.54h1v6.66h-1zM382 813.21h1v6.66h-1zM383 380.57h1v6.66h-1zM386 586.9h1v6.66h-1z"/><path fill="#b84a30" fill-opacity="0.85" d="M275 101.02h1v6.66h-1zM275 187.54h1v6.66h-1zM278 107.67h1v6.66h-1zM280 101.02h1v6.66h-1zM282 107.67h1v6.66h-1zM286 107.67h1v6.66h-1zM286 187.54h1v6.66h-1zM289 107.67h1v6.66h-1zM290 101.02h1v13.31h-1zM290 187.54h1v6.66h-1zM291 187.54h1v6.66h-1zM293 107.67h1v6.66h-1zM298 187.54h1v6.66h-1zM303 187.54h1v6.66h-1zM309 101.02h1v6.66h-1zM310 101.02h1v6.66h-1zM311 101.02h1v6.66h-1zM315 187.54h1v6.66h-1zM316 187.54h1v6.66h-1zM321 101.02h1v6.66h-1zM325 107.67h1v6.66h-1zM328 101.02h1v13.31h-1zM331 107.67h1v6.66h-1zM332 101.02h1v13.31h-1zM336 107.67h1v6.66h-1zM337 101.02h1v6.66h-1zM339 101.02h1v6.66h-1zM342 101.02h1v6.66h-1zM345 101.02h1v6.66h-1zM345 187.54h1v6.66h-1zM346 187.54h1v6.66h-1zM351 107.67h1v6.66h-1zM353 187.54h1v6.66h-1zM365 101.02h1v6.66h-1zM366 101.02h1v6.66h-1zM368 107.67h1v6.66h-1zM371 187.54h1v6.66h-1zM374 187.54h1v6.66h-1zM388 101.02h1v6.66h-1z"/><path fill="#e2a2a0" fill-opacity="0.42" d="M275 307.35h1v6.66h-1zM275 333.98h1v6.66h-1zM275 693.4h1v6.66h-1zM276 826.52h1v6.66h-1zM278 214.17h1v6.66h-1zM279 380.57h1v6.66h-1zM279 586.9h1v6.66h-1zM282 360.6h1v6.66h-1zM282 613.53h1v6.66h-1zM282 713.37h1v6.66h-1zM286 373.91h1v6.66h-1zM290 393.88h1v6.66h-1zM294 240.79h1v6.66h-1zM294 333.98h1v6.66h-1zM301 700.06h1v6.66h-1zM302 360.6h1v6.66h-1zM305 773.27h1v6.66h-1zM306 207.51h1v6.66h-1zM306 367.26h1v6.66h-1zM309 959.64h1v6.66h-1zM313 207.51h1v6.66h-1zM313 413.85h1v6.66h-1zM313 620.18h1v6.66h-1zM316 739.99h1v6.66h-1zM322 207.51h1v6.66h-1zM322 487.06h1v6.66h-1zM323 480.41h1v6.66h-1zM324 693.4h1v6.66h-1zM327 27.8h1v6.66h-1zM328 81.05h1v6.66h-1zM328 720.02h1v6.66h-1zM329 267.42h1v6.66h-1zM329 314.01h1v6.66h-1zM330 274.07h1v6.66h-1zM336 61.08h1v6.66h-1zM339 347.29h1v6.66h-1zM346 267.42h1v6.66h-1zM350 440.47h1v6.66h-1zM350 560.28h1v6.66h-1zM355 926.36h1v6.66h-1zM358 320.66h1v6.66h-1zM366 952.98h1v6.66h-1zM367 866.46h1v6.66h-1zM367 913.05h1v6.66h-1zM370 360.6h1v6.66h-1zM376 380.57h1v6.66h-1zM379 114.33h1v6.66h-1zM381 420.5h1v6.66h-1zM385 280.73h1v6.66h-1zM386 527h1v6.66h-1z"/><path fill="#b87858" fill-opacity="0.4" d="M276 34.46h1v6.66h-1zM283 41.11h1v6.66h-1zM290 41.11h1v6.66h-1zM297 41.11h1v6.66h-1zM300 41.11h1v6.66h-1zM320 41.11h1v6.66h-1zM338 147.61h1v6.66h-1zM344 147.61h1v6.66h-1zM345 147.61h1v6.66h-1zM366 147.61h1v6.66h-1z"/><path fill="#a82228" fill-opacity="0.85" d="M276 101.02h1v6.66h-1zM279 187.54h1v6.66h-1zM281 101.02h1v6.66h-1zM283 187.54h1v6.66h-1zM286 101.02h1v6.66h-1zM289 101.02h1v6.66h-1zM289 187.54h1v6.66h-1zM293 187.54h1v6.66h-1zM294 101.02h1v6.66h-1zM296 107.67h1v6.66h-1zM297 101.02h1v6.66h-1zM301 101.02h1v6.66h-1zM312 101.02h1v6.66h-1zM315 107.67h1v6.66h-1zM316 107.67h1v6.66h-1zM318 187.54h1v6.66h-1zM322 101.02h1v6.66h-1zM322 187.54h1v6.66h-1zM324 101.02h1v6.66h-1zM325 187.54h1v6.66h-1zM326 107.67h1v6.66h-1zM327 187.54h1v6.66h-1zM328 187.54h1v6.66h-1zM330 101.02h1v6.66h-1zM333 101.02h1v13.31h-1zM338 187.54h1v6.66h-1zM342 187.54h1v6.66h-1zM344 101.02h1v6.66h-1zM348 101.02h1v6.66h-1zM348 187.54h1v6.66h-1zM349 107.67h1v6.66h-1zM350 107.67h1v6.66h-1zM354 107.67h1v6.66h-1zM355 107.67h1v6.66h-1zM361 101.02h1v6.66h-1zM361 187.54h1v6.66h-1zM363 101.02h1v6.66h-1zM363 187.54h1v6.66h-1zM367 101.02h1v6.66h-1zM368 187.54h1v6.66h-1zM374 101.02h1v6.66h-1zM378 107.67h1v6.66h-1zM384 187.54h1v6.66h-1zM385 187.54h1v6.66h-1zM386 187.54h1v6.66h-1z"/><path fill="#d0a088" fill-opacity="0.38" d="M278 54.42h1v6.66h-1zM279 67.74h1v6.66h-1zM286 220.82h1v6.66h-1zM290 47.77h1v13.31h-1zM324 47.77h1v6.66h-1zM329 47.77h1v6.66h-1zM337 47.77h1v6.66h-1zM345 220.82h1v6.66h-1zM348 220.82h1v6.66h-1zM354 67.74h1v6.66h-1zM359 67.74h1v6.66h-1zM385 220.82h1v6.66h-1z"/><path fill="#b42a2e" fill-opacity="0.85" d="M279 107.67h1v6.66h-1zM280 187.54h1v6.66h-1zM281 107.67h1v6.66h-1zM287 101.02h1v6.66h-1zM287 187.54h1v6.66h-1zM291 101.02h1v6.66h-1zM294 187.54h1v6.66h-1zM296 101.02h1v6.66h-1zM297 107.67h1v6.66h-1zM297 187.54h1v6.66h-1zM299 107.67h1v6.66h-1zM300 101.02h1v13.31h-1zM301 107.67h1v6.66h-1zM302 101.02h1v6.66h-1zM302 187.54h1v6.66h-1zM303 101.02h1v13.31h-1zM305 101.02h1v6.66h-1zM306 101.02h1v6.66h-1zM306 187.54h1v6.66h-1zM307 101.02h1v6.66h-1zM307 187.54h1v6.66h-1zM313 101.02h1v6.66h-1zM313 187.54h1v6.66h-1zM317 101.02h1v13.31h-1zM320 101.02h1v6.66h-1zM324 187.54h1v6.66h-1zM329 101.02h1v6.66h-1zM330 107.67h1v6.66h-1zM333 187.54h1v6.66h-1zM339 187.54h1v6.66h-1zM340 187.54h1v6.66h-1zM353 101.02h1v6.66h-1zM359 107.67h1v6.66h-1zM364 187.54h1v6.66h-1zM366 107.67h1v6.66h-1zM368 101.02h1v6.66h-1zM369 187.54h1v6.66h-1zM370 101.02h1v6.66h-1zM373 187.54h1v6.66h-1zM374 107.67h1v6.66h-1zM378 187.54h1v6.66h-1zM382 107.67h1v6.66h-1zM384 101.02h1v6.66h-1zM386 101.02h1v6.66h-1zM388 107.67h1v6.66h-1z"/><path fill="#b89a7a" fill-opacity="0.38" d="M281 220.82h1v6.66h-1zM282 67.74h1v6.66h-1zM290 220.82h1v6.66h-1zM302 54.42h1v6.66h-1zM306 67.74h1v6.66h-1zM313 54.42h1v6.66h-1zM317 54.42h1v6.66h-1zM321 67.74h1v6.66h-1zM322 220.82h1v6.66h-1zM324 54.42h1v6.66h-1zM326 54.42h1v6.66h-1zM327 220.82h1v6.66h-1zM336 54.42h1v6.66h-1zM337 67.74h1v6.66h-1zM338 67.74h1v6.66h-1z"/><path fill="#a0ac98" fill-opacity="0.3" d="M274 87.7h1v13.31h-1zM280 87.7h1v13.31h-1zM295 81.05h1v19.97h-1zM297 81.05h1v19.97h-1zM300 87.7h1v13.31h-1zM309 81.05h1v19.97h-1zM318 81.05h1v19.97h-1zM326 81.05h1v6.66h-1zM326 94.36h1v6.66h-1zM327 81.05h1v6.66h-1zM329 81.05h1v19.97h-1zM345 81.05h1v19.97h-1zM368 94.36h1v6.66h-1zM374 94.36h1v6.66h-1zM378 94.36h1v6.66h-1zM383 81.05h1v19.97h-1zM296 67.74h1v6.66h-1zM297 61.08h1v6.66h-1zM319 41.11h1v33.28h-1zM334 61.08h1v13.31h-1z"/><path fill="#c0b4a8" fill-opacity="0.3" d="M276 87.7h1v13.31h-1zM278 81.05h1v19.97h-1zM286 87.7h1v13.31h-1zM292 94.36h1v6.66h-1zM293 81.05h1v19.97h-1zM305 87.7h1v13.31h-1zM308 81.05h1v19.97h-1zM311 94.36h1v6.66h-1zM314 87.7h1v13.31h-1zM316 81.05h1v19.97h-1zM319 87.7h1v13.31h-1zM328 81.05h1v6.66h-1zM340 81.05h1v19.97h-1zM352 81.05h1v19.97h-1zM353 94.36h1v6.66h-1zM356 81.05h1v13.31h-1zM373 81.05h1v6.66h-1zM386 81.05h1v13.31h-1zM280 34.46h1v39.94h-1zM303 54.42h1v6.66h-1zM304 67.74h1v6.66h-1zM320 61.08h1v13.31h-1zM337 54.42h1v13.31h-1zM344 54.42h1v13.31h-1zM369 67.74h1v6.66h-1z"/><path fill="#a8b4a0" fill-opacity="0.3" d="M279 87.7h1v6.66h-1zM290 87.7h1v6.66h-1zM291 81.05h1v19.97h-1zM301 81.05h1v19.97h-1zM306 81.05h1v19.97h-1zM327 94.36h1v6.66h-1zM331 87.7h1v13.31h-1zM347 81.05h1v13.31h-1zM351 87.7h1v13.31h-1zM357 87.7h1v13.31h-1zM359 94.36h1v6.66h-1zM363 81.05h1v19.97h-1zM364 87.7h1v13.31h-1zM387 81.05h1v19.97h-1zM290 67.74h1v6.66h-1zM292 47.77h1v26.62h-1zM293 61.08h1v13.31h-1zM294 54.42h1v6.66h-1zM298 61.08h1v13.31h-1zM310 41.11h1v33.28h-1zM311 61.08h1v13.31h-1zM318 41.11h1v33.28h-1zM339 67.74h1v6.66h-1zM345 61.08h1v13.31h-1zM352 61.08h1v13.31h-1zM358 61.08h1v13.31h-1z"/><path fill="#b4b8a4" fill-opacity="0.3" d="M285 81.05h1v19.97h-1zM294 87.7h1v13.31h-1zM303 87.7h1v13.31h-1zM304 81.05h1v19.97h-1zM313 94.36h1v6.66h-1zM319 81.05h1v6.66h-1zM322 87.7h1v13.31h-1zM323 94.36h1v6.66h-1zM324 81.05h1v13.31h-1zM335 81.05h1v19.97h-1zM339 81.05h1v19.97h-1zM346 87.7h1v13.31h-1zM354 87.7h1v13.31h-1zM360 87.7h1v13.31h-1zM369 94.36h1v6.66h-1zM370 81.05h1v6.66h-1zM377 81.05h1v19.97h-1zM381 87.7h1v13.31h-1zM275 47.77h1v26.62h-1zM276 61.08h1v6.66h-1zM281 34.46h1v39.94h-1zM303 67.74h1v6.66h-1zM312 54.42h1v19.97h-1zM316 54.42h1v13.31h-1zM347 61.08h1v13.31h-1zM356 61.08h1v6.66h-1z"/><rect x="273.5" y="27.8" width="14" height="6.66" fill="#96a878"/><rect x="287.5" y="34.46" width="32.5" height="6.66" fill="#cc6672"/><rect x="287.5" y="41.11" width="9" height="6.66" fill="#9a9a6a"/><rect x="320" y="41.11" width="19.4" height="6.66" fill="#d05058"/><rect x="298" y="47.77" width="6.3" height="6.66" fill="#9aa070"/><rect x="339.4" y="47.77" width="12.2" height="6.66" fill="#90a068"/><rect x="304" y="54.42" width="4" height="6.66" fill="#a09070"/><rect x="351.6" y="54.42" width="8.4" height="6.66" fill="#b08870"/><rect x="360" y="61.08" width="4" height="6.66" fill="#a09878"/><rect x="321" y="67.74" width="13" height="6.66" fill="#8fa870"/><rect x="364" y="67.74" width="5" height="6.66" fill="#90a070"/><rect x="273.5" y="74.39" width="100.9" height="6.66" fill="#c4403f"/></g><rect x="391.3" y="27.8" width="9.6" height="206.34" fill="#d6e29e"/><rect x="391.3" y="234.14" width="9.6" height="99.84" fill="#fbcb4e"/><rect x="391.3" y="333.98" width="9.6" height="79.87" fill="#f6a126"/><rect x="391.3" y="413.85" width="9.6" height="565.76" fill="#bbbbbf"/><text x="69.2" y="21" font-family="Liberation Sans" font-size="11.2" text-anchor="middle" fill="#1a1a1a">FL</text><text x="200.1" y="21" font-family="Liberation Sans" font-size="11.2" text-anchor="middle" fill="#1a1a1a">DLBCL</text><text x="331.4" y="21" font-family="Liberation Sans" font-size="11.2" text-anchor="middle" fill="#1a1a1a">BL</text><rect x="10.9" y="982.8" width="128.3" height="10.7" fill="#ec7f68" stroke="#c8604c" stroke-width="0.6"/><rect x="142.5" y="982.8" width="128.7" height="10.7" fill="#3e9650" stroke="#2a7038" stroke-width="0.6"/><rect x="274.5" y="982.8" width="128.6" height="10.7" fill="#9468b2" stroke="#6a4a88" stroke-width="0.6"/><text x="425.6" y="33.73" font-family="Liberation Sans" font-size="6.4" text-anchor="middle" fill="#111" stroke="#111" stroke-width="0.15">GNAI2</text><text x="425.6" y="40.38" font-family="Liberation Sans" font-size="6.4" text-anchor="middle" fill="#111" stroke="#111" stroke-width="0.15">ARID1A</text><text x="425.6" y="47.04" font-family="Liberation Sans" font-size="6.4" text-anchor="middle" fill="#111" stroke="#111" stroke-width="0.15">CCND3</text><text x="425.6" y="53.7" font-family="Liberation Sans" font-size="6.4" text-anchor="middle" fill="#111" stroke="#111" stroke-width="0.15">FOXO1</text><text x="425.6" y="60.35" font-family="Liberation Sans" font-size="6.4" text-anchor="middle" fill="#111" stroke="#111" stroke-width="0.15">GNA13</text><text x="425.6" y="67.01" font-family="Liberation Sans" font-size="6.4" text-anchor="middle" fill="#111" stroke="#111" stroke-width="0.15">KMT2D</text><text x="425.6" y="73.66" font-family="Liberation Sans" font-size="6.4" text-anchor="middle" fill="#111" stroke="#111" stroke-width="0.15">SMARCA4</text><text x="425.6" y="80.32" font-family="Liberation Sans" font-size="6.4" text-anchor="middle" fill="#111" stroke="#111" stroke-width="0.15">TP53</text><text x="425.6" y="86.98" font-family="Liberation Sans" font-size="6.4" text-anchor="middle" fill="#111" stroke="#111" stroke-width="0.15">BCL6</text><text x="425.6" y="93.63" font-family="Liberation Sans" font-size="6.4" text-anchor="middle" fill="#111" stroke="#111" stroke-width="0.15">BCL7A</text><text x="425.6" y="100.29" font-family="Liberation Sans" font-size="6.4" text-anchor="middle" fill="#111" stroke="#111" stroke-width="0.15">HIST1H1E</text><text x="425.6" y="106.94" font-family="Liberation Sans" font-size="6.4" text-anchor="middle" fill="#111" stroke="#111" stroke-width="0.15">MYC</text><text x="425.6" y="113.6" font-family="Liberation Sans" font-size="6.4" text-anchor="middle" fill="#111" stroke="#111" stroke-width="0.15">DDX3X</text><text x="425.6" y="120.26" font-family="Liberation Sans" font-size="6.4" text-anchor="middle" fill="#111" stroke="#111" stroke-width="0.15">P2RY8</text><text x="425.6" y="126.91" font-family="Liberation Sans" font-size="6.4" text-anchor="middle" fill="#111" stroke="#111" stroke-width="0.15">HNRNPU</text><text x="425.6" y="133.57" font-family="Liberation Sans" font-size="6.4" text-anchor="middle" fill="#111" stroke="#111" stroke-width="0.15">PTEN</text><text x="425.6" y="140.22" font-family="Liberation Sans" font-size="6.4" text-anchor="middle" fill="#111" stroke="#111" stroke-width="0.15">RFX7</text><text x="425.6" y="146.88" font-family="Liberation Sans" font-size="6.4" text-anchor="middle" fill="#111" stroke="#111" stroke-width="0.15">SIN3A</text><text x="425.6" y="153.54" font-family="Liberation Sans" font-size="6.4" text-anchor="middle" fill="#111" stroke="#111" stroke-width="0.15">FBXO11</text><text x="425.6" y="160.19" font-family="Liberation Sans" font-size="6.4" text-anchor="middle" fill="#111" stroke="#111" stroke-width="0.15">RHOA</text><text x="425.6" y="166.85" font-family="Liberation Sans" font-size="6.4" text-anchor="middle" fill="#111" stroke="#111" stroke-width="0.15">PCBP1</text><text x="425.6" y="173.5" font-family="Liberation Sans" font-size="6.4" text-anchor="middle" fill="#111" stroke="#111" stroke-width="0.15">USP7</text><text x="425.6" y="180.16" font-family="Liberation Sans" font-size="6.4" text-anchor="middle" fill="#111" stroke="#111" stroke-width="0.15">WNK1</text><text x="425.6" y="186.82" font-family="Liberation Sans" font-size="6.4" text-anchor="middle" fill="#111" stroke="#111" stroke-width="0.15">TCL1A</text><text x="425.6" y="193.47" font-family="Liberation Sans" font-size="6.4" text-anchor="middle" fill="#111" stroke="#111" stroke-width="0.15">ID3</text><text x="425.6" y="200.13" font-family="Liberation Sans" font-size="6.4" text-anchor="middle" fill="#111" stroke="#111" stroke-width="0.15">PHF6</text><text x="425.6" y="206.78" font-family="Liberation Sans" font-size="6.4" text-anchor="middle" fill="#111" stroke="#111" stroke-width="0.15">BACH2</text><text x="425.6" y="213.44" font-family="Liberation Sans" font-size="6.4" text-anchor="middle" fill="#111" stroke="#111" stroke-width="0.15">BMP7</text><text x="425.6" y="220.1" font-family="Liberation Sans" font-size="6.4" text-anchor="middle" fill="#111" stroke="#111" stroke-width="0.15">CHD8</text><text x="425.6" y="226.75" font-family="Liberation Sans" font-size="6.4" text-anchor="middle" fill="#111" stroke="#111" stroke-width="0.15">TCF3</text><text x="425.6" y="233.41" font-family="Liberation Sans" font-size="6.4" text-anchor="middle" fill="#111" stroke="#111" stroke-width="0.15">TFAP4</text><text x="425.6" y="240.06" font-family="Liberation Sans" font-size="6.4" text-anchor="middle" fill="#111" stroke="#111" stroke-width="0.15">CD83</text><text x="425.6" y="246.72" font-family="Liberation Sans" font-size="6.4" text-anchor="middle" fill="#111" stroke="#111" stroke-width="0.15">FBF1</text><text x="425.6" y="253.38" font-family="Liberation Sans" font-size="6.4" text-anchor="middle" fill="#111" stroke="#111" stroke-width="0.15">CREBBP</text><text x="425.6" y="260.03" font-family="Liberation Sans" font-size="6.4" text-anchor="middle" fill="#111" stroke="#111" stroke-width="0.15">EZH2</text><text x="425.6" y="266.69" font-family="Liberation Sans" font-size="6.4" text-anchor="middle" fill="#111" stroke="#111" stroke-width="0.15">BCL2</text><text x="425.6" y="273.34" font-family="Liberation Sans" font-size="6.4" text-anchor="middle" fill="#111" stroke="#111" stroke-width="0.15">IRF8</text><text x="425.6" y="280" font-family="Liberation Sans" font-size="6.4" text-anchor="middle" fill="#111" stroke="#111" stroke-width="0.15">PIM1</text><text x="425.6" y="286.66" font-family="Liberation Sans" font-size="6.4" text-anchor="middle" fill="#111" stroke="#111" stroke-width="0.15">CXCR4</text><text x="425.6" y="293.31" font-family="Liberation Sans" font-size="6.4" text-anchor="middle" fill="#111" stroke="#111" stroke-width="0.15">BTG1</text><text x="425.6" y="299.97" font-family="Liberation Sans" font-size="6.4" text-anchor="middle" fill="#111" stroke="#111" stroke-width="0.15">S1PR2</text><text x="425.6" y="306.62" font-family="Liberation Sans" font-size="6.4" text-anchor="middle" fill="#111" stroke="#111" stroke-width="0.15">IKZF3</text><text x="425.6" y="313.28" font-family="Liberation Sans" font-size="6.4" text-anchor="middle" fill="#111" stroke="#111" stroke-width="0.15">KMT2C</text><text x="425.6" y="319.94" font-family="Liberation Sans" font-size="6.4" text-anchor="middle" fill="#111" stroke="#111" stroke-width="0.15">TET2</text><text x="425.6" y="326.59" font-family="Liberation Sans" font-size="6.4" text-anchor="middle" fill="#111" stroke="#111" stroke-width="0.15">ZFP36L1</text><text x="425.6" y="333.25" font-family="Liberation Sans" font-size="6.4" text-anchor="middle" fill="#111" stroke="#111" stroke-width="0.15">CDKN2A</text><text x="425.6" y="339.9" font-family="Liberation Sans" font-size="6.4" text-anchor="middle" fill="#111" stroke="#111" stroke-width="0.15">HIST1H2AM</text><text x="425.6" y="346.56" font-family="Liberation Sans" font-size="6.4" text-anchor="middle" fill="#111" stroke="#111" stroke-width="0.15">HIST1H1C</text><text x="425.6" y="353.22" font-family="Liberation Sans" font-size="6.4" text-anchor="middle" fill="#111" stroke="#111" stroke-width="0.15">HIST1H2AG</text><text x="425.6" y="359.87" font-family="Liberation Sans" font-size="6.4" text-anchor="middle" fill="#111" stroke="#111" stroke-width="0.15">CD79B</text><text x="425.6" y="366.53" font-family="Liberation Sans" font-size="6.4" text-anchor="middle" fill="#111" stroke="#111" stroke-width="0.15">BTG2</text><text x="425.6" y="373.18" font-family="Liberation Sans" font-size="6.4" text-anchor="middle" fill="#111" stroke="#111" stroke-width="0.15">DTX1</text><text x="425.6" y="379.84" font-family="Liberation Sans" font-size="6.4" text-anchor="middle" fill="#111" stroke="#111" stroke-width="0.15">BRAF</text><text x="425.6" y="386.5" font-family="Liberation Sans" font-size="6.4" text-anchor="middle" fill="#111" stroke="#111" stroke-width="0.15">MTOR</text><text x="425.6" y="393.15" font-family="Liberation Sans" font-size="6.4" text-anchor="middle" fill="#111" stroke="#111" stroke-width="0.15">SF3B1</text><text x="425.6" y="399.81" font-family="Liberation Sans" font-size="6.4" text-anchor="middle" fill="#111" stroke="#111" stroke-width="0.15">ETS1</text><text x="425.6" y="406.46" font-family="Liberation Sans" font-size="6.4" text-anchor="middle" fill="#111" stroke="#111" stroke-width="0.15">HIST1H2BK</text><text x="425.6" y="413.12" font-family="Liberation Sans" font-size="6.4" text-anchor="middle" fill="#111" stroke="#111" stroke-width="0.15">NOTCH1</text><text x="425.6" y="419.78" font-family="Liberation Sans" font-size="6.4" text-anchor="middle" fill="#111" stroke="#111" stroke-width="0.15">BTK</text><text x="425.6" y="426.43" font-family="Liberation Sans" font-size="6.4" text-anchor="middle" fill="#111" stroke="#111" stroke-width="0.15">HVCN1</text><text x="425.6" y="433.09" font-family="Liberation Sans" font-size="6.4" text-anchor="middle" fill="#111" stroke="#111" stroke-width="0.15">ACTB</text><text x="425.6" y="439.74" font-family="Liberation Sans" font-size="6.4" text-anchor="middle" fill="#111" stroke="#111" stroke-width="0.15">HIST1H2AC</text><text x="425.6" y="446.4" font-family="Liberation Sans" font-size="6.4" text-anchor="middle" fill="#111" stroke="#111" stroke-width="0.15">HIST1H2BC</text><text x="425.6" y="453.06" font-family="Liberation Sans" font-size="6.4" text-anchor="middle" fill="#111" stroke="#111" stroke-width="0.15">IRF4</text><text x="425.6" y="459.71" font-family="Liberation Sans" font-size="6.4" text-anchor="middle" fill="#111" stroke="#111" stroke-width="0.15">POU2AF1</text><text x="425.6" y="466.37" font-family="Liberation Sans" font-size="6.4" text-anchor="middle" fill="#111" stroke="#111" stroke-width="0.15">TMSB4X</text><text x="425.6" y="473.02" font-family="Liberation Sans" font-size="6.4" text-anchor="middle" fill="#111" stroke="#111" stroke-width="0.15">B2M</text><text x="425.6" y="479.68" font-family="Liberation Sans" font-size="6.4" text-anchor="middle" fill="#111" stroke="#111" stroke-width="0.15">BCL10</text><text x="425.6" y="486.34" font-family="Liberation Sans" font-size="6.4" text-anchor="middle" fill="#111" stroke="#111" stroke-width="0.15">CARD11</text><text x="425.6" y="492.99" font-family="Liberation Sans" font-size="6.4" text-anchor="middle" fill="#111" stroke="#111" stroke-width="0.15">EEF1A1</text><text x="425.6" y="499.65" font-family="Liberation Sans" font-size="6.4" text-anchor="middle" fill="#111" stroke="#111" stroke-width="0.15">EP300</text><text x="425.6" y="506.3" font-family="Liberation Sans" font-size="6.4" text-anchor="middle" fill="#111" stroke="#111" stroke-width="0.15">FAS</text><text x="425.6" y="512.96" font-family="Liberation Sans" font-size="6.4" text-anchor="middle" fill="#111" stroke="#111" stroke-width="0.15">POU2F2</text><text x="425.6" y="519.62" font-family="Liberation Sans" font-size="6.4" text-anchor="middle" fill="#111" stroke="#111" stroke-width="0.15">RRAGC</text><text x="425.6" y="526.27" font-family="Liberation Sans" font-size="6.4" text-anchor="middle" fill="#111" stroke="#111" stroke-width="0.15">STAT6</text><text x="425.6" y="532.93" font-family="Liberation Sans" font-size="6.4" text-anchor="middle" fill="#111" stroke="#111" stroke-width="0.15">TBL1XR1</text><text x="425.6" y="539.58" font-family="Liberation Sans" font-size="6.4" text-anchor="middle" fill="#111" stroke="#111" stroke-width="0.15">TNFAIP3</text><text x="425.6" y="546.24" font-family="Liberation Sans" font-size="6.4" text-anchor="middle" fill="#111" stroke="#111" stroke-width="0.15">TNFRSF14</text><text x="425.6" y="552.9" font-family="Liberation Sans" font-size="6.4" text-anchor="middle" fill="#111" stroke="#111" stroke-width="0.15">HIST1H1B</text><text x="425.6" y="559.55" font-family="Liberation Sans" font-size="6.4" text-anchor="middle" fill="#111" stroke="#111" stroke-width="0.15">HIST1H1D</text><text x="425.6" y="566.21" font-family="Liberation Sans" font-size="6.4" text-anchor="middle" fill="#111" stroke="#111" stroke-width="0.15">KLHL6</text><text x="425.6" y="572.86" font-family="Liberation Sans" font-size="6.4" text-anchor="middle" fill="#111" stroke="#111" stroke-width="0.15">MEF2B</text><text x="425.6" y="579.52" font-family="Liberation Sans" font-size="6.4" text-anchor="middle" fill="#111" stroke="#111" stroke-width="0.15">SGK1</text><text x="425.6" y="586.18" font-family="Liberation Sans" font-size="6.4" text-anchor="middle" fill="#111" stroke="#111" stroke-width="0.15">SOCS1</text><text x="425.6" y="592.83" font-family="Liberation Sans" font-size="6.4" text-anchor="middle" fill="#111" stroke="#111" stroke-width="0.15">MAP2K1</text><text x="425.6" y="599.49" font-family="Liberation Sans" font-size="6.4" text-anchor="middle" fill="#111" stroke="#111" stroke-width="0.15">ATP6AP1</text><text x="425.6" y="606.14" font-family="Liberation Sans" font-size="6.4" text-anchor="middle" fill="#111" stroke="#111" stroke-width="0.15">ATP6V1B2</text><text x="425.6" y="612.8" font-family="Liberation Sans" font-size="6.4" text-anchor="middle" fill="#111" stroke="#111" stroke-width="0.15">CTSS</text><text x="425.6" y="619.46" font-family="Liberation Sans" font-size="6.4" text-anchor="middle" fill="#111" stroke="#111" stroke-width="0.15">HIST1H2BG</text><text x="425.6" y="626.11" font-family="Liberation Sans" font-size="6.4" text-anchor="middle" fill="#111" stroke="#111" stroke-width="0.15">VMA21</text><text x="425.6" y="632.77" font-family="Liberation Sans" font-size="6.4" text-anchor="middle" fill="#111" stroke="#111" stroke-width="0.15">BIRC6</text><text x="425.6" y="639.42" font-family="Liberation Sans" font-size="6.4" text-anchor="middle" fill="#111" stroke="#111" stroke-width="0.15">CD70</text><text x="425.6" y="646.08" font-family="Liberation Sans" font-size="6.4" text-anchor="middle" fill="#111" stroke="#111" stroke-width="0.15">HLA-B</text><text x="425.6" y="652.74" font-family="Liberation Sans" font-size="6.4" text-anchor="middle" fill="#111" stroke="#111" stroke-width="0.15">NFKBIA</text><text x="425.6" y="659.39" font-family="Liberation Sans" font-size="6.4" text-anchor="middle" fill="#111" stroke="#111" stroke-width="0.15">ZC3H12A</text><text x="425.6" y="666.05" font-family="Liberation Sans" font-size="6.4" text-anchor="middle" fill="#111" stroke="#111" stroke-width="0.15">ZNF608</text><text x="425.6" y="672.7" font-family="Liberation Sans" font-size="6.4" text-anchor="middle" fill="#111" stroke="#111" stroke-width="0.15">ACTG1</text><text x="425.6" y="679.36" font-family="Liberation Sans" font-size="6.4" text-anchor="middle" fill="#111" stroke="#111" stroke-width="0.15">DUSP2</text><text x="425.6" y="686.02" font-family="Liberation Sans" font-size="6.4" text-anchor="middle" fill="#111" stroke="#111" stroke-width="0.15">HIST1H3B</text><text x="425.6" y="692.67" font-family="Liberation Sans" font-size="6.4" text-anchor="middle" fill="#111" stroke="#111" stroke-width="0.15">ITPKB</text><text x="425.6" y="699.33" font-family="Liberation Sans" font-size="6.4" text-anchor="middle" fill="#111" stroke="#111" stroke-width="0.15">KLF2</text><text x="425.6" y="705.98" font-family="Liberation Sans" font-size="6.4" text-anchor="middle" fill="#111" stroke="#111" stroke-width="0.15">LTB</text><text x="425.6" y="712.64" font-family="Liberation Sans" font-size="6.4" text-anchor="middle" fill="#111" stroke="#111" stroke-width="0.15">MYD88</text><text x="425.6" y="719.3" font-family="Liberation Sans" font-size="6.4" text-anchor="middle" fill="#111" stroke="#111" stroke-width="0.15">TMEM30A</text><text x="425.6" y="725.95" font-family="Liberation Sans" font-size="6.4" text-anchor="middle" fill="#111" stroke="#111" stroke-width="0.15">MEF2C</text><text x="425.6" y="732.61" font-family="Liberation Sans" font-size="6.4" text-anchor="middle" fill="#111" stroke="#111" stroke-width="0.15">ATM</text><text x="425.6" y="739.26" font-family="Liberation Sans" font-size="6.4" text-anchor="middle" fill="#111" stroke="#111" stroke-width="0.15">CXCR5</text><text x="425.6" y="745.92" font-family="Liberation Sans" font-size="6.4" text-anchor="middle" fill="#111" stroke="#111" stroke-width="0.15">GRB2</text><text x="425.6" y="752.58" font-family="Liberation Sans" font-size="6.4" text-anchor="middle" fill="#111" stroke="#111" stroke-width="0.15">HLA-A</text><text x="425.6" y="759.23" font-family="Liberation Sans" font-size="6.4" text-anchor="middle" fill="#111" stroke="#111" stroke-width="0.15">HLA-C</text><text x="425.6" y="765.89" font-family="Liberation Sans" font-size="6.4" text-anchor="middle" fill="#111" stroke="#111" stroke-width="0.15">HLA-DMB</text><text x="425.6" y="772.54" font-family="Liberation Sans" font-size="6.4" text-anchor="middle" fill="#111" stroke="#111" stroke-width="0.15">JUNB</text><text x="425.6" y="779.2" font-family="Liberation Sans" font-size="6.4" text-anchor="middle" fill="#111" stroke="#111" stroke-width="0.15">KRAS</text><text x="425.6" y="785.86" font-family="Liberation Sans" font-size="6.4" text-anchor="middle" fill="#111" stroke="#111" stroke-width="0.15">LCOR</text><text x="425.6" y="792.51" font-family="Liberation Sans" font-size="6.4" text-anchor="middle" fill="#111" stroke="#111" stroke-width="0.15">LRRN3</text><text x="425.6" y="799.17" font-family="Liberation Sans" font-size="6.4" text-anchor="middle" fill="#111" stroke="#111" stroke-width="0.15">NOL9</text><text x="425.6" y="805.82" font-family="Liberation Sans" font-size="6.4" text-anchor="middle" fill="#111" stroke="#111" stroke-width="0.15">RB1</text><text x="425.6" y="812.48" font-family="Liberation Sans" font-size="6.4" text-anchor="middle" fill="#111" stroke="#111" stroke-width="0.15">SETD1B</text><text x="425.6" y="819.14" font-family="Liberation Sans" font-size="6.4" text-anchor="middle" fill="#111" stroke="#111" stroke-width="0.15">TAF1</text><text x="425.6" y="825.79" font-family="Liberation Sans" font-size="6.4" text-anchor="middle" fill="#111" stroke="#111" stroke-width="0.15">TOX</text><text x="425.6" y="832.45" font-family="Liberation Sans" font-size="6.4" text-anchor="middle" fill="#111" stroke="#111" stroke-width="0.15">UBE2A</text><text x="425.6" y="839.1" font-family="Liberation Sans" font-size="6.4" text-anchor="middle" fill="#111" stroke="#111" stroke-width="0.15">WEE1</text><text x="425.6" y="845.76" font-family="Liberation Sans" font-size="6.4" text-anchor="middle" fill="#111" stroke="#111" stroke-width="0.15">XPO1</text><text x="425.6" y="852.42" font-family="Liberation Sans" font-size="6.4" text-anchor="middle" fill="#111" stroke="#111" stroke-width="0.15">ZNF292</text><text x="425.6" y="859.07" font-family="Liberation Sans" font-size="6.4" text-anchor="middle" fill="#111" stroke="#111" stroke-width="0.15">GRHPR</text><text x="425.6" y="865.73" font-family="Liberation Sans" font-size="6.4" text-anchor="middle" fill="#111" stroke="#111" stroke-width="0.15">HIST2H2BE</text><text x="425.6" y="872.38" font-family="Liberation Sans" font-size="6.4" text-anchor="middle" fill="#111" stroke="#111" stroke-width="0.15">PIM2</text><text x="425.6" y="879.04" font-family="Liberation Sans" font-size="6.4" text-anchor="middle" fill="#111" stroke="#111" stroke-width="0.15">CD58</text><text x="425.6" y="885.7" font-family="Liberation Sans" font-size="6.4" text-anchor="middle" fill="#111" stroke="#111" stroke-width="0.15">FBXW7</text><text x="425.6" y="892.35" font-family="Liberation Sans" font-size="6.4" text-anchor="middle" fill="#111" stroke="#111" stroke-width="0.15">KLHL14</text><text x="425.6" y="899.01" font-family="Liberation Sans" font-size="6.4" text-anchor="middle" fill="#111" stroke="#111" stroke-width="0.15">MGA</text><text x="425.6" y="905.66" font-family="Liberation Sans" font-size="6.4" text-anchor="middle" fill="#111" stroke="#111" stroke-width="0.15">MPEG1</text><text x="425.6" y="912.32" font-family="Liberation Sans" font-size="6.4" text-anchor="middle" fill="#111" stroke="#111" stroke-width="0.15">NFKBIE</text><text x="425.6" y="918.98" font-family="Liberation Sans" font-size="6.4" text-anchor="middle" fill="#111" stroke="#111" stroke-width="0.15">NOTCH2</text><text x="425.6" y="925.63" font-family="Liberation Sans" font-size="6.4" text-anchor="middle" fill="#111" stroke="#111" stroke-width="0.15">PRDM1</text><text x="425.6" y="932.29" font-family="Liberation Sans" font-size="6.4" text-anchor="middle" fill="#111" stroke="#111" stroke-width="0.15">SPEN</text><text x="425.6" y="938.94" font-family="Liberation Sans" font-size="6.4" text-anchor="middle" fill="#111" stroke="#111" stroke-width="0.15">STAT3</text><text x="425.6" y="945.6" font-family="Liberation Sans" font-size="6.4" text-anchor="middle" fill="#111" stroke="#111" stroke-width="0.15">CIITA</text><text x="425.6" y="952.26" font-family="Liberation Sans" font-size="6.4" text-anchor="middle" fill="#111" stroke="#111" stroke-width="0.15">ETV6</text><text x="425.6" y="958.91" font-family="Liberation Sans" font-size="6.4" text-anchor="middle" fill="#111" stroke="#111" stroke-width="0.15">IL4R</text><text x="425.6" y="965.57" font-family="Liberation Sans" font-size="6.4" text-anchor="middle" fill="#111" stroke="#111" stroke-width="0.15">MS4A1</text><text x="425.6" y="972.22" font-family="Liberation Sans" font-size="6.4" text-anchor="middle" fill="#111" stroke="#111" stroke-width="0.15">NFKBIZ</text><text x="425.6" y="978.88" font-family="Liberation Sans" font-size="6.4" text-anchor="middle" fill="#111" stroke="#111" stroke-width="0.15">OSBPL10</text><rect x="450" y="28.2" width="27.5" height="6.66" fill="#ffffff" stroke="#5e5e5e" stroke-width="1"/><rect x="481.7" y="28.2" width="27.6" height="6.66" fill="#ffffff" stroke="#5e5e5e" stroke-width="1"/><rect x="450" y="34.86" width="27.5" height="6.66" fill="#ffffff" stroke="#5e5e5e" stroke-width="1"/><rect x="481.7" y="34.86" width="27.6" height="6.66" fill="#a298d6" stroke="#5e5e5e" stroke-width="1"/><rect x="450" y="41.51" width="27.5" height="6.66" fill="#ffffff" stroke="#5e5e5e" stroke-width="1"/><rect x="481.7" y="41.51" width="27.6" height="6.66" fill="#e5402f" stroke="#5e5e5e" stroke-width="1"/><rect x="450" y="48.17" width="27.5" height="6.66" fill="#ffffff" stroke="#5e5e5e" stroke-width="1"/><rect x="481.7" y="48.17" width="27.6" height="6.66" fill="#e5402f" stroke="#5e5e5e" stroke-width="1"/><rect x="450" y="54.82" width="27.5" height="6.66" fill="#ffffff" stroke="#5e5e5e" stroke-width="1"/><rect x="481.7" y="54.82" width="27.6" height="6.66" fill="#a298d6" stroke="#5e5e5e" stroke-width="1"/><rect x="450" y="61.48" width="27.5" height="6.66" fill="#ffffff" stroke="#5e5e5e" stroke-width="1"/><rect x="481.7" y="61.48" width="27.6" height="6.66" fill="#a298d6" stroke="#5e5e5e" stroke-width="1"/><rect x="450" y="68.14" width="27.5" height="6.66" fill="#ffffff" stroke="#5e5e5e" stroke-width="1"/><rect x="481.7" y="68.14" width="27.6" height="6.66" fill="#a298d6" stroke="#5e5e5e" stroke-width="1"/><rect x="450" y="74.79" width="27.5" height="6.66" fill="#ffffff" stroke="#5e5e5e" stroke-width="1"/><rect x="481.7" y="74.79" width="27.6" height="6.66" fill="#a298d6" stroke="#5e5e5e" stroke-width="1"/><rect x="450" y="81.45" width="27.5" height="6.66" fill="#c7c7ca" stroke="#5e5e5e" stroke-width="1"/><rect x="481.7" y="81.45" width="27.6" height="6.66" fill="#a298d6" stroke="#5e5e5e" stroke-width="1"/><rect x="450" y="88.1" width="27.5" height="6.66" fill="#c7c7ca" stroke="#5e5e5e" stroke-width="1"/><rect x="481.7" y="88.1" width="27.6" height="6.66" fill="#a298d6" stroke="#5e5e5e" stroke-width="1"/><rect x="450" y="94.76" width="27.5" height="6.66" fill="#c7c7ca" stroke="#5e5e5e" stroke-width="1"/><rect x="481.7" y="94.76" width="27.6" height="6.66" fill="#ffffff" stroke="#5e5e5e" stroke-width="1"/><rect x="450" y="101.42" width="27.5" height="6.66" fill="#c7c7ca" stroke="#5e5e5e" stroke-width="1"/><rect x="481.7" y="101.42" width="27.6" height="6.66" fill="#e5402f" stroke="#5e5e5e" stroke-width="1"/><rect x="450" y="108.07" width="27.5" height="6.66" fill="#ffffff" stroke="#5e5e5e" stroke-width="1"/><rect x="481.7" y="108.07" width="27.6" height="6.66" fill="#a298d6" stroke="#5e5e5e" stroke-width="1"/><rect x="450" y="114.73" width="27.5" height="6.66" fill="#ffffff" stroke="#5e5e5e" stroke-width="1"/><rect x="481.7" y="114.73" width="27.6" height="6.66" fill="#a298d6" stroke="#5e5e5e" stroke-width="1"/><rect x="450" y="121.38" width="27.5" height="6.66" fill="#ffffff" stroke="#5e5e5e" stroke-width="1"/><rect x="481.7" y="121.38" width="27.6" height="6.66" fill="#ffffff" stroke="#5e5e5e" stroke-width="1"/><rect x="450" y="128.04" width="27.5" height="6.66" fill="#ffffff" stroke="#5e5e5e" stroke-width="1"/><rect x="481.7" y="128.04" width="27.6" height="6.66" fill="#ffffff" stroke="#5e5e5e" stroke-width="1"/><rect x="450" y="134.7" width="27.5" height="6.66" fill="#ffffff" stroke="#5e5e5e" stroke-width="1"/><rect x="481.7" y="134.7" width="27.6" height="6.66" fill="#ffffff" stroke="#5e5e5e" stroke-width="1"/><rect x="450" y="141.35" width="27.5" height="6.66" fill="#ffffff" stroke="#5e5e5e" stroke-width="1"/><rect x="481.7" y="141.35" width="27.6" height="6.66" fill="#ffffff" stroke="#5e5e5e" stroke-width="1"/><rect x="450" y="148.01" width="27.5" height="6.66" fill="#ffffff" stroke="#5e5e5e" stroke-width="1"/><rect x="481.7" y="148.01" width="27.6" height="6.66" fill="#a298d6" stroke="#5e5e5e" stroke-width="1"/><rect x="450" y="154.66" width="27.5" height="6.66" fill="#ffffff" stroke="#5e5e5e" stroke-width="1"/><rect x="481.7" y="154.66" width="27.6" height="6.66" fill="#a298d6" stroke="#5e5e5e" stroke-width="1"/><rect x="450" y="161.32" width="27.5" height="6.66" fill="#ffffff" stroke="#5e5e5e" stroke-width="1"/><rect x="481.7" y="161.32" width="27.6" height="6.66" fill="#ffffff" stroke="#5e5e5e" stroke-width="1"/><rect x="450" y="167.98" width="27.5" height="6.66" fill="#ffffff" stroke="#5e5e5e" stroke-width="1"/><rect x="481.7" y="167.98" width="27.6" height="6.66" fill="#ffffff" stroke="#5e5e5e" stroke-width="1"/><rect x="450" y="174.63" width="27.5" height="6.66" fill="#ffffff" stroke="#5e5e5e" stroke-width="1"/><rect x="481.7" y="174.63" width="27.6" height="6.66" fill="#ffffff" stroke="#5e5e5e" stroke-width="1"/><rect x="450" y="181.29" width="27.5" height="6.66" fill="#c7c7ca" stroke="#5e5e5e" stroke-width="1"/><rect x="481.7" y="181.29" width="27.6" height="6.66" fill="#ffffff" stroke="#5e5e5e" stroke-width="1"/><rect x="450" y="187.94" width="27.5" height="6.66" fill="#ffffff" stroke="#5e5e5e" stroke-width="1"/><rect x="481.7" y="187.94" width="27.6" height="6.66" fill="#a298d6" stroke="#5e5e5e" stroke-width="1"/><rect x="450" y="194.6" width="27.5" height="6.66" fill="#ffffff" stroke="#5e5e5e" stroke-width="1"/><rect x="481.7" y="194.6" width="27.6" height="6.66" fill="#ffffff" stroke="#5e5e5e" stroke-width="1"/><rect x="450" y="201.26" width="27.5" height="6.66" fill="#ffffff" stroke="#5e5e5e" stroke-width="1"/><rect x="481.7" y="201.26" width="27.6" height="6.66" fill="#ffffff" stroke="#5e5e5e" stroke-width="1"/><rect x="450" y="207.91" width="27.5" height="6.66" fill="#ffffff" stroke="#5e5e5e" stroke-width="1"/><rect x="481.7" y="207.91" width="27.6" height="6.66" fill="#ffffff" stroke="#5e5e5e" stroke-width="1"/><rect x="450" y="214.57" width="27.5" height="6.66" fill="#ffffff" stroke="#5e5e5e" stroke-width="1"/><rect x="481.7" y="214.57" width="27.6" height="6.66" fill="#ffffff" stroke="#5e5e5e" stroke-width="1"/><rect x="450" y="221.22" width="27.5" height="6.66" fill="#ffffff" stroke="#5e5e5e" stroke-width="1"/><rect x="481.7" y="221.22" width="27.6" height="6.66" fill="#e5402f" stroke="#5e5e5e" stroke-width="1"/><rect x="450" y="227.88" width="27.5" height="6.66" fill="#ffffff" stroke="#5e5e5e" stroke-width="1"/><rect x="481.7" y="227.88" width="27.6" height="6.66" fill="#a298d6" stroke="#5e5e5e" stroke-width="1"/><rect x="450" y="234.54" width="27.5" height="6.66" fill="#c7c7ca" stroke="#5e5e5e" stroke-width="1"/><rect x="481.7" y="234.54" width="27.6" height="6.66" fill="#ffffff" stroke="#5e5e5e" stroke-width="1"/><rect x="450" y="241.19" width="27.5" height="6.66" fill="#c7c7ca" stroke="#5e5e5e" stroke-width="1"/><rect x="481.7" y="241.19" width="27.6" height="6.66" fill="#ffffff" stroke="#5e5e5e" stroke-width="1"/><rect x="450" y="247.85" width="27.5" height="6.66" fill="#ffffff" stroke="#5e5e5e" stroke-width="1"/><rect x="481.7" y="247.85" width="27.6" height="6.66" fill="#a298d6" stroke="#5e5e5e" stroke-width="1"/><rect x="450" y="254.5" width="27.5" height="6.66" fill="#ffffff" stroke="#5e5e5e" stroke-width="1"/><rect x="481.7" y="254.5" width="27.6" height="6.66" fill="#e5402f" stroke="#5e5e5e" stroke-width="1"/><rect x="450" y="261.16" width="27.5" height="6.66" fill="#c7c7ca" stroke="#5e5e5e" stroke-width="1"/><rect x="481.7" y="261.16" width="27.6" height="6.66" fill="#ffffff" stroke="#5e5e5e" stroke-width="1"/><rect x="450" y="267.82" width="27.5" height="6.66" fill="#c7c7ca" stroke="#5e5e5e" stroke-width="1"/><rect x="481.7" y="267.82" width="27.6" height="6.66" fill="#a298d6" stroke="#5e5e5e" stroke-width="1"/><rect x="450" y="274.47" width="27.5" height="6.66" fill="#c7c7ca" stroke="#5e5e5e" stroke-width="1"/><rect x="481.7" y="274.47" width="27.6" height="6.66" fill="#e5402f" stroke="#5e5e5e" stroke-width="1"/><rect x="450" y="281.13" width="27.5" height="6.66" fill="#c7c7ca" stroke="#5e5e5e" stroke-width="1"/><rect x="481.7" y="281.13" width="27.6" height="6.66" fill="#ffffff" stroke="#5e5e5e" stroke-width="1"/><rect x="450" y="287.78" width="27.5" height="6.66" fill="#c7c7ca" stroke="#5e5e5e" stroke-width="1"/><rect x="481.7" y="287.78" width="27.6" height="6.66" fill="#a298d6" stroke="#5e5e5e" stroke-width="1"/><rect x="450" y="294.44" width="27.5" height="6.66" fill="#c7c7ca" stroke="#5e5e5e" stroke-width="1"/><rect x="481.7" y="294.44" width="27.6" height="6.66" fill="#a298d6" stroke="#5e5e5e" stroke-width="1"/><rect x="450" y="301.1" width="27.5" height="6.66" fill="#ffffff" stroke="#5e5e5e" stroke-width="1"/><rect x="481.7" y="301.1" width="27.6" height="6.66" fill="#ffffff" stroke="#5e5e5e" stroke-width="1"/><rect x="450" y="307.75" width="27.5" height="6.66" fill="#ffffff" stroke="#5e5e5e" stroke-width="1"/><rect x="481.7" y="307.75" width="27.6" height="6.66" fill="#ffffff" stroke="#5e5e5e" stroke-width="1"/><rect x="450" y="314.41" width="27.5" height="6.66" fill="#ffffff" stroke="#5e5e5e" stroke-width="1"/><rect x="481.7" y="314.41" width="27.6" height="6.66" fill="#ffffff" stroke="#5e5e5e" stroke-width="1"/><rect x="450" y="321.06" width="27.5" height="6.66" fill="#c7c7ca" stroke="#5e5e5e" stroke-width="1"/><rect x="481.7" y="321.06" width="27.6" height="6.66" fill="#ffffff" stroke="#5e5e5e" stroke-width="1"/><rect x="450" y="327.72" width="27.5" height="6.66" fill="#ffffff" stroke="#5e5e5e" stroke-width="1"/><rect x="481.7" y="327.72" width="27.6" height="6.66" fill="#a298d6" stroke="#5e5e5e" stroke-width="1"/><rect x="450" y="334.38" width="27.5" height="6.66" fill="#c7c7ca" stroke="#5e5e5e" stroke-width="1"/><rect x="481.7" y="334.38" width="27.6" height="6.66" fill="#ffffff" stroke="#5e5e5e" stroke-width="1"/><rect x="450" y="341.03" width="27.5" height="6.66" fill="#c7c7ca" stroke="#5e5e5e" stroke-width="1"/><rect x="481.7" y="341.03" width="27.6" height="6.66" fill="#ffffff" stroke="#5e5e5e" stroke-width="1"/><rect x="450" y="347.69" width="27.5" height="6.66" fill="#ffffff" stroke="#5e5e5e" stroke-width="1"/><rect x="481.7" y="347.69" width="27.6" height="6.66" fill="#ffffff" stroke="#5e5e5e" stroke-width="1"/><rect x="450" y="354.34" width="27.5" height="6.66" fill="#ffffff" stroke="#5e5e5e" stroke-width="1"/><rect x="481.7" y="354.34" width="27.6" height="6.66" fill="#e5402f" stroke="#5e5e5e" stroke-width="1"/><rect x="450" y="361" width="27.5" height="6.66" fill="#c7c7ca" stroke="#5e5e5e" stroke-width="1"/><rect x="481.7" y="361" width="27.6" height="6.66" fill="#ffffff" stroke="#5e5e5e" stroke-width="1"/><rect x="450" y="367.66" width="27.5" height="6.66" fill="#c7c7ca" stroke="#5e5e5e" stroke-width="1"/><rect x="481.7" y="367.66" width="27.6" height="6.66" fill="#a298d6" stroke="#5e5e5e" stroke-width="1"/><rect x="450" y="374.31" width="27.5" height="6.66" fill="#ffffff" stroke="#5e5e5e" stroke-width="1"/><rect x="481.7" y="374.31" width="27.6" height="6.66" fill="#ffffff" stroke="#5e5e5e" stroke-width="1"/><rect x="450" y="380.97" width="27.5" height="6.66" fill="#ffffff" stroke="#5e5e5e" stroke-width="1"/><rect x="481.7" y="380.97" width="27.6" height="6.66" fill="#ffffff" stroke="#5e5e5e" stroke-width="1"/><rect x="450" y="387.62" width="27.5" height="6.66" fill="#ffffff" stroke="#5e5e5e" stroke-width="1"/><rect x="481.7" y="387.62" width="27.6" height="6.66" fill="#ffffff" stroke="#5e5e5e" stroke-width="1"/><rect x="450" y="394.28" width="27.5" height="6.66" fill="#c7c7ca" stroke="#5e5e5e" stroke-width="1"/><rect x="481.7" y="394.28" width="27.6" height="6.66" fill="#ffffff" stroke="#5e5e5e" stroke-width="1"/><rect x="450" y="400.94" width="27.5" height="6.66" fill="#c7c7ca" stroke="#5e5e5e" stroke-width="1"/><rect x="481.7" y="400.94" width="27.6" height="6.66" fill="#ffffff" stroke="#5e5e5e" stroke-width="1"/><rect x="450" y="407.59" width="27.5" height="6.66" fill="#ffffff" stroke="#5e5e5e" stroke-width="1"/><rect x="481.7" y="407.59" width="27.6" height="6.66" fill="#e5402f" stroke="#5e5e5e" stroke-width="1"/><rect x="450" y="414.25" width="27.5" height="6.66" fill="#ffffff" stroke="#5e5e5e" stroke-width="1"/><rect x="481.7" y="414.25" width="27.6" height="6.66" fill="#ffffff" stroke="#5e5e5e" stroke-width="1"/><rect x="450" y="420.9" width="27.5" height="6.66" fill="#ffffff" stroke="#5e5e5e" stroke-width="1"/><rect x="481.7" y="420.9" width="27.6" height="6.66" fill="#ffffff" stroke="#5e5e5e" stroke-width="1"/><rect x="450" y="427.56" width="27.5" height="6.66" fill="#c7c7ca" stroke="#5e5e5e" stroke-width="1"/><rect x="481.7" y="427.56" width="27.6" height="6.66" fill="#ffffff" stroke="#5e5e5e" stroke-width="1"/><rect x="450" y="434.22" width="27.5" height="6.66" fill="#c7c7ca" stroke="#5e5e5e" stroke-width="1"/><rect x="481.7" y="434.22" width="27.6" height="6.66" fill="#ffffff" stroke="#5e5e5e" stroke-width="1"/><rect x="450" y="440.87" width="27.5" height="6.66" fill="#c7c7ca" stroke="#5e5e5e" stroke-width="1"/><rect x="481.7" y="440.87" width="27.6" height="6.66" fill="#ffffff" stroke="#5e5e5e" stroke-width="1"/><rect x="450" y="447.53" width="27.5" height="6.66" fill="#c7c7ca" stroke="#5e5e5e" stroke-width="1"/><rect x="481.7" y="447.53" width="27.6" height="6.66" fill="#ffffff" stroke="#5e5e5e" stroke-width="1"/><rect x="450" y="454.18" width="27.5" height="6.66" fill="#c7c7ca" stroke="#5e5e5e" stroke-width="1"/><rect x="481.7" y="454.18" width="27.6" height="6.66" fill="#a298d6" stroke="#5e5e5e" stroke-width="1"/><rect x="450" y="460.84" width="27.5" height="6.66" fill="#c7c7ca" stroke="#5e5e5e" stroke-width="1"/><rect x="481.7" y="460.84" width="27.6" height="6.66" fill="#ffffff" stroke="#5e5e5e" stroke-width="1"/><rect x="450" y="467.5" width="27.5" height="6.66" fill="#ffffff" stroke="#5e5e5e" stroke-width="1"/><rect x="481.7" y="467.5" width="27.6" height="6.66" fill="#a298d6" stroke="#5e5e5e" stroke-width="1"/><rect x="450" y="474.15" width="27.5" height="6.66" fill="#ffffff" stroke="#5e5e5e" stroke-width="1"/><rect x="481.7" y="474.15" width="27.6" height="6.66" fill="#e5402f" stroke="#5e5e5e" stroke-width="1"/><rect x="450" y="480.81" width="27.5" height="6.66" fill="#ffffff" stroke="#5e5e5e" stroke-width="1"/><rect x="481.7" y="480.81" width="27.6" height="6.66" fill="#e5402f" stroke="#5e5e5e" stroke-width="1"/><rect x="450" y="487.46" width="27.5" height="6.66" fill="#ffffff" stroke="#5e5e5e" stroke-width="1"/><rect x="481.7" y="487.46" width="27.6" height="6.66" fill="#ffffff" stroke="#5e5e5e" stroke-width="1"/><rect x="450" y="494.12" width="27.5" height="6.66" fill="#ffffff" stroke="#5e5e5e" stroke-width="1"/><rect x="481.7" y="494.12" width="27.6" height="6.66" fill="#a298d6" stroke="#5e5e5e" stroke-width="1"/><rect x="450" y="500.78" width="27.5" height="6.66" fill="#ffffff" stroke="#5e5e5e" stroke-width="1"/><rect x="481.7" y="500.78" width="27.6" height="6.66" fill="#a298d6" stroke="#5e5e5e" stroke-width="1"/><rect x="450" y="507.43" width="27.5" height="6.66" fill="#ffffff" stroke="#5e5e5e" stroke-width="1"/><rect x="481.7" y="507.43" width="27.6" height="6.66" fill="#a298d6" stroke="#5e5e5e" stroke-width="1"/><rect x="450" y="514.09" width="27.5" height="6.66" fill="#ffffff" stroke="#5e5e5e" stroke-width="1"/><rect x="481.7" y="514.09" width="27.6" height="6.66" fill="#e5402f" stroke="#5e5e5e" stroke-width="1"/><rect x="450" y="520.74" width="27.5" height="6.66" fill="#ffffff" stroke="#5e5e5e" stroke-width="1"/><rect x="481.7" y="520.74" width="27.6" height="6.66" fill="#e5402f" stroke="#5e5e5e" stroke-width="1"/><rect x="450" y="527.4" width="27.5" height="6.66" fill="#ffffff" stroke="#5e5e5e" stroke-width="1"/><rect x="481.7" y="527.4" width="27.6" height="6.66" fill="#e5402f" stroke="#5e5e5e" stroke-width="1"/><rect x="450" y="534.06" width="27.5" height="6.66" fill="#ffffff" stroke="#5e5e5e" stroke-width="1"/><rect x="481.7" y="534.06" width="27.6" height="6.66" fill="#e5402f" stroke="#5e5e5e" stroke-width="1"/><rect x="450" y="540.71" width="27.5" height="6.66" fill="#ffffff" stroke="#5e5e5e" stroke-width="1"/><rect x="481.7" y="540.71" width="27.6" height="6.66" fill="#a298d6" stroke="#5e5e5e" stroke-width="1"/><rect x="450" y="547.37" width="27.5" height="6.66" fill="#c7c7ca" stroke="#5e5e5e" stroke-width="1"/><rect x="481.7" y="547.37" width="27.6" height="6.66" fill="#ffffff" stroke="#5e5e5e" stroke-width="1"/><rect x="450" y="554.02" width="27.5" height="6.66" fill="#c7c7ca" stroke="#5e5e5e" stroke-width="1"/><rect x="481.7" y="554.02" width="27.6" height="6.66" fill="#ffffff" stroke="#5e5e5e" stroke-width="1"/><rect x="450" y="560.68" width="27.5" height="6.66" fill="#c7c7ca" stroke="#5e5e5e" stroke-width="1"/><rect x="481.7" y="560.68" width="27.6" height="6.66" fill="#e5402f" stroke="#5e5e5e" stroke-width="1"/><rect x="450" y="567.34" width="27.5" height="6.66" fill="#c7c7ca" stroke="#5e5e5e" stroke-width="1"/><rect x="481.7" y="567.34" width="27.6" height="6.66" fill="#f8d84e" stroke="#5e5e5e" stroke-width="1"/><rect x="450" y="573.99" width="27.5" height="6.66" fill="#c7c7ca" stroke="#5e5e5e" stroke-width="1"/><rect x="481.7" y="573.99" width="27.6" height="6.66" fill="#e5402f" stroke="#5e5e5e" stroke-width="1"/><rect x="450" y="580.65" width="27.5" height="6.66" fill="#c7c7ca" stroke="#5e5e5e" stroke-width="1"/><rect x="481.7" y="580.65" width="27.6" height="6.66" fill="#a298d6" stroke="#5e5e5e" stroke-width="1"/><rect x="450" y="587.3" width="27.5" height="6.66" fill="#ffffff" stroke="#5e5e5e" stroke-width="1"/><rect x="481.7" y="587.3" width="27.6" height="6.66" fill="#ffffff" stroke="#5e5e5e" stroke-width="1"/><rect x="450" y="593.96" width="27.5" height="6.66" fill="#ffffff" stroke="#5e5e5e" stroke-width="1"/><rect x="481.7" y="593.96" width="27.6" height="6.66" fill="#ffffff" stroke="#5e5e5e" stroke-width="1"/><rect x="450" y="600.62" width="27.5" height="6.66" fill="#ffffff" stroke="#5e5e5e" stroke-width="1"/><rect x="481.7" y="600.62" width="27.6" height="6.66" fill="#ffffff" stroke="#5e5e5e" stroke-width="1"/><rect x="450" y="607.27" width="27.5" height="6.66" fill="#ffffff" stroke="#5e5e5e" stroke-width="1"/><rect x="481.7" y="607.27" width="27.6" height="6.66" fill="#ffffff" stroke="#5e5e5e" stroke-width="1"/><rect x="450" y="613.93" width="27.5" height="6.66" fill="#ffffff" stroke="#5e5e5e" stroke-width="1"/><rect x="481.7" y="613.93" width="27.6" height="6.66" fill="#ffffff" stroke="#5e5e5e" stroke-width="1"/><rect x="450" y="620.58" width="27.5" height="6.66" fill="#ffffff" stroke="#5e5e5e" stroke-width="1"/><rect x="481.7" y="620.58" width="27.6" height="6.66" fill="#ffffff" stroke="#5e5e5e" stroke-width="1"/><rect x="450" y="627.24" width="27.5" height="6.66" fill="#ffffff" stroke="#5e5e5e" stroke-width="1"/><rect x="481.7" y="627.24" width="27.6" height="6.66" fill="#ffffff" stroke="#5e5e5e" stroke-width="1"/><rect x="450" y="633.9" width="27.5" height="6.66" fill="#ffffff" stroke="#5e5e5e" stroke-width="1"/><rect x="481.7" y="633.9" width="27.6" height="6.66" fill="#ffffff" stroke="#5e5e5e" stroke-width="1"/><rect x="450" y="640.55" width="27.5" height="6.66" fill="#ffffff" stroke="#5e5e5e" stroke-width="1"/><rect x="481.7" y="640.55" width="27.6" height="6.66" fill="#ffffff" stroke="#5e5e5e" stroke-width="1"/><rect x="450" y="647.21" width="27.5" height="6.66" fill="#ffffff" stroke="#5e5e5e" stroke-width="1"/><rect x="481.7" y="647.21" width="27.6" height="6.66" fill="#ffffff" stroke="#5e5e5e" stroke-width="1"/><rect x="450" y="653.86" width="27.5" height="6.66" fill="#ffffff" stroke="#5e5e5e" stroke-width="1"/><rect x="481.7" y="653.86" width="27.6" height="6.66" fill="#ffffff" stroke="#5e5e5e" stroke-width="1"/><rect x="450" y="660.52" width="27.5" height="6.66" fill="#ffffff" stroke="#5e5e5e" stroke-width="1"/><rect x="481.7" y="660.52" width="27.6" height="6.66" fill="#ffffff" stroke="#5e5e5e" stroke-width="1"/><rect x="450" y="667.18" width="27.5" height="6.66" fill="#c7c7ca" stroke="#5e5e5e" stroke-width="1"/><rect x="481.7" y="667.18" width="27.6" height="6.66" fill="#ffffff" stroke="#5e5e5e" stroke-width="1"/><rect x="450" y="673.83" width="27.5" height="6.66" fill="#c7c7ca" stroke="#5e5e5e" stroke-width="1"/><rect x="481.7" y="673.83" width="27.6" height="6.66" fill="#ffffff" stroke="#5e5e5e" stroke-width="1"/><rect x="450" y="680.49" width="27.5" height="6.66" fill="#c7c7ca" stroke="#5e5e5e" stroke-width="1"/><rect x="481.7" y="680.49" width="27.6" height="6.66" fill="#ffffff" stroke="#5e5e5e" stroke-width="1"/><rect x="450" y="687.14" width="27.5" height="6.66" fill="#c7c7ca" stroke="#5e5e5e" stroke-width="1"/><rect x="481.7" y="687.14" width="27.6" height="6.66" fill="#ffffff" stroke="#5e5e5e" stroke-width="1"/><rect x="450" y="693.8" width="27.5" height="6.66" fill="#c7c7ca" stroke="#5e5e5e" stroke-width="1"/><rect x="481.7" y="693.8" width="27.6" height="6.66" fill="#ffffff" stroke="#5e5e5e" stroke-width="1"/><rect x="450" y="700.46" width="27.5" height="6.66" fill="#c7c7ca" stroke="#5e5e5e" stroke-width="1"/><rect x="481.7" y="700.46" width="27.6" height="6.66" fill="#ffffff" stroke="#5e5e5e" stroke-width="1"/><rect x="450" y="707.11" width="27.5" height="6.66" fill="#ffffff" stroke="#5e5e5e" stroke-width="1"/><rect x="481.7" y="707.11" width="27.6" height="6.66" fill="#e5402f" stroke="#5e5e5e" stroke-width="1"/><rect x="450" y="713.77" width="27.5" height="6.66" fill="#ffffff" stroke="#5e5e5e" stroke-width="1"/><rect x="481.7" y="713.77" width="27.6" height="6.66" fill="#a298d6" stroke="#5e5e5e" stroke-width="1"/><rect x="450" y="720.42" width="27.5" height="6.66" fill="#c7c7ca" stroke="#5e5e5e" stroke-width="1"/><rect x="481.7" y="720.42" width="27.6" height="6.66" fill="#ffffff" stroke="#5e5e5e" stroke-width="1"/><rect x="450" y="727.08" width="27.5" height="6.66" fill="#ffffff" stroke="#5e5e5e" stroke-width="1"/><rect x="481.7" y="727.08" width="27.6" height="6.66" fill="#ffffff" stroke="#5e5e5e" stroke-width="1"/><rect x="450" y="733.74" width="27.5" height="6.66" fill="#ffffff" stroke="#5e5e5e" stroke-width="1"/><rect x="481.7" y="733.74" width="27.6" height="6.66" fill="#ffffff" stroke="#5e5e5e" stroke-width="1"/><rect x="450" y="740.39" width="27.5" height="6.66" fill="#ffffff" stroke="#5e5e5e" stroke-width="1"/><rect x="481.7" y="740.39" width="27.6" height="6.66" fill="#ffffff" stroke="#5e5e5e" stroke-width="1"/><rect x="450" y="747.05" width="27.5" height="6.66" fill="#ffffff" stroke="#5e5e5e" stroke-width="1"/><rect x="481.7" y="747.05" width="27.6" height="6.66" fill="#ffffff" stroke="#5e5e5e" stroke-width="1"/><rect x="450" y="753.7" width="27.5" height="6.66" fill="#ffffff" stroke="#5e5e5e" stroke-width="1"/><rect x="481.7" y="753.7" width="27.6" height="6.66" fill="#ffffff" stroke="#5e5e5e" stroke-width="1"/><rect x="450" y="760.36" width="27.5" height="6.66" fill="#ffffff" stroke="#5e5e5e" stroke-width="1"/><rect x="481.7" y="760.36" width="27.6" height="6.66" fill="#ffffff" stroke="#5e5e5e" stroke-width="1"/><rect x="450" y="767.02" width="27.5" height="6.66" fill="#ffffff" stroke="#5e5e5e" stroke-width="1"/><rect x="481.7" y="767.02" width="27.6" height="6.66" fill="#ffffff" stroke="#5e5e5e" stroke-width="1"/><rect x="450" y="773.67" width="27.5" height="6.66" fill="#ffffff" stroke="#5e5e5e" stroke-width="1"/><rect x="481.7" y="773.67" width="27.6" height="6.66" fill="#ffffff" stroke="#5e5e5e" stroke-width="1"/><rect x="450" y="780.33" width="27.5" height="6.66" fill="#ffffff" stroke="#5e5e5e" stroke-width="1"/><rect x="481.7" y="780.33" width="27.6" height="6.66" fill="#ffffff" stroke="#5e5e5e" stroke-width="1"/><rect x="450" y="786.98" width="27.5" height="6.66" fill="#ffffff" stroke="#5e5e5e" stroke-width="1"/><rect x="481.7" y="786.98" width="27.6" height="6.66" fill="#ffffff" stroke="#5e5e5e" stroke-width="1"/><rect x="450" y="793.64" width="27.5" height="6.66" fill="#ffffff" stroke="#5e5e5e" stroke-width="1"/><rect x="481.7" y="793.64" width="27.6" height="6.66" fill="#ffffff" stroke="#5e5e5e" stroke-width="1"/><rect x="450" y="800.3" width="27.5" height="6.66" fill="#ffffff" stroke="#5e5e5e" stroke-width="1"/><rect x="481.7" y="800.3" width="27.6" height="6.66" fill="#ffffff" stroke="#5e5e5e" stroke-width="1"/><rect x="450" y="806.95" width="27.5" height="6.66" fill="#ffffff" stroke="#5e5e5e" stroke-width="1"/><rect x="481.7" y="806.95" width="27.6" height="6.66" fill="#ffffff" stroke="#5e5e5e" stroke-width="1"/><rect x="450" y="813.61" width="27.5" height="6.66" fill="#ffffff" stroke="#5e5e5e" stroke-width="1"/><rect x="481.7" y="813.61" width="27.6" height="6.66" fill="#ffffff" stroke="#5e5e5e" stroke-width="1"/><rect x="450" y="820.26" width="27.5" height="6.66" fill="#ffffff" stroke="#5e5e5e" stroke-width="1"/><rect x="481.7" y="820.26" width="27.6" height="6.66" fill="#ffffff" stroke="#5e5e5e" stroke-width="1"/><rect x="450" y="826.92" width="27.5" height="6.66" fill="#ffffff" stroke="#5e5e5e" stroke-width="1"/><rect x="481.7" y="826.92" width="27.6" height="6.66" fill="#ffffff" stroke="#5e5e5e" stroke-width="1"/><rect x="450" y="833.58" width="27.5" height="6.66" fill="#ffffff" stroke="#5e5e5e" stroke-width="1"/><rect x="481.7" y="833.58" width="27.6" height="6.66" fill="#ffffff" stroke="#5e5e5e" stroke-width="1"/><rect x="450" y="840.23" width="27.5" height="6.66" fill="#ffffff" stroke="#5e5e5e" stroke-width="1"/><rect x="481.7" y="840.23" width="27.6" height="6.66" fill="#ffffff" stroke="#5e5e5e" stroke-width="1"/><rect x="450" y="846.89" width="27.5" height="6.66" fill="#ffffff" stroke="#5e5e5e" stroke-width="1"/><rect x="481.7" y="846.89" width="27.6" height="6.66" fill="#ffffff" stroke="#5e5e5e" stroke-width="1"/><rect x="450" y="853.54" width="27.5" height="6.66" fill="#c7c7ca" stroke="#5e5e5e" stroke-width="1"/><rect x="481.7" y="853.54" width="27.6" height="6.66" fill="#ffffff" stroke="#5e5e5e" stroke-width="1"/><rect x="450" y="860.2" width="27.5" height="6.66" fill="#c7c7ca" stroke="#5e5e5e" stroke-width="1"/><rect x="481.7" y="860.2" width="27.6" height="6.66" fill="#ffffff" stroke="#5e5e5e" stroke-width="1"/><rect x="450" y="866.86" width="27.5" height="6.66" fill="#c7c7ca" stroke="#5e5e5e" stroke-width="1"/><rect x="481.7" y="866.86" width="27.6" height="6.66" fill="#ffffff" stroke="#5e5e5e" stroke-width="1"/><rect x="450" y="873.51" width="27.5" height="6.66" fill="#ffffff" stroke="#5e5e5e" stroke-width="1"/><rect x="481.7" y="873.51" width="27.6" height="6.66" fill="#a298d6" stroke="#5e5e5e" stroke-width="1"/><rect x="450" y="880.17" width="27.5" height="6.66" fill="#ffffff" stroke="#5e5e5e" stroke-width="1"/><rect x="481.7" y="880.17" width="27.6" height="6.66" fill="#a298d6" stroke="#5e5e5e" stroke-width="1"/><rect x="450" y="886.82" width="27.5" height="6.66" fill="#ffffff" stroke="#5e5e5e" stroke-width="1"/><rect x="481.7" y="886.82" width="27.6" height="6.66" fill="#a298d6" stroke="#5e5e5e" stroke-width="1"/><rect x="450" y="893.48" width="27.5" height="6.66" fill="#ffffff" stroke="#5e5e5e" stroke-width="1"/><rect x="481.7" y="893.48" width="27.6" height="6.66" fill="#a298d6" stroke="#5e5e5e" stroke-width="1"/><rect x="450" y="900.14" width="27.5" height="6.66" fill="#ffffff" stroke="#5e5e5e" stroke-width="1"/><rect x="481.7" y="900.14" width="27.6" height="6.66" fill="#ffffff" stroke="#5e5e5e" stroke-width="1"/><rect x="450" y="906.79" width="27.5" height="6.66" fill="#ffffff" stroke="#5e5e5e" stroke-width="1"/><rect x="481.7" y="906.79" width="27.6" height="6.66" fill="#a298d6" stroke="#5e5e5e" stroke-width="1"/><rect x="450" y="913.45" width="27.5" height="6.66" fill="#ffffff" stroke="#5e5e5e" stroke-width="1"/><rect x="481.7" y="913.45" width="27.6" height="6.66" fill="#e5402f" stroke="#5e5e5e" stroke-width="1"/><rect x="450" y="920.1" width="27.5" height="6.66" fill="#ffffff" stroke="#5e5e5e" stroke-width="1"/><rect x="481.7" y="920.1" width="27.6" height="6.66" fill="#a298d6" stroke="#5e5e5e" stroke-width="1"/><rect x="450" y="926.76" width="27.5" height="6.66" fill="#ffffff" stroke="#5e5e5e" stroke-width="1"/><rect x="481.7" y="926.76" width="27.6" height="6.66" fill="#ffffff" stroke="#5e5e5e" stroke-width="1"/><rect x="450" y="933.42" width="27.5" height="6.66" fill="#ffffff" stroke="#5e5e5e" stroke-width="1"/><rect x="481.7" y="933.42" width="27.6" height="6.66" fill="#e5402f" stroke="#5e5e5e" stroke-width="1"/><rect x="450" y="940.07" width="27.5" height="6.66" fill="#c7c7ca" stroke="#5e5e5e" stroke-width="1"/><rect x="481.7" y="940.07" width="27.6" height="6.66" fill="#a298d6" stroke="#5e5e5e" stroke-width="1"/><rect x="450" y="946.73" width="27.5" height="6.66" fill="#c7c7ca" stroke="#5e5e5e" stroke-width="1"/><rect x="481.7" y="946.73" width="27.6" height="6.66" fill="#a298d6" stroke="#5e5e5e" stroke-width="1"/><rect x="450" y="953.38" width="27.5" height="6.66" fill="#c7c7ca" stroke="#5e5e5e" stroke-width="1"/><rect x="481.7" y="953.38" width="27.6" height="6.66" fill="#e5402f" stroke="#5e5e5e" stroke-width="1"/><rect x="450" y="960.04" width="27.5" height="6.66" fill="#c7c7ca" stroke="#5e5e5e" stroke-width="1"/><rect x="481.7" y="960.04" width="27.6" height="6.66" fill="#a298d6" stroke="#5e5e5e" stroke-width="1"/><rect x="450" y="966.7" width="27.5" height="6.66" fill="#c7c7ca" stroke="#5e5e5e" stroke-width="1"/><rect x="481.7" y="966.7" width="27.6" height="6.66" fill="#e5402f" stroke="#5e5e5e" stroke-width="1"/><rect x="450" y="973.35" width="27.5" height="6.66" fill="#c7c7ca" stroke="#5e5e5e" stroke-width="1"/><rect x="481.7" y="973.35" width="27.6" height="6.66" fill="#ffffff" stroke="#5e5e5e" stroke-width="1"/><text x="75.3" y="1009.3" font-family="Liberation Sans" font-size="11.2" text-anchor="middle" fill="#1a1a1a">Tier</text><rect x="51.2" y="1022.8" width="9.6" height="9.6" fill="#d6e29e" stroke="#4a4a3a" stroke-width="1"/><text x="56" y="1047.2" font-family="Liberation Sans" font-size="11.2" text-anchor="middle" fill="#1a1a1a">1</text><rect x="70.2" y="1022.8" width="9.6" height="9.6" fill="#fbcb4e" stroke="#4a4a3a" stroke-width="1"/><text x="75" y="1047.2" font-family="Liberation Sans" font-size="11.2" text-anchor="middle" fill="#1a1a1a">2</text><rect x="89.2" y="1022.8" width="9.6" height="9.6" fill="#f6a126" stroke="#4a4a3a" stroke-width="1"/><text x="94" y="1047.2" font-family="Liberation Sans" font-size="11.2" text-anchor="middle" fill="#1a1a1a">3</text><text x="121" y="1009.3" font-family="Liberation Sans" font-size="11.35" fill="#1a1a1a">Mutation incidence in patients (%)</text><rect x="128.5" y="1023" width="150.3" height="14.6" fill="url(#lg)"/><rect x="163.8" y="1034.3" width="1" height="3.3" fill="#fff" fill-opacity="0.85"/><rect x="200.7" y="1034.3" width="1" height="3.3" fill="#fff" fill-opacity="0.85"/><rect x="237.1" y="1034.3" width="1" height="3.3" fill="#fff" fill-opacity="0.85"/><rect x="272.9" y="1034.3" width="1" height="3.3" fill="#fff" fill-opacity="0.85"/><text x="128.8" y="1052.6" font-family="Liberation Sans" font-size="11.2" text-anchor="middle" fill="#1a1a1a">0</text><text x="279.3" y="1052.6" font-family="Liberation Sans" font-size="11.2" text-anchor="middle" fill="#1a1a1a">40</text><text transform="translate(468.4 985.4) rotate(-90)" font-family="Liberation Sans" font-size="11.2" text-anchor="end" fill="#1a1a1a">aSHM</text><text transform="translate(492.2 985.4) rotate(-90)" font-family="Liberation Sans" font-size="11.2" text-anchor="end" fill="#1a1a1a">Functional</text><text transform="translate(506.2 985.4) rotate(-90)" font-family="Liberation Sans" font-size="11.2" text-anchor="end" fill="#1a1a1a">Consequence</text></g></svg>
<div class="frame"></div>
</body></html>
